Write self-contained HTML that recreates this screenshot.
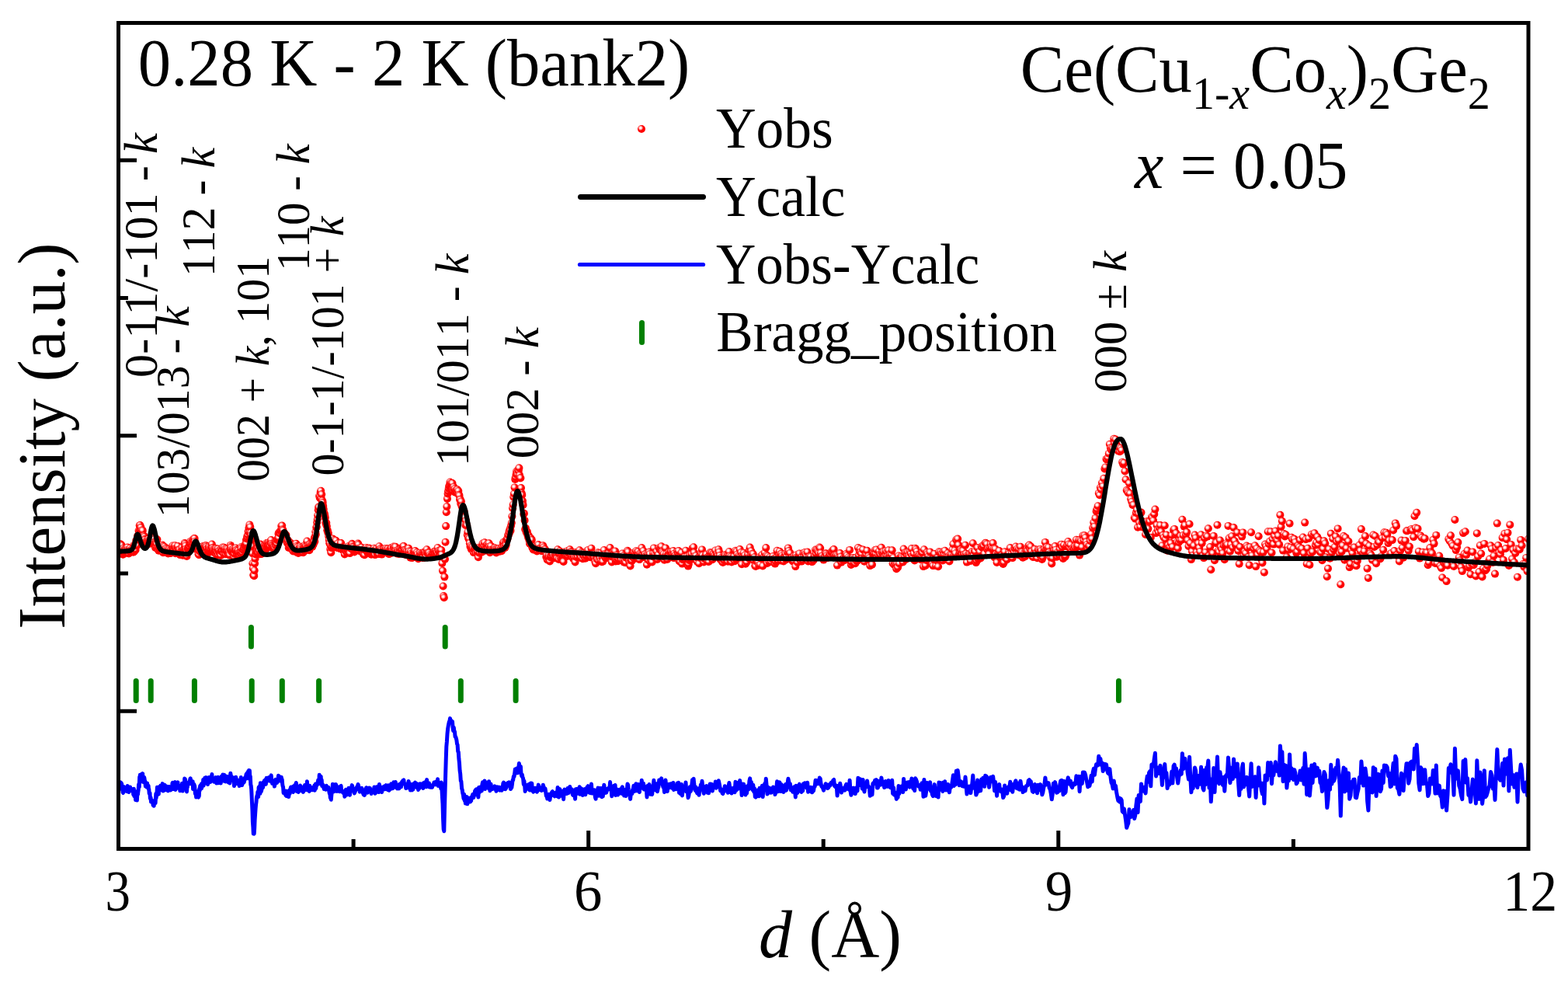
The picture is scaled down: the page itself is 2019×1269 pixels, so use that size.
<!DOCTYPE html>
<html><head><meta charset="utf-8"><title>Ce(Cu1-xCox)2Ge2 x = 0.05 diffraction</title>
<style>html,body{margin:0;padding:0;background:#fff;width:2019px;height:1269px;overflow:hidden}</style></head>
<body>
<svg width="2019" height="1269" viewBox="0 0 2019 1269" style="display:block">
<defs><radialGradient id="g" cx="0.38" cy="0.36" r="0.55"><stop offset="0" stop-color="#fff"/><stop offset="0.14" stop-color="#fff"/><stop offset="0.42" stop-color="#ff8c8c"/><stop offset="0.62" stop-color="#f00"/><stop offset="1" stop-color="#f00"/></radialGradient><clipPath id="cp"><rect x="155" y="32" width="1811" height="1058"/></clipPath></defs>
<rect width="2019" height="1269" fill="#fff"/>
<g fill="url(#g)" clip-path="url(#cp)">
<circle cx="152.5" cy="706.7" r="5"/><circle cx="152.8" cy="704.5" r="5"/><circle cx="153.2" cy="706.5" r="5"/><circle cx="153.6" cy="706.9" r="5"/><circle cx="153.9" cy="707.3" r="5"/><circle cx="154.3" cy="706.6" r="5"/><circle cx="154.6" cy="703.7" r="5"/><circle cx="155.0" cy="700.3" r="5"/><circle cx="155.3" cy="704.2" r="5"/><circle cx="155.7" cy="700.8" r="5"/><circle cx="156.0" cy="706.1" r="5"/><circle cx="156.4" cy="706.0" r="5"/><circle cx="156.7" cy="702.1" r="5"/><circle cx="157.1" cy="708.9" r="5"/><circle cx="157.4" cy="710.2" r="5"/><circle cx="157.8" cy="708.8" r="5"/><circle cx="158.1" cy="713.2" r="5"/><circle cx="158.5" cy="713.8" r="5"/><circle cx="158.8" cy="705.8" r="5"/><circle cx="159.2" cy="711.3" r="5"/><circle cx="159.5" cy="709.5" r="5"/><circle cx="159.9" cy="709.3" r="5"/><circle cx="160.2" cy="710.7" r="5"/><circle cx="160.6" cy="706.7" r="5"/><circle cx="161.0" cy="707.3" r="5"/><circle cx="161.3" cy="707.0" r="5"/><circle cx="161.7" cy="707.5" r="5"/><circle cx="162.0" cy="709.7" r="5"/><circle cx="162.4" cy="706.6" r="5"/><circle cx="162.7" cy="707.8" r="5"/><circle cx="163.1" cy="711.7" r="5"/><circle cx="163.4" cy="709.6" r="5"/><circle cx="163.8" cy="710.4" r="5"/><circle cx="164.2" cy="704.6" r="5"/><circle cx="164.5" cy="707.8" r="5"/><circle cx="164.9" cy="708.7" r="5"/><circle cx="165.2" cy="710.5" r="5"/><circle cx="165.6" cy="709.0" r="5"/><circle cx="165.9" cy="712.5" r="5"/><circle cx="166.3" cy="709.2" r="5"/><circle cx="166.7" cy="708.4" r="5"/><circle cx="167.0" cy="707.6" r="5"/><circle cx="167.4" cy="708.7" r="5"/><circle cx="167.7" cy="705.6" r="5"/><circle cx="168.1" cy="710.0" r="5"/><circle cx="168.4" cy="708.9" r="5"/><circle cx="168.8" cy="708.4" r="5"/><circle cx="169.2" cy="707.9" r="5"/><circle cx="169.5" cy="708.3" r="5"/><circle cx="169.9" cy="708.7" r="5"/><circle cx="170.2" cy="707.9" r="5"/><circle cx="170.6" cy="706.4" r="5"/><circle cx="171.0" cy="708.2" r="5"/><circle cx="171.3" cy="707.2" r="5"/><circle cx="171.7" cy="710.7" r="5"/><circle cx="172.0" cy="707.4" r="5"/><circle cx="172.4" cy="701.7" r="5"/><circle cx="172.8" cy="709.9" r="5"/><circle cx="173.1" cy="706.3" r="5"/><circle cx="173.5" cy="702.4" r="5"/><circle cx="173.8" cy="704.1" r="5"/><circle cx="174.2" cy="701.3" r="5"/><circle cx="174.6" cy="707.7" r="5"/><circle cx="174.9" cy="702.2" r="5"/><circle cx="175.3" cy="695.5" r="5"/><circle cx="175.7" cy="699.8" r="5"/><circle cx="176.0" cy="696.6" r="5"/><circle cx="176.4" cy="702.1" r="5"/><circle cx="176.8" cy="693.9" r="5"/><circle cx="177.1" cy="689.8" r="5"/><circle cx="177.5" cy="694.3" r="5"/><circle cx="177.8" cy="691.5" r="5"/><circle cx="178.2" cy="689.5" r="5"/><circle cx="178.6" cy="683.1" r="5"/><circle cx="178.9" cy="687.5" r="5"/><circle cx="179.3" cy="688.2" r="5"/><circle cx="179.7" cy="676.4" r="5"/><circle cx="180.0" cy="682.1" r="5"/><circle cx="180.4" cy="676.0" r="5"/><circle cx="180.8" cy="683.0" r="5"/><circle cx="181.1" cy="678.9" r="5"/><circle cx="181.5" cy="679.0" r="5"/><circle cx="181.9" cy="684.2" r="5"/><circle cx="182.2" cy="684.2" r="5"/><circle cx="182.6" cy="682.4" r="5"/><circle cx="183.0" cy="686.8" r="5"/><circle cx="183.3" cy="684.8" r="5"/><circle cx="183.7" cy="682.9" r="5"/><circle cx="184.1" cy="694.4" r="5"/><circle cx="184.4" cy="689.7" r="5"/><circle cx="184.8" cy="690.3" r="5"/><circle cx="185.2" cy="693.8" r="5"/><circle cx="185.5" cy="689.7" r="5"/><circle cx="185.9" cy="691.0" r="5"/><circle cx="186.3" cy="694.1" r="5"/><circle cx="186.7" cy="695.1" r="5"/><circle cx="187.0" cy="697.9" r="5"/><circle cx="187.4" cy="701.9" r="5"/><circle cx="187.8" cy="698.8" r="5"/><circle cx="188.1" cy="701.7" r="5"/><circle cx="188.5" cy="701.7" r="5"/><circle cx="188.9" cy="696.6" r="5"/><circle cx="189.2" cy="699.0" r="5"/><circle cx="189.6" cy="695.2" r="5"/><circle cx="190.0" cy="700.0" r="5"/><circle cx="190.4" cy="698.4" r="5"/><circle cx="190.7" cy="697.5" r="5"/><circle cx="191.1" cy="694.1" r="5"/><circle cx="191.5" cy="698.0" r="5"/><circle cx="191.8" cy="695.8" r="5"/><circle cx="192.2" cy="699.6" r="5"/><circle cx="192.6" cy="697.2" r="5"/><circle cx="193.0" cy="695.2" r="5"/><circle cx="193.3" cy="699.5" r="5"/><circle cx="193.7" cy="698.8" r="5"/><circle cx="194.1" cy="694.9" r="5"/><circle cx="194.5" cy="698.6" r="5"/><circle cx="194.8" cy="693.8" r="5"/><circle cx="195.2" cy="692.9" r="5"/><circle cx="195.6" cy="693.7" r="5"/><circle cx="196.0" cy="691.4" r="5"/><circle cx="196.3" cy="692.1" r="5"/><circle cx="196.7" cy="692.7" r="5"/><circle cx="197.1" cy="697.2" r="5"/><circle cx="197.5" cy="697.8" r="5"/><circle cx="197.8" cy="694.5" r="5"/><circle cx="198.2" cy="700.8" r="5"/><circle cx="198.6" cy="697.8" r="5"/><circle cx="199.0" cy="699.6" r="5"/><circle cx="199.3" cy="701.0" r="5"/><circle cx="199.7" cy="699.5" r="5"/><circle cx="200.1" cy="705.0" r="5"/><circle cx="200.5" cy="699.7" r="5"/><circle cx="200.8" cy="696.4" r="5"/><circle cx="201.2" cy="703.2" r="5"/><circle cx="201.6" cy="699.3" r="5"/><circle cx="202.0" cy="700.2" r="5"/><circle cx="202.4" cy="694.2" r="5"/><circle cx="202.7" cy="705.4" r="5"/><circle cx="203.1" cy="705.7" r="5"/><circle cx="203.5" cy="706.2" r="5"/><circle cx="203.9" cy="707.0" r="5"/><circle cx="204.3" cy="708.8" r="5"/><circle cx="204.6" cy="704.0" r="5"/><circle cx="205.0" cy="706.1" r="5"/><circle cx="205.4" cy="701.7" r="5"/><circle cx="205.8" cy="703.1" r="5"/><circle cx="206.2" cy="707.4" r="5"/><circle cx="206.5" cy="706.4" r="5"/><circle cx="206.9" cy="702.3" r="5"/><circle cx="207.3" cy="706.7" r="5"/><circle cx="207.7" cy="705.1" r="5"/><circle cx="208.1" cy="703.1" r="5"/><circle cx="208.4" cy="706.1" r="5"/><circle cx="208.8" cy="704.0" r="5"/><circle cx="209.2" cy="701.5" r="5"/><circle cx="209.6" cy="703.3" r="5"/><circle cx="210.0" cy="711.3" r="5"/><circle cx="210.4" cy="703.0" r="5"/><circle cx="210.7" cy="707.4" r="5"/><circle cx="211.1" cy="708.3" r="5"/><circle cx="211.5" cy="708.5" r="5"/><circle cx="211.9" cy="703.9" r="5"/><circle cx="212.3" cy="706.7" r="5"/><circle cx="212.7" cy="708.5" r="5"/><circle cx="213.0" cy="710.7" r="5"/><circle cx="213.4" cy="707.4" r="5"/><circle cx="213.8" cy="705.9" r="5"/><circle cx="214.2" cy="710.9" r="5"/><circle cx="214.6" cy="710.6" r="5"/><circle cx="215.0" cy="708.7" r="5"/><circle cx="215.4" cy="706.8" r="5"/><circle cx="215.7" cy="710.1" r="5"/><circle cx="216.1" cy="710.0" r="5"/><circle cx="216.5" cy="712.4" r="5"/><circle cx="216.9" cy="707.3" r="5"/><circle cx="217.3" cy="710.9" r="5"/><circle cx="217.7" cy="709.9" r="5"/><circle cx="218.1" cy="707.1" r="5"/><circle cx="218.4" cy="710.2" r="5"/><circle cx="218.8" cy="709.8" r="5"/><circle cx="219.2" cy="709.2" r="5"/><circle cx="219.6" cy="712.1" r="5"/><circle cx="220.0" cy="707.9" r="5"/><circle cx="220.4" cy="711.1" r="5"/><circle cx="220.8" cy="711.1" r="5"/><circle cx="221.2" cy="709.1" r="5"/><circle cx="221.6" cy="709.9" r="5"/><circle cx="221.9" cy="703.5" r="5"/><circle cx="222.3" cy="702.5" r="5"/><circle cx="222.7" cy="706.8" r="5"/><circle cx="223.1" cy="706.9" r="5"/><circle cx="223.5" cy="710.8" r="5"/><circle cx="223.9" cy="706.8" r="5"/><circle cx="224.3" cy="703.4" r="5"/><circle cx="224.7" cy="708.3" r="5"/><circle cx="225.1" cy="704.2" r="5"/><circle cx="225.5" cy="702.2" r="5"/><circle cx="225.9" cy="712.2" r="5"/><circle cx="226.2" cy="705.8" r="5"/><circle cx="226.6" cy="706.6" r="5"/><circle cx="227.0" cy="706.5" r="5"/><circle cx="227.4" cy="710.4" r="5"/><circle cx="227.8" cy="707.2" r="5"/><circle cx="228.2" cy="710.1" r="5"/><circle cx="228.6" cy="704.3" r="5"/><circle cx="229.0" cy="702.9" r="5"/><circle cx="229.4" cy="709.7" r="5"/><circle cx="229.8" cy="709.7" r="5"/><circle cx="230.2" cy="707.6" r="5"/><circle cx="230.6" cy="707.8" r="5"/><circle cx="231.0" cy="708.7" r="5"/><circle cx="231.4" cy="707.6" r="5"/><circle cx="231.8" cy="714.1" r="5"/><circle cx="232.2" cy="712.1" r="5"/><circle cx="232.6" cy="711.4" r="5"/><circle cx="233.0" cy="710.4" r="5"/><circle cx="233.3" cy="711.3" r="5"/><circle cx="233.7" cy="709.3" r="5"/><circle cx="234.1" cy="709.7" r="5"/><circle cx="234.5" cy="705.0" r="5"/><circle cx="234.9" cy="709.9" r="5"/><circle cx="235.3" cy="714.8" r="5"/><circle cx="235.7" cy="708.0" r="5"/><circle cx="236.1" cy="708.7" r="5"/><circle cx="236.5" cy="710.5" r="5"/><circle cx="236.9" cy="709.0" r="5"/><circle cx="237.3" cy="706.3" r="5"/><circle cx="237.7" cy="699.0" r="5"/><circle cx="238.1" cy="703.8" r="5"/><circle cx="238.5" cy="700.1" r="5"/><circle cx="238.9" cy="702.5" r="5"/><circle cx="239.3" cy="707.6" r="5"/><circle cx="239.7" cy="706.4" r="5"/><circle cx="240.1" cy="709.6" r="5"/><circle cx="240.5" cy="716.0" r="5"/><circle cx="240.9" cy="710.2" r="5"/><circle cx="241.3" cy="710.2" r="5"/><circle cx="241.7" cy="706.0" r="5"/><circle cx="242.1" cy="706.5" r="5"/><circle cx="242.5" cy="705.1" r="5"/><circle cx="242.9" cy="705.9" r="5"/><circle cx="243.3" cy="703.5" r="5"/><circle cx="243.7" cy="703.4" r="5"/><circle cx="244.1" cy="703.3" r="5"/><circle cx="244.5" cy="700.0" r="5"/><circle cx="244.9" cy="697.8" r="5"/><circle cx="245.3" cy="696.9" r="5"/><circle cx="245.7" cy="700.4" r="5"/><circle cx="246.2" cy="698.6" r="5"/><circle cx="246.6" cy="700.9" r="5"/><circle cx="247.0" cy="701.2" r="5"/><circle cx="247.4" cy="698.0" r="5"/><circle cx="247.8" cy="700.7" r="5"/><circle cx="248.2" cy="694.8" r="5"/><circle cx="248.6" cy="703.4" r="5"/><circle cx="249.0" cy="699.6" r="5"/><circle cx="249.4" cy="695.5" r="5"/><circle cx="249.8" cy="693.3" r="5"/><circle cx="250.2" cy="698.0" r="5"/><circle cx="250.6" cy="693.1" r="5"/><circle cx="251.0" cy="697.0" r="5"/><circle cx="251.4" cy="702.3" r="5"/><circle cx="251.8" cy="702.1" r="5"/><circle cx="252.2" cy="702.2" r="5"/><circle cx="252.6" cy="707.0" r="5"/><circle cx="253.1" cy="702.4" r="5"/><circle cx="253.5" cy="705.8" r="5"/><circle cx="253.9" cy="703.6" r="5"/><circle cx="254.3" cy="702.8" r="5"/><circle cx="254.7" cy="707.0" r="5"/><circle cx="255.1" cy="704.6" r="5"/><circle cx="255.5" cy="713.3" r="5"/><circle cx="255.9" cy="707.6" r="5"/><circle cx="256.3" cy="714.1" r="5"/><circle cx="256.7" cy="705.6" r="5"/><circle cx="257.1" cy="709.5" r="5"/><circle cx="257.6" cy="704.7" r="5"/><circle cx="258.0" cy="704.6" r="5"/><circle cx="258.4" cy="708.9" r="5"/><circle cx="258.8" cy="710.6" r="5"/><circle cx="259.2" cy="705.4" r="5"/><circle cx="259.6" cy="711.3" r="5"/><circle cx="260.0" cy="705.9" r="5"/><circle cx="260.4" cy="708.4" r="5"/><circle cx="260.8" cy="709.3" r="5"/><circle cx="261.3" cy="709.7" r="5"/><circle cx="261.7" cy="703.0" r="5"/><circle cx="262.1" cy="711.1" r="5"/><circle cx="262.5" cy="708.0" r="5"/><circle cx="262.9" cy="705.5" r="5"/><circle cx="263.3" cy="704.1" r="5"/><circle cx="263.7" cy="702.4" r="5"/><circle cx="264.1" cy="702.9" r="5"/><circle cx="264.6" cy="707.3" r="5"/><circle cx="265.0" cy="704.6" r="5"/><circle cx="265.4" cy="702.3" r="5"/><circle cx="265.8" cy="704.1" r="5"/><circle cx="266.2" cy="710.2" r="5"/><circle cx="266.6" cy="706.2" r="5"/><circle cx="267.1" cy="706.5" r="5"/><circle cx="267.5" cy="712.1" r="5"/><circle cx="267.9" cy="709.9" r="5"/><circle cx="268.3" cy="708.4" r="5"/><circle cx="268.7" cy="706.2" r="5"/><circle cx="269.1" cy="703.5" r="5"/><circle cx="269.6" cy="704.6" r="5"/><circle cx="270.0" cy="706.9" r="5"/><circle cx="270.4" cy="708.1" r="5"/><circle cx="270.8" cy="709.8" r="5"/><circle cx="271.2" cy="709.7" r="5"/><circle cx="271.6" cy="707.9" r="5"/><circle cx="272.1" cy="707.0" r="5"/><circle cx="272.5" cy="703.3" r="5"/><circle cx="272.9" cy="700.5" r="5"/><circle cx="273.3" cy="705.4" r="5"/><circle cx="273.7" cy="705.5" r="5"/><circle cx="274.2" cy="707.6" r="5"/><circle cx="274.6" cy="709.9" r="5"/><circle cx="275.0" cy="708.2" r="5"/><circle cx="275.4" cy="708.9" r="5"/><circle cx="275.8" cy="711.2" r="5"/><circle cx="276.3" cy="711.0" r="5"/><circle cx="276.7" cy="707.8" r="5"/><circle cx="277.1" cy="709.9" r="5"/><circle cx="277.5" cy="707.8" r="5"/><circle cx="277.9" cy="706.1" r="5"/><circle cx="278.4" cy="709.3" r="5"/><circle cx="278.8" cy="713.9" r="5"/><circle cx="279.2" cy="706.7" r="5"/><circle cx="279.6" cy="710.9" r="5"/><circle cx="280.1" cy="711.4" r="5"/><circle cx="280.5" cy="712.1" r="5"/><circle cx="280.9" cy="706.6" r="5"/><circle cx="281.3" cy="714.3" r="5"/><circle cx="281.8" cy="709.6" r="5"/><circle cx="282.2" cy="708.8" r="5"/><circle cx="282.6" cy="709.2" r="5"/><circle cx="283.0" cy="711.9" r="5"/><circle cx="283.5" cy="711.2" r="5"/><circle cx="283.9" cy="711.3" r="5"/><circle cx="284.3" cy="715.0" r="5"/><circle cx="284.7" cy="709.0" r="5"/><circle cx="285.2" cy="706.7" r="5"/><circle cx="285.6" cy="709.9" r="5"/><circle cx="286.0" cy="708.6" r="5"/><circle cx="286.4" cy="709.4" r="5"/><circle cx="286.9" cy="704.4" r="5"/><circle cx="287.3" cy="710.7" r="5"/><circle cx="287.7" cy="709.5" r="5"/><circle cx="288.2" cy="712.7" r="5"/><circle cx="288.6" cy="704.8" r="5"/><circle cx="289.0" cy="709.0" r="5"/><circle cx="289.4" cy="708.8" r="5"/><circle cx="289.9" cy="706.5" r="5"/><circle cx="290.3" cy="709.2" r="5"/><circle cx="290.7" cy="713.3" r="5"/><circle cx="291.2" cy="708.1" r="5"/><circle cx="291.6" cy="706.4" r="5"/><circle cx="292.0" cy="709.9" r="5"/><circle cx="292.4" cy="710.2" r="5"/><circle cx="292.9" cy="710.5" r="5"/><circle cx="293.3" cy="706.7" r="5"/><circle cx="293.7" cy="709.8" r="5"/><circle cx="294.2" cy="713.8" r="5"/><circle cx="294.6" cy="710.3" r="5"/><circle cx="295.0" cy="710.1" r="5"/><circle cx="295.5" cy="713.6" r="5"/><circle cx="295.9" cy="714.6" r="5"/><circle cx="296.3" cy="706.6" r="5"/><circle cx="296.8" cy="701.9" r="5"/><circle cx="297.2" cy="704.1" r="5"/><circle cx="297.6" cy="705.0" r="5"/><circle cx="298.1" cy="707.7" r="5"/><circle cx="298.5" cy="710.5" r="5"/><circle cx="298.9" cy="709.3" r="5"/><circle cx="299.4" cy="708.1" r="5"/><circle cx="299.8" cy="710.0" r="5"/><circle cx="300.2" cy="706.8" r="5"/><circle cx="300.7" cy="709.1" r="5"/><circle cx="301.1" cy="708.0" r="5"/><circle cx="301.5" cy="717.2" r="5"/><circle cx="302.0" cy="712.8" r="5"/><circle cx="302.4" cy="708.5" r="5"/><circle cx="302.8" cy="707.6" r="5"/><circle cx="303.3" cy="708.6" r="5"/><circle cx="303.7" cy="705.4" r="5"/><circle cx="304.2" cy="708.0" r="5"/><circle cx="304.6" cy="708.5" r="5"/><circle cx="305.0" cy="713.4" r="5"/><circle cx="305.5" cy="710.8" r="5"/><circle cx="305.9" cy="710.3" r="5"/><circle cx="306.4" cy="708.9" r="5"/><circle cx="306.8" cy="709.0" r="5"/><circle cx="307.2" cy="711.8" r="5"/><circle cx="307.7" cy="711.8" r="5"/><circle cx="308.1" cy="715.8" r="5"/><circle cx="308.5" cy="711.3" r="5"/><circle cx="309.0" cy="715.1" r="5"/><circle cx="309.4" cy="711.9" r="5"/><circle cx="309.9" cy="710.1" r="5"/><circle cx="310.3" cy="704.3" r="5"/><circle cx="310.7" cy="706.1" r="5"/><circle cx="311.2" cy="711.7" r="5"/><circle cx="311.6" cy="713.7" r="5"/><circle cx="312.1" cy="710.5" r="5"/><circle cx="312.5" cy="711.4" r="5"/><circle cx="313.0" cy="707.5" r="5"/><circle cx="313.4" cy="706.7" r="5"/><circle cx="313.8" cy="705.1" r="5"/><circle cx="314.3" cy="708.4" r="5"/><circle cx="314.7" cy="705.7" r="5"/><circle cx="315.2" cy="702.8" r="5"/><circle cx="315.6" cy="701.0" r="5"/><circle cx="316.1" cy="701.8" r="5"/><circle cx="316.5" cy="699.7" r="5"/><circle cx="317.0" cy="695.1" r="5"/><circle cx="317.4" cy="699.7" r="5"/><circle cx="317.8" cy="693.5" r="5"/><circle cx="318.3" cy="690.3" r="5"/><circle cx="318.7" cy="691.6" r="5"/><circle cx="319.2" cy="688.5" r="5"/><circle cx="319.6" cy="684.1" r="5"/><circle cx="320.1" cy="684.4" r="5"/><circle cx="320.5" cy="679.3" r="5"/><circle cx="321.0" cy="679.7" r="5"/><circle cx="321.4" cy="675.4" r="5"/><circle cx="321.9" cy="685.0" r="5"/><circle cx="322.3" cy="678.4" r="5"/><circle cx="322.8" cy="687.2" r="5"/><circle cx="323.2" cy="685.9" r="5"/><circle cx="323.7" cy="688.9" r="5"/><circle cx="324.1" cy="695.3" r="5"/><circle cx="324.5" cy="702.9" r="5"/><circle cx="325.0" cy="712.3" r="5"/><circle cx="325.4" cy="725.3" r="5"/><circle cx="325.9" cy="731.5" r="5"/><circle cx="326.3" cy="740.2" r="5"/><circle cx="326.8" cy="739.5" r="5"/><circle cx="327.2" cy="741.2" r="5"/><circle cx="327.7" cy="734.2" r="5"/><circle cx="328.1" cy="725.2" r="5"/><circle cx="328.6" cy="719.0" r="5"/><circle cx="329.1" cy="713.5" r="5"/><circle cx="329.5" cy="710.3" r="5"/><circle cx="330.0" cy="708.4" r="5"/><circle cx="330.4" cy="704.7" r="5"/><circle cx="330.9" cy="703.7" r="5"/><circle cx="331.3" cy="707.8" r="5"/><circle cx="331.8" cy="702.1" r="5"/><circle cx="332.2" cy="705.4" r="5"/><circle cx="332.7" cy="711.5" r="5"/><circle cx="333.1" cy="700.7" r="5"/><circle cx="333.6" cy="705.7" r="5"/><circle cx="334.0" cy="708.9" r="5"/><circle cx="334.5" cy="702.4" r="5"/><circle cx="334.9" cy="713.3" r="5"/><circle cx="335.4" cy="700.6" r="5"/><circle cx="335.9" cy="711.9" r="5"/><circle cx="336.3" cy="713.1" r="5"/><circle cx="336.8" cy="711.9" r="5"/><circle cx="337.2" cy="709.2" r="5"/><circle cx="337.7" cy="710.6" r="5"/><circle cx="338.1" cy="707.0" r="5"/><circle cx="338.6" cy="710.3" r="5"/><circle cx="339.1" cy="703.9" r="5"/><circle cx="339.5" cy="704.7" r="5"/><circle cx="340.0" cy="707.4" r="5"/><circle cx="340.4" cy="702.2" r="5"/><circle cx="340.9" cy="704.4" r="5"/><circle cx="341.3" cy="705.8" r="5"/><circle cx="341.8" cy="701.4" r="5"/><circle cx="342.3" cy="707.1" r="5"/><circle cx="342.7" cy="704.4" r="5"/><circle cx="343.2" cy="699.0" r="5"/><circle cx="343.6" cy="702.3" r="5"/><circle cx="344.1" cy="700.1" r="5"/><circle cx="344.6" cy="700.0" r="5"/><circle cx="345.0" cy="701.4" r="5"/><circle cx="345.5" cy="698.7" r="5"/><circle cx="345.9" cy="702.4" r="5"/><circle cx="346.4" cy="698.0" r="5"/><circle cx="346.9" cy="702.7" r="5"/><circle cx="347.3" cy="700.5" r="5"/><circle cx="347.8" cy="702.6" r="5"/><circle cx="348.3" cy="698.1" r="5"/><circle cx="348.7" cy="697.2" r="5"/><circle cx="349.2" cy="695.1" r="5"/><circle cx="349.6" cy="699.8" r="5"/><circle cx="350.1" cy="701.4" r="5"/><circle cx="350.6" cy="705.2" r="5"/><circle cx="351.0" cy="703.6" r="5"/><circle cx="351.5" cy="701.7" r="5"/><circle cx="352.0" cy="701.6" r="5"/><circle cx="352.4" cy="704.4" r="5"/><circle cx="352.9" cy="704.1" r="5"/><circle cx="353.4" cy="707.8" r="5"/><circle cx="353.8" cy="705.4" r="5"/><circle cx="354.3" cy="699.2" r="5"/><circle cx="354.8" cy="698.1" r="5"/><circle cx="355.2" cy="702.2" r="5"/><circle cx="355.7" cy="698.6" r="5"/><circle cx="356.2" cy="696.6" r="5"/><circle cx="356.6" cy="699.8" r="5"/><circle cx="357.1" cy="695.2" r="5"/><circle cx="357.6" cy="694.5" r="5"/><circle cx="358.0" cy="692.6" r="5"/><circle cx="358.5" cy="686.9" r="5"/><circle cx="359.0" cy="692.3" r="5"/><circle cx="359.4" cy="685.3" r="5"/><circle cx="359.9" cy="685.7" r="5"/><circle cx="360.4" cy="684.2" r="5"/><circle cx="360.9" cy="686.8" r="5"/><circle cx="361.3" cy="683.5" r="5"/><circle cx="361.8" cy="682.4" r="5"/><circle cx="362.3" cy="677.0" r="5"/><circle cx="362.7" cy="680.3" r="5"/><circle cx="363.2" cy="676.6" r="5"/><circle cx="363.7" cy="681.4" r="5"/><circle cx="364.1" cy="682.4" r="5"/><circle cx="364.6" cy="682.7" r="5"/><circle cx="365.1" cy="689.3" r="5"/><circle cx="365.6" cy="686.5" r="5"/><circle cx="366.0" cy="687.6" r="5"/><circle cx="366.5" cy="687.3" r="5"/><circle cx="367.0" cy="687.4" r="5"/><circle cx="367.5" cy="691.6" r="5"/><circle cx="367.9" cy="693.3" r="5"/><circle cx="368.4" cy="688.6" r="5"/><circle cx="368.9" cy="696.2" r="5"/><circle cx="369.4" cy="696.3" r="5"/><circle cx="369.8" cy="698.8" r="5"/><circle cx="370.3" cy="698.7" r="5"/><circle cx="370.8" cy="695.2" r="5"/><circle cx="371.3" cy="696.2" r="5"/><circle cx="371.7" cy="704.9" r="5"/><circle cx="372.2" cy="702.1" r="5"/><circle cx="372.7" cy="698.9" r="5"/><circle cx="373.2" cy="704.3" r="5"/><circle cx="373.6" cy="703.1" r="5"/><circle cx="374.1" cy="699.7" r="5"/><circle cx="374.6" cy="699.1" r="5"/><circle cx="375.1" cy="701.3" r="5"/><circle cx="375.6" cy="706.5" r="5"/><circle cx="376.0" cy="706.0" r="5"/><circle cx="376.5" cy="706.0" r="5"/><circle cx="377.0" cy="708.1" r="5"/><circle cx="377.5" cy="709.5" r="5"/><circle cx="378.0" cy="702.6" r="5"/><circle cx="378.4" cy="706.6" r="5"/><circle cx="378.9" cy="704.3" r="5"/><circle cx="379.4" cy="702.2" r="5"/><circle cx="379.9" cy="703.0" r="5"/><circle cx="380.4" cy="703.3" r="5"/><circle cx="380.8" cy="702.5" r="5"/><circle cx="381.3" cy="699.7" r="5"/><circle cx="381.8" cy="703.0" r="5"/><circle cx="382.3" cy="710.9" r="5"/><circle cx="382.8" cy="704.6" r="5"/><circle cx="383.2" cy="704.4" r="5"/><circle cx="383.7" cy="710.6" r="5"/><circle cx="384.2" cy="711.9" r="5"/><circle cx="384.7" cy="711.1" r="5"/><circle cx="385.2" cy="705.7" r="5"/><circle cx="385.7" cy="709.7" r="5"/><circle cx="386.2" cy="704.3" r="5"/><circle cx="386.6" cy="703.4" r="5"/><circle cx="387.1" cy="705.3" r="5"/><circle cx="387.6" cy="707.3" r="5"/><circle cx="388.1" cy="709.8" r="5"/><circle cx="388.6" cy="709.6" r="5"/><circle cx="389.1" cy="708.0" r="5"/><circle cx="389.6" cy="710.7" r="5"/><circle cx="390.0" cy="709.0" r="5"/><circle cx="390.5" cy="711.3" r="5"/><circle cx="391.0" cy="705.2" r="5"/><circle cx="391.5" cy="704.0" r="5"/><circle cx="392.0" cy="708.9" r="5"/><circle cx="392.5" cy="702.1" r="5"/><circle cx="393.0" cy="704.0" r="5"/><circle cx="393.5" cy="704.2" r="5"/><circle cx="393.9" cy="703.2" r="5"/><circle cx="394.4" cy="703.2" r="5"/><circle cx="394.9" cy="707.5" r="5"/><circle cx="395.4" cy="696.6" r="5"/><circle cx="395.9" cy="704.6" r="5"/><circle cx="396.4" cy="707.6" r="5"/><circle cx="396.9" cy="701.5" r="5"/><circle cx="397.4" cy="701.8" r="5"/><circle cx="397.9" cy="704.6" r="5"/><circle cx="398.4" cy="708.3" r="5"/><circle cx="398.8" cy="700.9" r="5"/><circle cx="399.3" cy="703.9" r="5"/><circle cx="399.8" cy="702.3" r="5"/><circle cx="400.3" cy="703.4" r="5"/><circle cx="400.8" cy="701.9" r="5"/><circle cx="401.3" cy="703.6" r="5"/><circle cx="401.8" cy="701.7" r="5"/><circle cx="402.3" cy="703.6" r="5"/><circle cx="402.8" cy="701.7" r="5"/><circle cx="403.3" cy="700.7" r="5"/><circle cx="403.8" cy="700.1" r="5"/><circle cx="404.3" cy="697.6" r="5"/><circle cx="404.8" cy="692.4" r="5"/><circle cx="405.3" cy="697.0" r="5"/><circle cx="405.8" cy="690.3" r="5"/><circle cx="406.3" cy="684.5" r="5"/><circle cx="406.8" cy="687.8" r="5"/><circle cx="407.3" cy="679.1" r="5"/><circle cx="407.8" cy="678.1" r="5"/><circle cx="408.2" cy="672.4" r="5"/><circle cx="408.7" cy="668.5" r="5"/><circle cx="409.2" cy="663.3" r="5"/><circle cx="409.7" cy="656.2" r="5"/><circle cx="410.2" cy="652.6" r="5"/><circle cx="410.7" cy="653.1" r="5"/><circle cx="411.2" cy="638.2" r="5"/><circle cx="411.7" cy="640.8" r="5"/><circle cx="412.2" cy="639.1" r="5"/><circle cx="412.7" cy="633.3" r="5"/><circle cx="413.2" cy="631.7" r="5"/><circle cx="413.7" cy="641.2" r="5"/><circle cx="414.2" cy="636.3" r="5"/><circle cx="414.7" cy="645.2" r="5"/><circle cx="415.2" cy="644.5" r="5"/><circle cx="415.7" cy="646.9" r="5"/><circle cx="416.2" cy="651.4" r="5"/><circle cx="416.7" cy="655.3" r="5"/><circle cx="417.3" cy="660.1" r="5"/><circle cx="417.8" cy="661.3" r="5"/><circle cx="418.3" cy="663.5" r="5"/><circle cx="418.8" cy="666.4" r="5"/><circle cx="419.3" cy="672.5" r="5"/><circle cx="419.8" cy="674.4" r="5"/><circle cx="420.3" cy="673.1" r="5"/><circle cx="420.8" cy="677.2" r="5"/><circle cx="421.3" cy="682.5" r="5"/><circle cx="421.8" cy="682.5" r="5"/><circle cx="422.3" cy="685.5" r="5"/><circle cx="422.8" cy="686.4" r="5"/><circle cx="423.3" cy="690.6" r="5"/><circle cx="423.8" cy="694.9" r="5"/><circle cx="424.3" cy="699.2" r="5"/><circle cx="424.8" cy="699.4" r="5"/><circle cx="425.3" cy="706.9" r="5"/><circle cx="425.8" cy="702.5" r="5"/><circle cx="426.3" cy="711.2" r="5"/><circle cx="426.9" cy="705.1" r="5"/><circle cx="427.4" cy="703.2" r="5"/><circle cx="427.9" cy="700.0" r="5"/><circle cx="428.4" cy="693.4" r="5"/><circle cx="428.9" cy="699.8" r="5"/><circle cx="429.4" cy="700.1" r="5"/><circle cx="429.9" cy="704.1" r="5"/><circle cx="430.4" cy="695.3" r="5"/><circle cx="430.9" cy="704.2" r="5"/><circle cx="431.4" cy="699.5" r="5"/><circle cx="432.0" cy="703.2" r="5"/><circle cx="432.5" cy="695.7" r="5"/><circle cx="433.0" cy="703.4" r="5"/><circle cx="433.5" cy="702.5" r="5"/><circle cx="434.0" cy="705.0" r="5"/><circle cx="434.5" cy="703.1" r="5"/><circle cx="435.0" cy="699.6" r="5"/><circle cx="435.5" cy="704.9" r="5"/><circle cx="436.1" cy="704.5" r="5"/><circle cx="436.6" cy="704.6" r="5"/><circle cx="437.1" cy="705.8" r="5"/><circle cx="437.6" cy="705.9" r="5"/><circle cx="438.1" cy="702.8" r="5"/><circle cx="438.6" cy="699.2" r="5"/><circle cx="439.1" cy="699.0" r="5"/><circle cx="439.7" cy="706.4" r="5"/><circle cx="440.2" cy="705.6" r="5"/><circle cx="440.7" cy="705.6" r="5"/><circle cx="441.2" cy="705.8" r="5"/><circle cx="441.7" cy="708.1" r="5"/><circle cx="442.2" cy="708.5" r="5"/><circle cx="442.8" cy="707.5" r="5"/><circle cx="443.3" cy="706.3" r="5"/><circle cx="443.8" cy="713.4" r="5"/><circle cx="444.3" cy="708.1" r="5"/><circle cx="444.8" cy="706.0" r="5"/><circle cx="445.3" cy="704.4" r="5"/><circle cx="445.9" cy="706.4" r="5"/><circle cx="446.4" cy="710.7" r="5"/><circle cx="446.9" cy="711.2" r="5"/><circle cx="447.4" cy="708.5" r="5"/><circle cx="447.9" cy="708.3" r="5"/><circle cx="448.5" cy="706.1" r="5"/><circle cx="449.0" cy="703.0" r="5"/><circle cx="449.5" cy="708.9" r="5"/><circle cx="450.0" cy="706.5" r="5"/><circle cx="450.5" cy="712.1" r="5"/><circle cx="451.1" cy="703.3" r="5"/><circle cx="451.6" cy="704.3" r="5"/><circle cx="452.1" cy="706.3" r="5"/><circle cx="452.6" cy="703.0" r="5"/><circle cx="453.2" cy="699.8" r="5"/><circle cx="453.7" cy="700.8" r="5"/><circle cx="454.2" cy="703.6" r="5"/><circle cx="454.7" cy="704.6" r="5"/><circle cx="455.3" cy="704.5" r="5"/><circle cx="455.8" cy="708.9" r="5"/><circle cx="456.3" cy="710.4" r="5"/><circle cx="456.8" cy="709.3" r="5"/><circle cx="457.4" cy="708.0" r="5"/><circle cx="457.9" cy="705.6" r="5"/><circle cx="458.4" cy="705.9" r="5"/><circle cx="458.9" cy="705.5" r="5"/><circle cx="459.5" cy="702.8" r="5"/><circle cx="460.0" cy="703.8" r="5"/><circle cx="460.5" cy="702.0" r="5"/><circle cx="461.0" cy="699.5" r="5"/><circle cx="461.6" cy="701.0" r="5"/><circle cx="462.1" cy="706.1" r="5"/><circle cx="462.6" cy="705.9" r="5"/><circle cx="463.2" cy="709.3" r="5"/><circle cx="463.7" cy="705.4" r="5"/><circle cx="464.2" cy="707.2" r="5"/><circle cx="464.8" cy="708.2" r="5"/><circle cx="465.3" cy="707.7" r="5"/><circle cx="465.8" cy="704.7" r="5"/><circle cx="466.3" cy="707.8" r="5"/><circle cx="466.9" cy="710.7" r="5"/><circle cx="467.4" cy="709.1" r="5"/><circle cx="467.9" cy="713.0" r="5"/><circle cx="468.5" cy="713.7" r="5"/><circle cx="469.0" cy="708.8" r="5"/><circle cx="469.5" cy="714.3" r="5"/><circle cx="470.1" cy="707.7" r="5"/><circle cx="470.6" cy="707.2" r="5"/><circle cx="471.1" cy="706.6" r="5"/><circle cx="471.7" cy="704.9" r="5"/><circle cx="472.2" cy="707.6" r="5"/><circle cx="472.7" cy="706.8" r="5"/><circle cx="473.3" cy="711.6" r="5"/><circle cx="473.8" cy="709.8" r="5"/><circle cx="474.3" cy="710.5" r="5"/><circle cx="474.9" cy="708.9" r="5"/><circle cx="475.4" cy="705.6" r="5"/><circle cx="476.0" cy="708.7" r="5"/><circle cx="476.5" cy="706.4" r="5"/><circle cx="477.0" cy="711.0" r="5"/><circle cx="477.6" cy="708.7" r="5"/><circle cx="478.1" cy="713.7" r="5"/><circle cx="478.6" cy="711.8" r="5"/><circle cx="479.2" cy="712.2" r="5"/><circle cx="479.7" cy="710.5" r="5"/><circle cx="480.3" cy="709.9" r="5"/><circle cx="480.8" cy="710.5" r="5"/><circle cx="481.3" cy="710.5" r="5"/><circle cx="481.9" cy="705.7" r="5"/><circle cx="482.4" cy="708.4" r="5"/><circle cx="483.0" cy="714.1" r="5"/><circle cx="483.5" cy="707.8" r="5"/><circle cx="484.0" cy="708.4" r="5"/><circle cx="484.6" cy="707.9" r="5"/><circle cx="485.1" cy="706.0" r="5"/><circle cx="485.7" cy="712.4" r="5"/><circle cx="486.2" cy="708.8" r="5"/><circle cx="486.7" cy="708.8" r="5"/><circle cx="487.3" cy="712.2" r="5"/><circle cx="487.8" cy="713.0" r="5"/><circle cx="488.4" cy="703.2" r="5"/><circle cx="488.9" cy="707.6" r="5"/><circle cx="489.5" cy="706.5" r="5"/><circle cx="490.0" cy="706.7" r="5"/><circle cx="490.6" cy="708.3" r="5"/><circle cx="491.1" cy="708.5" r="5"/><circle cx="491.6" cy="713.6" r="5"/><circle cx="492.2" cy="710.9" r="5"/><circle cx="492.7" cy="709.2" r="5"/><circle cx="493.3" cy="710.2" r="5"/><circle cx="493.8" cy="708.4" r="5"/><circle cx="494.4" cy="706.9" r="5"/><circle cx="494.9" cy="706.6" r="5"/><circle cx="495.5" cy="710.7" r="5"/><circle cx="496.0" cy="707.9" r="5"/><circle cx="496.6" cy="707.0" r="5"/><circle cx="497.1" cy="705.9" r="5"/><circle cx="497.7" cy="708.2" r="5"/><circle cx="498.2" cy="707.3" r="5"/><circle cx="498.8" cy="711.1" r="5"/><circle cx="499.3" cy="712.0" r="5"/><circle cx="499.9" cy="706.3" r="5"/><circle cx="500.4" cy="711.8" r="5"/><circle cx="501.0" cy="713.1" r="5"/><circle cx="501.5" cy="711.0" r="5"/><circle cx="502.1" cy="707.0" r="5"/><circle cx="502.6" cy="712.0" r="5"/><circle cx="503.2" cy="706.4" r="5"/><circle cx="503.7" cy="705.1" r="5"/><circle cx="504.3" cy="705.8" r="5"/><circle cx="504.8" cy="708.9" r="5"/><circle cx="505.4" cy="711.4" r="5"/><circle cx="505.9" cy="711.2" r="5"/><circle cx="506.5" cy="707.8" r="5"/><circle cx="507.0" cy="703.6" r="5"/><circle cx="507.6" cy="705.1" r="5"/><circle cx="508.2" cy="705.0" r="5"/><circle cx="508.7" cy="707.4" r="5"/><circle cx="509.3" cy="703.8" r="5"/><circle cx="509.8" cy="709.3" r="5"/><circle cx="510.4" cy="711.3" r="5"/><circle cx="510.9" cy="710.1" r="5"/><circle cx="511.5" cy="712.6" r="5"/><circle cx="512.1" cy="709.6" r="5"/><circle cx="512.6" cy="708.1" r="5"/><circle cx="513.2" cy="709.4" r="5"/><circle cx="513.7" cy="713.0" r="5"/><circle cx="514.3" cy="711.8" r="5"/><circle cx="514.8" cy="707.4" r="5"/><circle cx="515.4" cy="711.4" r="5"/><circle cx="516.0" cy="707.0" r="5"/><circle cx="516.5" cy="711.3" r="5"/><circle cx="517.1" cy="708.0" r="5"/><circle cx="517.6" cy="704.9" r="5"/><circle cx="518.2" cy="707.7" r="5"/><circle cx="518.8" cy="703.5" r="5"/><circle cx="519.3" cy="703.5" r="5"/><circle cx="519.9" cy="703.0" r="5"/><circle cx="520.4" cy="708.2" r="5"/><circle cx="521.0" cy="708.0" r="5"/><circle cx="521.6" cy="708.6" r="5"/><circle cx="522.1" cy="708.5" r="5"/><circle cx="522.7" cy="714.2" r="5"/><circle cx="523.3" cy="709.8" r="5"/><circle cx="523.8" cy="709.0" r="5"/><circle cx="524.4" cy="713.8" r="5"/><circle cx="525.0" cy="713.8" r="5"/><circle cx="525.5" cy="710.8" r="5"/><circle cx="526.1" cy="705.7" r="5"/><circle cx="526.7" cy="709.6" r="5"/><circle cx="527.2" cy="714.0" r="5"/><circle cx="527.8" cy="713.3" r="5"/><circle cx="528.4" cy="717.7" r="5"/><circle cx="528.9" cy="710.0" r="5"/><circle cx="529.5" cy="715.4" r="5"/><circle cx="530.1" cy="712.3" r="5"/><circle cx="530.6" cy="718.0" r="5"/><circle cx="531.2" cy="714.7" r="5"/><circle cx="531.8" cy="717.5" r="5"/><circle cx="532.3" cy="712.6" r="5"/><circle cx="532.9" cy="710.0" r="5"/><circle cx="533.5" cy="710.3" r="5"/><circle cx="534.0" cy="710.9" r="5"/><circle cx="534.6" cy="709.0" r="5"/><circle cx="535.2" cy="714.5" r="5"/><circle cx="535.8" cy="715.1" r="5"/><circle cx="536.3" cy="713.3" r="5"/><circle cx="536.9" cy="711.1" r="5"/><circle cx="537.5" cy="714.4" r="5"/><circle cx="538.0" cy="713.3" r="5"/><circle cx="538.6" cy="719.2" r="5"/><circle cx="539.2" cy="716.5" r="5"/><circle cx="539.8" cy="717.6" r="5"/><circle cx="540.3" cy="715.8" r="5"/><circle cx="540.9" cy="711.7" r="5"/><circle cx="541.5" cy="714.5" r="5"/><circle cx="542.1" cy="713.0" r="5"/><circle cx="542.6" cy="716.2" r="5"/><circle cx="543.2" cy="714.9" r="5"/><circle cx="543.8" cy="712.2" r="5"/><circle cx="544.4" cy="713.1" r="5"/><circle cx="544.9" cy="718.1" r="5"/><circle cx="545.5" cy="711.1" r="5"/><circle cx="546.1" cy="710.8" r="5"/><circle cx="546.7" cy="712.2" r="5"/><circle cx="547.2" cy="710.4" r="5"/><circle cx="547.8" cy="710.8" r="5"/><circle cx="548.4" cy="713.2" r="5"/><circle cx="549.0" cy="716.4" r="5"/><circle cx="549.6" cy="707.2" r="5"/><circle cx="550.1" cy="711.8" r="5"/><circle cx="550.7" cy="711.8" r="5"/><circle cx="551.3" cy="711.4" r="5"/><circle cx="551.9" cy="711.3" r="5"/><circle cx="552.5" cy="711.6" r="5"/><circle cx="553.0" cy="716.5" r="5"/><circle cx="553.6" cy="714.2" r="5"/><circle cx="554.2" cy="716.2" r="5"/><circle cx="554.8" cy="716.6" r="5"/><circle cx="555.4" cy="716.1" r="5"/><circle cx="555.9" cy="714.3" r="5"/><circle cx="556.5" cy="716.5" r="5"/><circle cx="557.1" cy="713.2" r="5"/><circle cx="557.7" cy="713.3" r="5"/><circle cx="558.3" cy="712.6" r="5"/><circle cx="558.9" cy="710.0" r="5"/><circle cx="559.4" cy="710.4" r="5"/><circle cx="560.0" cy="709.7" r="5"/><circle cx="560.6" cy="712.5" r="5"/><circle cx="561.2" cy="709.7" r="5"/><circle cx="561.8" cy="708.5" r="5"/><circle cx="562.4" cy="711.6" r="5"/><circle cx="563.0" cy="711.8" r="5"/><circle cx="563.6" cy="705.0" r="5"/><circle cx="564.1" cy="713.5" r="5"/><circle cx="564.7" cy="709.0" r="5"/><circle cx="565.3" cy="709.2" r="5"/><circle cx="565.9" cy="713.0" r="5"/><circle cx="566.5" cy="710.7" r="5"/><circle cx="567.1" cy="708.9" r="5"/><circle cx="567.7" cy="716.1" r="5"/><circle cx="568.3" cy="708.1" r="5"/><circle cx="568.8" cy="713.9" r="5"/><circle cx="569.4" cy="724.9" r="5"/><circle cx="570.0" cy="734.6" r="5"/><circle cx="570.6" cy="754.5" r="5"/><circle cx="571.2" cy="767.0" r="5"/><circle cx="571.8" cy="769.2" r="5"/><circle cx="572.4" cy="742.6" r="5"/><circle cx="573.0" cy="719.8" r="5"/><circle cx="573.6" cy="697.8" r="5"/><circle cx="574.2" cy="677.1" r="5"/><circle cx="574.8" cy="659.2" r="5"/><circle cx="575.4" cy="652.0" r="5"/><circle cx="576.0" cy="641.9" r="5"/><circle cx="576.6" cy="635.5" r="5"/><circle cx="577.1" cy="632.2" r="5"/><circle cx="577.7" cy="628.7" r="5"/><circle cx="578.3" cy="625.6" r="5"/><circle cx="578.9" cy="624.7" r="5"/><circle cx="579.5" cy="620.5" r="5"/><circle cx="580.1" cy="622.8" r="5"/><circle cx="580.7" cy="623.6" r="5"/><circle cx="581.3" cy="622.1" r="5"/><circle cx="581.9" cy="623.8" r="5"/><circle cx="582.5" cy="622.0" r="5"/><circle cx="583.1" cy="629.2" r="5"/><circle cx="583.7" cy="632.1" r="5"/><circle cx="584.3" cy="626.7" r="5"/><circle cx="584.9" cy="630.0" r="5"/><circle cx="585.5" cy="629.3" r="5"/><circle cx="586.1" cy="633.8" r="5"/><circle cx="586.7" cy="631.8" r="5"/><circle cx="587.3" cy="631.1" r="5"/><circle cx="587.9" cy="630.8" r="5"/><circle cx="588.5" cy="632.5" r="5"/><circle cx="589.1" cy="630.2" r="5"/><circle cx="589.7" cy="635.1" r="5"/><circle cx="590.3" cy="632.0" r="5"/><circle cx="590.9" cy="636.7" r="5"/><circle cx="591.5" cy="637.8" r="5"/><circle cx="592.1" cy="643.1" r="5"/><circle cx="592.7" cy="642.9" r="5"/><circle cx="593.3" cy="648.2" r="5"/><circle cx="593.9" cy="645.4" r="5"/><circle cx="594.6" cy="651.8" r="5"/><circle cx="595.2" cy="651.7" r="5"/><circle cx="595.8" cy="655.0" r="5"/><circle cx="596.4" cy="657.2" r="5"/><circle cx="597.0" cy="662.5" r="5"/><circle cx="597.6" cy="658.0" r="5"/><circle cx="598.2" cy="667.7" r="5"/><circle cx="598.8" cy="666.0" r="5"/><circle cx="599.4" cy="676.0" r="5"/><circle cx="600.0" cy="670.1" r="5"/><circle cx="600.6" cy="675.2" r="5"/><circle cx="601.2" cy="676.3" r="5"/><circle cx="601.8" cy="688.6" r="5"/><circle cx="602.4" cy="684.7" r="5"/><circle cx="603.1" cy="692.4" r="5"/><circle cx="603.7" cy="694.0" r="5"/><circle cx="604.3" cy="693.3" r="5"/><circle cx="604.9" cy="699.2" r="5"/><circle cx="605.5" cy="703.4" r="5"/><circle cx="606.1" cy="702.5" r="5"/><circle cx="606.7" cy="706.6" r="5"/><circle cx="607.3" cy="703.9" r="5"/><circle cx="607.9" cy="705.2" r="5"/><circle cx="608.6" cy="704.3" r="5"/><circle cx="609.2" cy="706.5" r="5"/><circle cx="609.8" cy="711.1" r="5"/><circle cx="610.4" cy="707.5" r="5"/><circle cx="611.0" cy="707.5" r="5"/><circle cx="611.6" cy="705.7" r="5"/><circle cx="612.2" cy="705.5" r="5"/><circle cx="612.9" cy="711.9" r="5"/><circle cx="613.5" cy="705.5" r="5"/><circle cx="614.1" cy="706.9" r="5"/><circle cx="614.7" cy="710.3" r="5"/><circle cx="615.3" cy="710.4" r="5"/><circle cx="615.9" cy="717.3" r="5"/><circle cx="616.6" cy="705.2" r="5"/><circle cx="617.2" cy="711.6" r="5"/><circle cx="617.8" cy="711.4" r="5"/><circle cx="618.4" cy="705.4" r="5"/><circle cx="619.0" cy="706.0" r="5"/><circle cx="619.7" cy="708.3" r="5"/><circle cx="620.3" cy="710.7" r="5"/><circle cx="620.9" cy="702.5" r="5"/><circle cx="621.5" cy="699.6" r="5"/><circle cx="622.1" cy="706.1" r="5"/><circle cx="622.8" cy="707.7" r="5"/><circle cx="623.4" cy="703.0" r="5"/><circle cx="624.0" cy="698.3" r="5"/><circle cx="624.6" cy="708.7" r="5"/><circle cx="625.2" cy="703.9" r="5"/><circle cx="625.9" cy="706.9" r="5"/><circle cx="626.5" cy="702.5" r="5"/><circle cx="627.1" cy="700.8" r="5"/><circle cx="627.7" cy="700.4" r="5"/><circle cx="628.4" cy="706.6" r="5"/><circle cx="629.0" cy="707.9" r="5"/><circle cx="629.6" cy="699.2" r="5"/><circle cx="630.2" cy="703.4" r="5"/><circle cx="630.9" cy="711.2" r="5"/><circle cx="631.5" cy="705.3" r="5"/><circle cx="632.1" cy="702.9" r="5"/><circle cx="632.7" cy="707.4" r="5"/><circle cx="633.4" cy="708.1" r="5"/><circle cx="634.0" cy="708.9" r="5"/><circle cx="634.6" cy="708.1" r="5"/><circle cx="635.3" cy="708.1" r="5"/><circle cx="635.9" cy="706.9" r="5"/><circle cx="636.5" cy="708.6" r="5"/><circle cx="637.1" cy="705.2" r="5"/><circle cx="637.8" cy="706.9" r="5"/><circle cx="638.4" cy="707.5" r="5"/><circle cx="639.0" cy="711.4" r="5"/><circle cx="639.7" cy="708.1" r="5"/><circle cx="640.3" cy="706.0" r="5"/><circle cx="640.9" cy="707.2" r="5"/><circle cx="641.6" cy="706.3" r="5"/><circle cx="642.2" cy="707.8" r="5"/><circle cx="642.8" cy="705.8" r="5"/><circle cx="643.5" cy="709.7" r="5"/><circle cx="644.1" cy="709.2" r="5"/><circle cx="644.7" cy="706.4" r="5"/><circle cx="645.4" cy="705.9" r="5"/><circle cx="646.0" cy="709.2" r="5"/><circle cx="646.6" cy="706.9" r="5"/><circle cx="647.3" cy="703.9" r="5"/><circle cx="647.9" cy="699.1" r="5"/><circle cx="648.5" cy="697.8" r="5"/><circle cx="649.2" cy="704.0" r="5"/><circle cx="649.8" cy="705.1" r="5"/><circle cx="650.5" cy="704.6" r="5"/><circle cx="651.1" cy="697.1" r="5"/><circle cx="651.7" cy="701.6" r="5"/><circle cx="652.4" cy="694.4" r="5"/><circle cx="653.0" cy="694.6" r="5"/><circle cx="653.6" cy="692.9" r="5"/><circle cx="654.3" cy="688.4" r="5"/><circle cx="654.9" cy="688.5" r="5"/><circle cx="655.6" cy="683.5" r="5"/><circle cx="656.2" cy="685.6" r="5"/><circle cx="656.8" cy="680.3" r="5"/><circle cx="657.5" cy="682.9" r="5"/><circle cx="658.1" cy="676.6" r="5"/><circle cx="658.8" cy="673.0" r="5"/><circle cx="659.4" cy="664.6" r="5"/><circle cx="660.1" cy="654.3" r="5"/><circle cx="660.7" cy="649.5" r="5"/><circle cx="661.3" cy="639.8" r="5"/><circle cx="662.0" cy="635.4" r="5"/><circle cx="662.6" cy="627.4" r="5"/><circle cx="663.3" cy="616.9" r="5"/><circle cx="663.9" cy="614.3" r="5"/><circle cx="664.6" cy="610.3" r="5"/><circle cx="665.2" cy="606.5" r="5"/><circle cx="665.9" cy="608.7" r="5"/><circle cx="666.5" cy="610.8" r="5"/><circle cx="667.2" cy="605.0" r="5"/><circle cx="667.8" cy="606.0" r="5"/><circle cx="668.4" cy="602.3" r="5"/><circle cx="669.1" cy="611.9" r="5"/><circle cx="669.7" cy="615.3" r="5"/><circle cx="670.4" cy="615.2" r="5"/><circle cx="671.0" cy="628.1" r="5"/><circle cx="671.7" cy="634.8" r="5"/><circle cx="672.3" cy="637.1" r="5"/><circle cx="673.0" cy="644.8" r="5"/><circle cx="673.6" cy="649.9" r="5"/><circle cx="674.3" cy="661.7" r="5"/><circle cx="674.9" cy="660.8" r="5"/><circle cx="675.6" cy="669.7" r="5"/><circle cx="676.2" cy="681.2" r="5"/><circle cx="676.9" cy="679.7" r="5"/><circle cx="677.6" cy="684.7" r="5"/><circle cx="678.2" cy="685.6" r="5"/><circle cx="678.9" cy="684.4" r="5"/><circle cx="679.5" cy="689.3" r="5"/><circle cx="680.2" cy="692.0" r="5"/><circle cx="680.8" cy="689.4" r="5"/><circle cx="681.5" cy="695.4" r="5"/><circle cx="682.1" cy="699.7" r="5"/><circle cx="682.8" cy="700.2" r="5"/><circle cx="683.4" cy="692.9" r="5"/><circle cx="684.1" cy="695.6" r="5"/><circle cx="684.8" cy="694.9" r="5"/><circle cx="685.4" cy="704.8" r="5"/><circle cx="686.1" cy="705.4" r="5"/><circle cx="686.7" cy="707.5" r="5"/><circle cx="687.4" cy="703.9" r="5"/><circle cx="688.1" cy="703.6" r="5"/><circle cx="688.7" cy="707.5" r="5"/><circle cx="689.4" cy="707.5" r="5"/><circle cx="690.0" cy="704.4" r="5"/><circle cx="690.7" cy="707.6" r="5"/><circle cx="691.4" cy="709.5" r="5"/><circle cx="692.0" cy="708.6" r="5"/><circle cx="692.7" cy="704.7" r="5"/><circle cx="693.3" cy="701.1" r="5"/><circle cx="694.0" cy="706.4" r="5"/><circle cx="694.7" cy="707.5" r="5"/><circle cx="695.3" cy="706.3" r="5"/><circle cx="696.0" cy="706.1" r="5"/><circle cx="696.7" cy="705.4" r="5"/><circle cx="697.3" cy="709.2" r="5"/><circle cx="698.0" cy="705.8" r="5"/><circle cx="698.6" cy="705.5" r="5"/><circle cx="699.3" cy="702.2" r="5"/><circle cx="700.0" cy="704.5" r="5"/><circle cx="700.6" cy="708.9" r="5"/><circle cx="701.3" cy="706.9" r="5"/><circle cx="702.0" cy="707.2" r="5"/><circle cx="702.6" cy="710.9" r="5"/><circle cx="703.3" cy="716.7" r="5"/><circle cx="704.0" cy="714.8" r="5"/><circle cx="704.7" cy="720.4" r="5"/><circle cx="705.3" cy="717.0" r="5"/><circle cx="706.0" cy="717.7" r="5"/><circle cx="706.7" cy="714.9" r="5"/><circle cx="707.3" cy="717.2" r="5"/><circle cx="708.0" cy="722.4" r="5"/><circle cx="708.7" cy="717.2" r="5"/><circle cx="709.3" cy="716.9" r="5"/><circle cx="710.0" cy="715.5" r="5"/><circle cx="710.7" cy="712.5" r="5"/><circle cx="711.4" cy="711.9" r="5"/><circle cx="712.0" cy="713.8" r="5"/><circle cx="712.7" cy="716.8" r="5"/><circle cx="713.4" cy="717.4" r="5"/><circle cx="714.1" cy="718.2" r="5"/><circle cx="714.7" cy="717.1" r="5"/><circle cx="715.4" cy="713.9" r="5"/><circle cx="716.1" cy="715.4" r="5"/><circle cx="716.8" cy="712.9" r="5"/><circle cx="717.4" cy="718.5" r="5"/><circle cx="718.1" cy="707.2" r="5"/><circle cx="718.8" cy="712.0" r="5"/><circle cx="719.5" cy="719.9" r="5"/><circle cx="720.1" cy="711.3" r="5"/><circle cx="720.8" cy="709.4" r="5"/><circle cx="721.5" cy="713.6" r="5"/><circle cx="722.2" cy="718.3" r="5"/><circle cx="722.9" cy="713.9" r="5"/><circle cx="723.5" cy="716.5" r="5"/><circle cx="724.2" cy="714.6" r="5"/><circle cx="724.9" cy="712.3" r="5"/><circle cx="725.6" cy="723.0" r="5"/><circle cx="726.3" cy="712.4" r="5"/><circle cx="726.9" cy="710.4" r="5"/><circle cx="727.6" cy="710.9" r="5"/><circle cx="728.3" cy="714.1" r="5"/><circle cx="729.0" cy="714.5" r="5"/><circle cx="729.7" cy="716.0" r="5"/><circle cx="730.3" cy="714.2" r="5"/><circle cx="731.0" cy="709.1" r="5"/><circle cx="731.7" cy="715.4" r="5"/><circle cx="732.4" cy="712.3" r="5"/><circle cx="733.1" cy="711.7" r="5"/><circle cx="733.8" cy="707.3" r="5"/><circle cx="734.5" cy="710.4" r="5"/><circle cx="735.1" cy="710.6" r="5"/><circle cx="735.8" cy="714.2" r="5"/><circle cx="736.5" cy="711.0" r="5"/><circle cx="737.2" cy="717.3" r="5"/><circle cx="737.9" cy="718.6" r="5"/><circle cx="738.6" cy="715.3" r="5"/><circle cx="739.3" cy="717.8" r="5"/><circle cx="740.0" cy="717.6" r="5"/><circle cx="740.6" cy="723.4" r="5"/><circle cx="741.3" cy="711.1" r="5"/><circle cx="742.0" cy="717.0" r="5"/><circle cx="742.7" cy="711.0" r="5"/><circle cx="743.4" cy="713.6" r="5"/><circle cx="744.1" cy="716.6" r="5"/><circle cx="744.8" cy="710.6" r="5"/><circle cx="745.5" cy="712.3" r="5"/><circle cx="746.2" cy="708.3" r="5"/><circle cx="746.9" cy="717.8" r="5"/><circle cx="747.6" cy="715.4" r="5"/><circle cx="748.3" cy="717.7" r="5"/><circle cx="748.9" cy="710.8" r="5"/><circle cx="749.6" cy="712.2" r="5"/><circle cx="750.3" cy="719.2" r="5"/><circle cx="751.0" cy="714.3" r="5"/><circle cx="751.7" cy="713.8" r="5"/><circle cx="752.4" cy="716.2" r="5"/><circle cx="753.1" cy="711.6" r="5"/><circle cx="753.8" cy="718.8" r="5"/><circle cx="754.5" cy="715.6" r="5"/><circle cx="755.2" cy="715.4" r="5"/><circle cx="755.9" cy="709.4" r="5"/><circle cx="756.6" cy="712.1" r="5"/><circle cx="757.3" cy="707.9" r="5"/><circle cx="758.0" cy="714.5" r="5"/><circle cx="758.7" cy="716.4" r="5"/><circle cx="759.4" cy="716.8" r="5"/><circle cx="760.1" cy="716.2" r="5"/><circle cx="760.8" cy="717.1" r="5"/><circle cx="761.5" cy="705.7" r="5"/><circle cx="762.2" cy="717.6" r="5"/><circle cx="762.9" cy="713.7" r="5"/><circle cx="763.6" cy="715.6" r="5"/><circle cx="764.3" cy="715.6" r="5"/><circle cx="765.0" cy="713.5" r="5"/><circle cx="765.7" cy="718.0" r="5"/><circle cx="766.4" cy="722.9" r="5"/><circle cx="767.1" cy="725.2" r="5"/><circle cx="767.8" cy="716.8" r="5"/><circle cx="768.5" cy="713.9" r="5"/><circle cx="769.3" cy="720.3" r="5"/><circle cx="770.0" cy="711.3" r="5"/><circle cx="770.7" cy="721.5" r="5"/><circle cx="771.4" cy="714.8" r="5"/><circle cx="772.1" cy="711.9" r="5"/><circle cx="772.8" cy="718.8" r="5"/><circle cx="773.5" cy="722.1" r="5"/><circle cx="774.2" cy="712.0" r="5"/><circle cx="774.9" cy="723.3" r="5"/><circle cx="775.6" cy="717.1" r="5"/><circle cx="776.3" cy="722.7" r="5"/><circle cx="777.0" cy="714.5" r="5"/><circle cx="777.8" cy="708.0" r="5"/><circle cx="778.5" cy="713.4" r="5"/><circle cx="779.2" cy="713.9" r="5"/><circle cx="779.9" cy="718.4" r="5"/><circle cx="780.6" cy="718.3" r="5"/><circle cx="781.3" cy="716.0" r="5"/><circle cx="782.0" cy="713.7" r="5"/><circle cx="782.7" cy="713.1" r="5"/><circle cx="783.5" cy="714.0" r="5"/><circle cx="784.2" cy="711.9" r="5"/><circle cx="784.9" cy="713.5" r="5"/><circle cx="785.6" cy="705.1" r="5"/><circle cx="786.3" cy="714.7" r="5"/><circle cx="787.0" cy="714.1" r="5"/><circle cx="787.8" cy="723.4" r="5"/><circle cx="788.5" cy="716.8" r="5"/><circle cx="789.2" cy="712.2" r="5"/><circle cx="789.9" cy="716.1" r="5"/><circle cx="790.6" cy="710.1" r="5"/><circle cx="791.3" cy="713.0" r="5"/><circle cx="792.1" cy="709.4" r="5"/><circle cx="792.8" cy="722.4" r="5"/><circle cx="793.5" cy="720.5" r="5"/><circle cx="794.2" cy="714.9" r="5"/><circle cx="794.9" cy="719.0" r="5"/><circle cx="795.7" cy="722.2" r="5"/><circle cx="796.4" cy="720.1" r="5"/><circle cx="797.1" cy="719.7" r="5"/><circle cx="797.8" cy="715.5" r="5"/><circle cx="798.6" cy="716.4" r="5"/><circle cx="799.3" cy="718.6" r="5"/><circle cx="800.0" cy="720.6" r="5"/><circle cx="800.7" cy="713.5" r="5"/><circle cx="801.4" cy="712.4" r="5"/><circle cx="802.2" cy="721.5" r="5"/><circle cx="802.9" cy="715.3" r="5"/><circle cx="803.6" cy="723.8" r="5"/><circle cx="804.3" cy="721.1" r="5"/><circle cx="805.1" cy="722.8" r="5"/><circle cx="805.8" cy="724.2" r="5"/><circle cx="806.5" cy="717.9" r="5"/><circle cx="807.3" cy="715.9" r="5"/><circle cx="808.0" cy="708.8" r="5"/><circle cx="808.7" cy="710.3" r="5"/><circle cx="809.4" cy="717.0" r="5"/><circle cx="810.2" cy="722.5" r="5"/><circle cx="810.9" cy="723.9" r="5"/><circle cx="811.6" cy="728.5" r="5"/><circle cx="812.4" cy="721.4" r="5"/><circle cx="813.1" cy="720.2" r="5"/><circle cx="813.8" cy="721.7" r="5"/><circle cx="814.6" cy="716.8" r="5"/><circle cx="815.3" cy="715.6" r="5"/><circle cx="816.0" cy="711.5" r="5"/><circle cx="816.8" cy="718.9" r="5"/><circle cx="817.5" cy="711.3" r="5"/><circle cx="818.2" cy="716.8" r="5"/><circle cx="819.0" cy="709.2" r="5"/><circle cx="819.7" cy="718.2" r="5"/><circle cx="820.4" cy="710.8" r="5"/><circle cx="821.2" cy="718.4" r="5"/><circle cx="821.9" cy="710.0" r="5"/><circle cx="822.6" cy="714.4" r="5"/><circle cx="823.4" cy="720.1" r="5"/><circle cx="824.1" cy="712.4" r="5"/><circle cx="824.9" cy="715.3" r="5"/><circle cx="825.6" cy="712.8" r="5"/><circle cx="826.3" cy="705.1" r="5"/><circle cx="827.1" cy="713.8" r="5"/><circle cx="827.8" cy="713.9" r="5"/><circle cx="828.5" cy="709.1" r="5"/><circle cx="829.3" cy="717.0" r="5"/><circle cx="830.0" cy="713.5" r="5"/><circle cx="830.8" cy="713.5" r="5"/><circle cx="831.5" cy="717.6" r="5"/><circle cx="832.3" cy="715.4" r="5"/><circle cx="833.0" cy="726.8" r="5"/><circle cx="833.7" cy="712.5" r="5"/><circle cx="834.5" cy="720.5" r="5"/><circle cx="835.2" cy="721.0" r="5"/><circle cx="836.0" cy="710.6" r="5"/><circle cx="836.7" cy="713.2" r="5"/><circle cx="837.5" cy="723.3" r="5"/><circle cx="838.2" cy="719.9" r="5"/><circle cx="839.0" cy="722.3" r="5"/><circle cx="839.7" cy="723.4" r="5"/><circle cx="840.4" cy="716.0" r="5"/><circle cx="841.2" cy="712.2" r="5"/><circle cx="841.9" cy="705.4" r="5"/><circle cx="842.7" cy="716.6" r="5"/><circle cx="843.4" cy="713.0" r="5"/><circle cx="844.2" cy="718.0" r="5"/><circle cx="844.9" cy="717.3" r="5"/><circle cx="845.7" cy="709.9" r="5"/><circle cx="846.4" cy="719.9" r="5"/><circle cx="847.2" cy="716.0" r="5"/><circle cx="847.9" cy="713.9" r="5"/><circle cx="848.7" cy="705.3" r="5"/><circle cx="849.4" cy="707.3" r="5"/><circle cx="850.2" cy="705.9" r="5"/><circle cx="851.0" cy="705.9" r="5"/><circle cx="851.7" cy="703.3" r="5"/><circle cx="852.5" cy="710.1" r="5"/><circle cx="853.2" cy="711.4" r="5"/><circle cx="854.0" cy="714.4" r="5"/><circle cx="854.7" cy="713.1" r="5"/><circle cx="855.5" cy="720.8" r="5"/><circle cx="856.2" cy="716.6" r="5"/><circle cx="857.0" cy="705.4" r="5"/><circle cx="857.8" cy="713.5" r="5"/><circle cx="858.5" cy="716.0" r="5"/><circle cx="859.3" cy="720.0" r="5"/><circle cx="860.0" cy="714.6" r="5"/><circle cx="860.8" cy="713.6" r="5"/><circle cx="861.5" cy="710.8" r="5"/><circle cx="862.3" cy="715.1" r="5"/><circle cx="863.1" cy="710.8" r="5"/><circle cx="863.8" cy="710.3" r="5"/><circle cx="864.6" cy="710.1" r="5"/><circle cx="865.3" cy="715.7" r="5"/><circle cx="866.1" cy="712.5" r="5"/><circle cx="866.9" cy="709.0" r="5"/><circle cx="867.6" cy="718.1" r="5"/><circle cx="868.4" cy="712.6" r="5"/><circle cx="869.2" cy="715.8" r="5"/><circle cx="869.9" cy="714.9" r="5"/><circle cx="870.7" cy="717.3" r="5"/><circle cx="871.5" cy="716.2" r="5"/><circle cx="872.2" cy="709.8" r="5"/><circle cx="873.0" cy="711.9" r="5"/><circle cx="873.8" cy="709.0" r="5"/><circle cx="874.5" cy="722.0" r="5"/><circle cx="875.3" cy="718.6" r="5"/><circle cx="876.1" cy="723.2" r="5"/><circle cx="876.8" cy="717.3" r="5"/><circle cx="877.6" cy="711.4" r="5"/><circle cx="878.4" cy="725.6" r="5"/><circle cx="879.1" cy="720.1" r="5"/><circle cx="879.9" cy="719.3" r="5"/><circle cx="880.7" cy="717.4" r="5"/><circle cx="881.4" cy="718.0" r="5"/><circle cx="882.2" cy="716.6" r="5"/><circle cx="883.0" cy="708.7" r="5"/><circle cx="883.8" cy="720.6" r="5"/><circle cx="884.5" cy="716.7" r="5"/><circle cx="885.3" cy="718.9" r="5"/><circle cx="886.1" cy="728.6" r="5"/><circle cx="886.8" cy="725.9" r="5"/><circle cx="887.6" cy="721.1" r="5"/><circle cx="888.4" cy="714.6" r="5"/><circle cx="889.2" cy="720.5" r="5"/><circle cx="889.9" cy="718.9" r="5"/><circle cx="890.7" cy="713.1" r="5"/><circle cx="891.5" cy="705.8" r="5"/><circle cx="892.3" cy="706.0" r="5"/><circle cx="893.1" cy="704.2" r="5"/><circle cx="893.8" cy="711.3" r="5"/><circle cx="894.6" cy="715.9" r="5"/><circle cx="895.4" cy="719.4" r="5"/><circle cx="896.2" cy="715.3" r="5"/><circle cx="896.9" cy="720.9" r="5"/><circle cx="897.7" cy="722.8" r="5"/><circle cx="898.5" cy="718.0" r="5"/><circle cx="899.3" cy="718.0" r="5"/><circle cx="900.1" cy="725.3" r="5"/><circle cx="900.9" cy="716.4" r="5"/><circle cx="901.6" cy="717.9" r="5"/><circle cx="902.4" cy="712.0" r="5"/><circle cx="903.2" cy="713.6" r="5"/><circle cx="904.0" cy="707.4" r="5"/><circle cx="904.8" cy="714.9" r="5"/><circle cx="905.6" cy="720.2" r="5"/><circle cx="906.3" cy="723.4" r="5"/><circle cx="907.1" cy="718.9" r="5"/><circle cx="907.9" cy="716.2" r="5"/><circle cx="908.7" cy="714.3" r="5"/><circle cx="909.5" cy="713.7" r="5"/><circle cx="910.3" cy="717.8" r="5"/><circle cx="911.1" cy="722.4" r="5"/><circle cx="911.8" cy="717.0" r="5"/><circle cx="912.6" cy="722.9" r="5"/><circle cx="913.4" cy="714.6" r="5"/><circle cx="914.2" cy="711.2" r="5"/><circle cx="915.0" cy="714.2" r="5"/><circle cx="915.8" cy="711.4" r="5"/><circle cx="916.6" cy="711.8" r="5"/><circle cx="917.4" cy="720.2" r="5"/><circle cx="918.2" cy="713.1" r="5"/><circle cx="919.0" cy="712.8" r="5"/><circle cx="919.8" cy="715.2" r="5"/><circle cx="920.5" cy="715.0" r="5"/><circle cx="921.3" cy="708.4" r="5"/><circle cx="922.1" cy="716.5" r="5"/><circle cx="922.9" cy="713.7" r="5"/><circle cx="923.7" cy="712.7" r="5"/><circle cx="924.5" cy="714.5" r="5"/><circle cx="925.3" cy="707.2" r="5"/><circle cx="926.1" cy="710.5" r="5"/><circle cx="926.9" cy="715.0" r="5"/><circle cx="927.7" cy="720.2" r="5"/><circle cx="928.5" cy="718.0" r="5"/><circle cx="929.3" cy="719.6" r="5"/><circle cx="930.1" cy="723.3" r="5"/><circle cx="930.9" cy="723.9" r="5"/><circle cx="931.7" cy="720.0" r="5"/><circle cx="932.5" cy="721.0" r="5"/><circle cx="933.3" cy="714.2" r="5"/><circle cx="934.1" cy="715.3" r="5"/><circle cx="934.9" cy="718.8" r="5"/><circle cx="935.7" cy="716.8" r="5"/><circle cx="936.5" cy="715.4" r="5"/><circle cx="937.3" cy="722.8" r="5"/><circle cx="938.1" cy="714.0" r="5"/><circle cx="938.9" cy="710.0" r="5"/><circle cx="939.7" cy="715.7" r="5"/><circle cx="940.5" cy="722.0" r="5"/><circle cx="941.3" cy="716.8" r="5"/><circle cx="942.1" cy="723.4" r="5"/><circle cx="942.9" cy="718.2" r="5"/><circle cx="943.8" cy="718.4" r="5"/><circle cx="944.6" cy="716.6" r="5"/><circle cx="945.4" cy="716.6" r="5"/><circle cx="946.2" cy="722.2" r="5"/><circle cx="947.0" cy="708.7" r="5"/><circle cx="947.8" cy="719.7" r="5"/><circle cx="948.6" cy="709.8" r="5"/><circle cx="949.4" cy="713.6" r="5"/><circle cx="950.2" cy="718.0" r="5"/><circle cx="951.0" cy="716.7" r="5"/><circle cx="951.8" cy="714.8" r="5"/><circle cx="952.7" cy="707.0" r="5"/><circle cx="953.5" cy="715.7" r="5"/><circle cx="954.3" cy="711.0" r="5"/><circle cx="955.1" cy="726.2" r="5"/><circle cx="955.9" cy="715.2" r="5"/><circle cx="956.7" cy="716.7" r="5"/><circle cx="957.5" cy="711.7" r="5"/><circle cx="958.4" cy="715.8" r="5"/><circle cx="959.2" cy="714.6" r="5"/><circle cx="960.0" cy="725.8" r="5"/><circle cx="960.8" cy="721.4" r="5"/><circle cx="961.6" cy="723.5" r="5"/><circle cx="962.4" cy="715.9" r="5"/><circle cx="963.3" cy="713.6" r="5"/><circle cx="964.1" cy="718.5" r="5"/><circle cx="964.9" cy="708.1" r="5"/><circle cx="965.7" cy="704.6" r="5"/><circle cx="966.5" cy="714.4" r="5"/><circle cx="967.4" cy="709.2" r="5"/><circle cx="968.2" cy="713.0" r="5"/><circle cx="969.0" cy="719.2" r="5"/><circle cx="969.8" cy="713.0" r="5"/><circle cx="970.6" cy="721.5" r="5"/><circle cx="971.5" cy="717.3" r="5"/><circle cx="972.3" cy="728.2" r="5"/><circle cx="973.1" cy="728.9" r="5"/><circle cx="973.9" cy="721.9" r="5"/><circle cx="974.8" cy="722.7" r="5"/><circle cx="975.6" cy="719.8" r="5"/><circle cx="976.4" cy="723.8" r="5"/><circle cx="977.2" cy="727.6" r="5"/><circle cx="978.1" cy="717.0" r="5"/><circle cx="978.9" cy="726.7" r="5"/><circle cx="979.7" cy="717.5" r="5"/><circle cx="980.5" cy="719.0" r="5"/><circle cx="981.4" cy="714.1" r="5"/><circle cx="982.2" cy="728.4" r="5"/><circle cx="983.0" cy="718.0" r="5"/><circle cx="983.9" cy="716.7" r="5"/><circle cx="984.7" cy="711.4" r="5"/><circle cx="985.5" cy="717.9" r="5"/><circle cx="986.3" cy="705.1" r="5"/><circle cx="987.2" cy="714.8" r="5"/><circle cx="988.0" cy="725.0" r="5"/><circle cx="988.8" cy="715.8" r="5"/><circle cx="989.7" cy="719.0" r="5"/><circle cx="990.5" cy="723.0" r="5"/><circle cx="991.3" cy="717.4" r="5"/><circle cx="992.2" cy="720.4" r="5"/><circle cx="993.0" cy="723.1" r="5"/><circle cx="993.9" cy="718.9" r="5"/><circle cx="994.7" cy="719.0" r="5"/><circle cx="995.5" cy="716.0" r="5"/><circle cx="996.4" cy="719.3" r="5"/><circle cx="997.2" cy="719.1" r="5"/><circle cx="998.0" cy="725.6" r="5"/><circle cx="998.9" cy="722.6" r="5"/><circle cx="999.7" cy="718.3" r="5"/><circle cx="1000.6" cy="708.8" r="5"/><circle cx="1001.4" cy="721.7" r="5"/><circle cx="1002.2" cy="721.6" r="5"/><circle cx="1003.1" cy="714.4" r="5"/><circle cx="1003.9" cy="709.8" r="5"/><circle cx="1004.8" cy="713.3" r="5"/><circle cx="1005.6" cy="721.5" r="5"/><circle cx="1006.4" cy="712.8" r="5"/><circle cx="1007.3" cy="715.2" r="5"/><circle cx="1008.1" cy="718.2" r="5"/><circle cx="1009.0" cy="722.4" r="5"/><circle cx="1009.8" cy="716.9" r="5"/><circle cx="1010.7" cy="715.7" r="5"/><circle cx="1011.5" cy="712.6" r="5"/><circle cx="1012.4" cy="720.3" r="5"/><circle cx="1013.2" cy="716.5" r="5"/><circle cx="1014.1" cy="710.7" r="5"/><circle cx="1014.9" cy="705.4" r="5"/><circle cx="1015.7" cy="709.0" r="5"/><circle cx="1016.6" cy="716.2" r="5"/><circle cx="1017.4" cy="711.9" r="5"/><circle cx="1018.3" cy="719.8" r="5"/><circle cx="1019.1" cy="718.8" r="5"/><circle cx="1020.0" cy="719.9" r="5"/><circle cx="1020.8" cy="722.5" r="5"/><circle cx="1021.7" cy="722.0" r="5"/><circle cx="1022.6" cy="715.9" r="5"/><circle cx="1023.4" cy="717.7" r="5"/><circle cx="1024.3" cy="729.1" r="5"/><circle cx="1025.1" cy="714.5" r="5"/><circle cx="1026.0" cy="717.6" r="5"/><circle cx="1026.8" cy="723.6" r="5"/><circle cx="1027.7" cy="717.8" r="5"/><circle cx="1028.5" cy="714.6" r="5"/><circle cx="1029.4" cy="712.4" r="5"/><circle cx="1030.2" cy="720.1" r="5"/><circle cx="1031.1" cy="721.5" r="5"/><circle cx="1032.0" cy="722.6" r="5"/><circle cx="1032.8" cy="716.7" r="5"/><circle cx="1033.7" cy="721.1" r="5"/><circle cx="1034.5" cy="712.1" r="5"/><circle cx="1035.4" cy="716.2" r="5"/><circle cx="1036.3" cy="711.0" r="5"/><circle cx="1037.1" cy="713.3" r="5"/><circle cx="1038.0" cy="715.2" r="5"/><circle cx="1038.8" cy="717.4" r="5"/><circle cx="1039.7" cy="710.5" r="5"/><circle cx="1040.6" cy="722.5" r="5"/><circle cx="1041.4" cy="717.3" r="5"/><circle cx="1042.3" cy="716.7" r="5"/><circle cx="1043.2" cy="721.6" r="5"/><circle cx="1044.0" cy="716.6" r="5"/><circle cx="1044.9" cy="722.8" r="5"/><circle cx="1045.8" cy="723.1" r="5"/><circle cx="1046.6" cy="719.7" r="5"/><circle cx="1047.5" cy="721.2" r="5"/><circle cx="1048.4" cy="715.8" r="5"/><circle cx="1049.2" cy="715.5" r="5"/><circle cx="1050.1" cy="707.6" r="5"/><circle cx="1051.0" cy="712.7" r="5"/><circle cx="1051.8" cy="707.9" r="5"/><circle cx="1052.7" cy="709.3" r="5"/><circle cx="1053.6" cy="710.8" r="5"/><circle cx="1054.4" cy="712.1" r="5"/><circle cx="1055.3" cy="704.5" r="5"/><circle cx="1056.2" cy="705.5" r="5"/><circle cx="1057.0" cy="711.8" r="5"/><circle cx="1057.9" cy="715.7" r="5"/><circle cx="1058.8" cy="715.6" r="5"/><circle cx="1059.7" cy="718.3" r="5"/><circle cx="1060.5" cy="720.6" r="5"/><circle cx="1061.4" cy="717.8" r="5"/><circle cx="1062.3" cy="716.3" r="5"/><circle cx="1063.2" cy="712.3" r="5"/><circle cx="1064.0" cy="712.8" r="5"/><circle cx="1064.9" cy="714.9" r="5"/><circle cx="1065.8" cy="718.0" r="5"/><circle cx="1066.7" cy="717.2" r="5"/><circle cx="1067.6" cy="715.2" r="5"/><circle cx="1068.4" cy="712.8" r="5"/><circle cx="1069.3" cy="714.1" r="5"/><circle cx="1070.2" cy="710.6" r="5"/><circle cx="1071.1" cy="710.3" r="5"/><circle cx="1072.0" cy="710.6" r="5"/><circle cx="1072.8" cy="707.8" r="5"/><circle cx="1073.7" cy="707.1" r="5"/><circle cx="1074.6" cy="715.1" r="5"/><circle cx="1075.5" cy="716.1" r="5"/><circle cx="1076.4" cy="714.5" r="5"/><circle cx="1077.2" cy="714.7" r="5"/><circle cx="1078.1" cy="727.6" r="5"/><circle cx="1079.0" cy="715.2" r="5"/><circle cx="1079.9" cy="717.8" r="5"/><circle cx="1080.8" cy="719.3" r="5"/><circle cx="1081.7" cy="712.0" r="5"/><circle cx="1082.6" cy="716.6" r="5"/><circle cx="1083.5" cy="723.7" r="5"/><circle cx="1084.3" cy="720.2" r="5"/><circle cx="1085.2" cy="719.4" r="5"/><circle cx="1086.1" cy="719.5" r="5"/><circle cx="1087.0" cy="717.4" r="5"/><circle cx="1087.9" cy="720.9" r="5"/><circle cx="1088.8" cy="715.2" r="5"/><circle cx="1089.7" cy="713.1" r="5"/><circle cx="1090.6" cy="715.0" r="5"/><circle cx="1091.5" cy="719.0" r="5"/><circle cx="1092.4" cy="717.5" r="5"/><circle cx="1093.2" cy="719.8" r="5"/><circle cx="1094.1" cy="707.9" r="5"/><circle cx="1095.0" cy="721.7" r="5"/><circle cx="1095.9" cy="727.0" r="5"/><circle cx="1096.8" cy="723.7" r="5"/><circle cx="1097.7" cy="718.3" r="5"/><circle cx="1098.6" cy="717.9" r="5"/><circle cx="1099.5" cy="724.2" r="5"/><circle cx="1100.4" cy="718.8" r="5"/><circle cx="1101.3" cy="725.3" r="5"/><circle cx="1102.2" cy="717.8" r="5"/><circle cx="1103.1" cy="722.0" r="5"/><circle cx="1104.0" cy="721.7" r="5"/><circle cx="1104.9" cy="705.0" r="5"/><circle cx="1105.8" cy="714.5" r="5"/><circle cx="1106.7" cy="709.6" r="5"/><circle cx="1107.6" cy="706.5" r="5"/><circle cx="1108.5" cy="710.5" r="5"/><circle cx="1109.4" cy="712.9" r="5"/><circle cx="1110.3" cy="718.9" r="5"/><circle cx="1111.2" cy="707.4" r="5"/><circle cx="1112.1" cy="718.9" r="5"/><circle cx="1113.0" cy="722.8" r="5"/><circle cx="1113.9" cy="716.1" r="5"/><circle cx="1114.8" cy="716.0" r="5"/><circle cx="1115.7" cy="713.8" r="5"/><circle cx="1116.6" cy="708.8" r="5"/><circle cx="1117.6" cy="716.6" r="5"/><circle cx="1118.5" cy="716.1" r="5"/><circle cx="1119.4" cy="718.3" r="5"/><circle cx="1120.3" cy="728.1" r="5"/><circle cx="1121.2" cy="721.1" r="5"/><circle cx="1122.1" cy="721.0" r="5"/><circle cx="1123.0" cy="726.7" r="5"/><circle cx="1123.9" cy="712.6" r="5"/><circle cx="1124.8" cy="711.5" r="5"/><circle cx="1125.7" cy="712.2" r="5"/><circle cx="1126.7" cy="708.1" r="5"/><circle cx="1127.6" cy="712.5" r="5"/><circle cx="1128.5" cy="707.5" r="5"/><circle cx="1129.4" cy="717.9" r="5"/><circle cx="1130.3" cy="717.9" r="5"/><circle cx="1131.2" cy="714.8" r="5"/><circle cx="1132.1" cy="709.2" r="5"/><circle cx="1133.1" cy="713.5" r="5"/><circle cx="1134.0" cy="714.0" r="5"/><circle cx="1134.9" cy="704.8" r="5"/><circle cx="1135.8" cy="711.1" r="5"/><circle cx="1136.7" cy="712.5" r="5"/><circle cx="1137.6" cy="710.1" r="5"/><circle cx="1138.6" cy="717.3" r="5"/><circle cx="1139.5" cy="717.2" r="5"/><circle cx="1140.4" cy="709.4" r="5"/><circle cx="1141.3" cy="715.1" r="5"/><circle cx="1142.2" cy="710.5" r="5"/><circle cx="1143.2" cy="716.3" r="5"/><circle cx="1144.1" cy="708.3" r="5"/><circle cx="1145.0" cy="716.4" r="5"/><circle cx="1145.9" cy="714.1" r="5"/><circle cx="1146.9" cy="717.7" r="5"/><circle cx="1147.8" cy="713.4" r="5"/><circle cx="1148.7" cy="708.3" r="5"/><circle cx="1149.6" cy="725.3" r="5"/><circle cx="1150.6" cy="717.7" r="5"/><circle cx="1151.5" cy="727.0" r="5"/><circle cx="1152.4" cy="723.9" r="5"/><circle cx="1153.3" cy="726.1" r="5"/><circle cx="1154.3" cy="732.3" r="5"/><circle cx="1155.2" cy="725.3" r="5"/><circle cx="1156.1" cy="730.3" r="5"/><circle cx="1157.1" cy="715.4" r="5"/><circle cx="1158.0" cy="725.5" r="5"/><circle cx="1158.9" cy="718.1" r="5"/><circle cx="1159.9" cy="716.7" r="5"/><circle cx="1160.8" cy="716.0" r="5"/><circle cx="1161.7" cy="717.0" r="5"/><circle cx="1162.7" cy="723.5" r="5"/><circle cx="1163.6" cy="706.5" r="5"/><circle cx="1164.5" cy="715.9" r="5"/><circle cx="1165.5" cy="711.5" r="5"/><circle cx="1166.4" cy="719.9" r="5"/><circle cx="1167.3" cy="711.1" r="5"/><circle cx="1168.3" cy="715.2" r="5"/><circle cx="1169.2" cy="710.8" r="5"/><circle cx="1170.1" cy="715.8" r="5"/><circle cx="1171.1" cy="717.0" r="5"/><circle cx="1172.0" cy="709.9" r="5"/><circle cx="1173.0" cy="712.6" r="5"/><circle cx="1173.9" cy="706.1" r="5"/><circle cx="1174.8" cy="715.5" r="5"/><circle cx="1175.8" cy="718.9" r="5"/><circle cx="1176.7" cy="712.4" r="5"/><circle cx="1177.7" cy="721.4" r="5"/><circle cx="1178.6" cy="705.7" r="5"/><circle cx="1179.5" cy="707.2" r="5"/><circle cx="1180.5" cy="709.7" r="5"/><circle cx="1181.4" cy="714.0" r="5"/><circle cx="1182.4" cy="715.8" r="5"/><circle cx="1183.3" cy="714.6" r="5"/><circle cx="1184.3" cy="714.9" r="5"/><circle cx="1185.2" cy="720.0" r="5"/><circle cx="1186.2" cy="715.1" r="5"/><circle cx="1187.1" cy="711.5" r="5"/><circle cx="1188.1" cy="711.5" r="5"/><circle cx="1189.0" cy="729.1" r="5"/><circle cx="1189.9" cy="707.2" r="5"/><circle cx="1190.9" cy="719.6" r="5"/><circle cx="1191.8" cy="727.9" r="5"/><circle cx="1192.8" cy="721.0" r="5"/><circle cx="1193.7" cy="711.3" r="5"/><circle cx="1194.7" cy="713.0" r="5"/><circle cx="1195.7" cy="716.3" r="5"/><circle cx="1196.6" cy="719.0" r="5"/><circle cx="1197.6" cy="710.4" r="5"/><circle cx="1198.5" cy="721.6" r="5"/><circle cx="1199.5" cy="720.8" r="5"/><circle cx="1200.4" cy="726.2" r="5"/><circle cx="1201.4" cy="728.1" r="5"/><circle cx="1202.3" cy="719.1" r="5"/><circle cx="1203.3" cy="713.0" r="5"/><circle cx="1204.2" cy="721.8" r="5"/><circle cx="1205.2" cy="728.0" r="5"/><circle cx="1206.2" cy="721.4" r="5"/><circle cx="1207.1" cy="718.4" r="5"/><circle cx="1208.1" cy="729.3" r="5"/><circle cx="1209.0" cy="710.3" r="5"/><circle cx="1210.0" cy="719.7" r="5"/><circle cx="1211.0" cy="710.7" r="5"/><circle cx="1211.9" cy="713.1" r="5"/><circle cx="1212.9" cy="713.0" r="5"/><circle cx="1213.9" cy="721.5" r="5"/><circle cx="1214.8" cy="710.1" r="5"/><circle cx="1215.8" cy="713.7" r="5"/><circle cx="1216.7" cy="708.7" r="5"/><circle cx="1217.7" cy="719.8" r="5"/><circle cx="1218.7" cy="714.5" r="5"/><circle cx="1219.6" cy="719.6" r="5"/><circle cx="1220.6" cy="712.2" r="5"/><circle cx="1221.6" cy="716.0" r="5"/><circle cx="1222.5" cy="722.5" r="5"/><circle cx="1223.5" cy="713.9" r="5"/><circle cx="1224.5" cy="716.1" r="5"/><circle cx="1225.4" cy="713.7" r="5"/><circle cx="1226.4" cy="707.5" r="5"/><circle cx="1227.4" cy="700.3" r="5"/><circle cx="1228.4" cy="713.8" r="5"/><circle cx="1229.3" cy="708.8" r="5"/><circle cx="1230.3" cy="712.2" r="5"/><circle cx="1231.3" cy="694.5" r="5"/><circle cx="1232.2" cy="696.0" r="5"/><circle cx="1233.2" cy="693.6" r="5"/><circle cx="1234.2" cy="701.4" r="5"/><circle cx="1235.2" cy="712.7" r="5"/><circle cx="1236.1" cy="710.5" r="5"/><circle cx="1237.1" cy="707.6" r="5"/><circle cx="1238.1" cy="709.1" r="5"/><circle cx="1239.1" cy="713.6" r="5"/><circle cx="1240.1" cy="708.9" r="5"/><circle cx="1241.0" cy="713.9" r="5"/><circle cx="1242.0" cy="713.6" r="5"/><circle cx="1243.0" cy="701.7" r="5"/><circle cx="1244.0" cy="712.8" r="5"/><circle cx="1245.0" cy="723.6" r="5"/><circle cx="1245.9" cy="714.6" r="5"/><circle cx="1246.9" cy="716.4" r="5"/><circle cx="1247.9" cy="713.6" r="5"/><circle cx="1248.9" cy="713.6" r="5"/><circle cx="1249.9" cy="721.9" r="5"/><circle cx="1250.9" cy="713.7" r="5"/><circle cx="1251.8" cy="709.9" r="5"/><circle cx="1252.8" cy="699.3" r="5"/><circle cx="1253.8" cy="715.3" r="5"/><circle cx="1254.8" cy="708.7" r="5"/><circle cx="1255.8" cy="709.9" r="5"/><circle cx="1256.8" cy="724.1" r="5"/><circle cx="1257.8" cy="721.9" r="5"/><circle cx="1258.7" cy="705.0" r="5"/><circle cx="1259.7" cy="719.6" r="5"/><circle cx="1260.7" cy="717.2" r="5"/><circle cx="1261.7" cy="710.2" r="5"/><circle cx="1262.7" cy="718.5" r="5"/><circle cx="1263.7" cy="703.7" r="5"/><circle cx="1264.7" cy="704.7" r="5"/><circle cx="1265.7" cy="702.0" r="5"/><circle cx="1266.7" cy="702.6" r="5"/><circle cx="1267.7" cy="712.8" r="5"/><circle cx="1268.7" cy="698.7" r="5"/><circle cx="1269.7" cy="699.0" r="5"/><circle cx="1270.7" cy="700.3" r="5"/><circle cx="1271.6" cy="707.8" r="5"/><circle cx="1272.6" cy="705.7" r="5"/><circle cx="1273.6" cy="713.4" r="5"/><circle cx="1274.6" cy="704.4" r="5"/><circle cx="1275.6" cy="700.5" r="5"/><circle cx="1276.6" cy="703.9" r="5"/><circle cx="1277.6" cy="705.6" r="5"/><circle cx="1278.6" cy="699.1" r="5"/><circle cx="1279.6" cy="706.6" r="5"/><circle cx="1280.6" cy="717.5" r="5"/><circle cx="1281.6" cy="706.4" r="5"/><circle cx="1282.6" cy="713.4" r="5"/><circle cx="1283.6" cy="724.0" r="5"/><circle cx="1284.7" cy="713.4" r="5"/><circle cx="1285.7" cy="711.8" r="5"/><circle cx="1286.7" cy="709.0" r="5"/><circle cx="1287.7" cy="717.0" r="5"/><circle cx="1288.7" cy="718.0" r="5"/><circle cx="1289.7" cy="715.2" r="5"/><circle cx="1290.7" cy="717.6" r="5"/><circle cx="1291.7" cy="725.9" r="5"/><circle cx="1292.7" cy="723.9" r="5"/><circle cx="1293.7" cy="710.2" r="5"/><circle cx="1294.7" cy="717.9" r="5"/><circle cx="1295.7" cy="717.6" r="5"/><circle cx="1296.7" cy="720.3" r="5"/><circle cx="1297.8" cy="714.0" r="5"/><circle cx="1298.8" cy="711.4" r="5"/><circle cx="1299.8" cy="712.8" r="5"/><circle cx="1300.8" cy="705.1" r="5"/><circle cx="1301.8" cy="715.9" r="5"/><circle cx="1302.8" cy="712.2" r="5"/><circle cx="1303.8" cy="718.1" r="5"/><circle cx="1304.8" cy="708.3" r="5"/><circle cx="1305.9" cy="710.9" r="5"/><circle cx="1306.9" cy="706.0" r="5"/><circle cx="1307.9" cy="703.5" r="5"/><circle cx="1308.9" cy="713.0" r="5"/><circle cx="1309.9" cy="706.3" r="5"/><circle cx="1310.9" cy="713.8" r="5"/><circle cx="1312.0" cy="706.5" r="5"/><circle cx="1313.0" cy="714.8" r="5"/><circle cx="1314.0" cy="703.7" r="5"/><circle cx="1315.0" cy="710.6" r="5"/><circle cx="1316.1" cy="710.7" r="5"/><circle cx="1317.1" cy="717.8" r="5"/><circle cx="1318.1" cy="715.3" r="5"/><circle cx="1319.1" cy="711.9" r="5"/><circle cx="1320.1" cy="716.1" r="5"/><circle cx="1321.2" cy="709.7" r="5"/><circle cx="1322.2" cy="709.4" r="5"/><circle cx="1323.2" cy="708.9" r="5"/><circle cx="1324.2" cy="702.8" r="5"/><circle cx="1325.3" cy="701.6" r="5"/><circle cx="1326.3" cy="706.5" r="5"/><circle cx="1327.3" cy="703.4" r="5"/><circle cx="1328.4" cy="709.9" r="5"/><circle cx="1329.4" cy="716.3" r="5"/><circle cx="1330.4" cy="717.1" r="5"/><circle cx="1331.5" cy="711.6" r="5"/><circle cx="1332.5" cy="707.0" r="5"/><circle cx="1333.5" cy="714.2" r="5"/><circle cx="1334.5" cy="712.3" r="5"/><circle cx="1335.6" cy="718.2" r="5"/><circle cx="1336.6" cy="707.5" r="5"/><circle cx="1337.6" cy="708.0" r="5"/><circle cx="1338.7" cy="713.9" r="5"/><circle cx="1339.7" cy="706.9" r="5"/><circle cx="1340.8" cy="709.0" r="5"/><circle cx="1341.8" cy="720.0" r="5"/><circle cx="1342.8" cy="717.3" r="5"/><circle cx="1343.9" cy="710.4" r="5"/><circle cx="1344.9" cy="706.7" r="5"/><circle cx="1345.9" cy="697.9" r="5"/><circle cx="1347.0" cy="706.9" r="5"/><circle cx="1348.0" cy="704.2" r="5"/><circle cx="1349.1" cy="706.6" r="5"/><circle cx="1350.1" cy="704.5" r="5"/><circle cx="1351.1" cy="710.9" r="5"/><circle cx="1352.2" cy="712.9" r="5"/><circle cx="1353.2" cy="717.9" r="5"/><circle cx="1354.3" cy="725.4" r="5"/><circle cx="1355.3" cy="718.4" r="5"/><circle cx="1356.4" cy="704.9" r="5"/><circle cx="1357.4" cy="708.0" r="5"/><circle cx="1358.5" cy="703.1" r="5"/><circle cx="1359.5" cy="707.7" r="5"/><circle cx="1360.6" cy="716.7" r="5"/><circle cx="1361.6" cy="716.3" r="5"/><circle cx="1362.6" cy="710.0" r="5"/><circle cx="1363.7" cy="714.4" r="5"/><circle cx="1364.7" cy="706.5" r="5"/><circle cx="1365.8" cy="701.1" r="5"/><circle cx="1366.9" cy="700.7" r="5"/><circle cx="1367.9" cy="704.3" r="5"/><circle cx="1369.0" cy="719.0" r="5"/><circle cx="1370.0" cy="701.5" r="5"/><circle cx="1371.1" cy="717.0" r="5"/><circle cx="1372.1" cy="715.6" r="5"/><circle cx="1373.2" cy="703.3" r="5"/><circle cx="1374.2" cy="701.8" r="5"/><circle cx="1375.3" cy="697.0" r="5"/><circle cx="1376.3" cy="700.6" r="5"/><circle cx="1377.4" cy="705.1" r="5"/><circle cx="1378.5" cy="701.2" r="5"/><circle cx="1379.5" cy="707.7" r="5"/><circle cx="1380.6" cy="709.6" r="5"/><circle cx="1381.6" cy="705.4" r="5"/><circle cx="1382.7" cy="706.1" r="5"/><circle cx="1383.8" cy="703.5" r="5"/><circle cx="1384.8" cy="705.1" r="5"/><circle cx="1385.9" cy="694.8" r="5"/><circle cx="1386.9" cy="703.9" r="5"/><circle cx="1388.0" cy="702.3" r="5"/><circle cx="1389.1" cy="695.2" r="5"/><circle cx="1390.1" cy="714.6" r="5"/><circle cx="1391.2" cy="695.2" r="5"/><circle cx="1392.3" cy="696.6" r="5"/><circle cx="1393.3" cy="704.2" r="5"/><circle cx="1394.4" cy="689.4" r="5"/><circle cx="1395.5" cy="695.3" r="5"/><circle cx="1396.5" cy="689.2" r="5"/><circle cx="1397.6" cy="692.0" r="5"/><circle cx="1398.7" cy="697.6" r="5"/><circle cx="1399.7" cy="701.0" r="5"/><circle cx="1400.8" cy="706.1" r="5"/><circle cx="1401.9" cy="702.9" r="5"/><circle cx="1403.0" cy="702.9" r="5"/><circle cx="1404.0" cy="696.3" r="5"/><circle cx="1405.1" cy="687.2" r="5"/><circle cx="1406.2" cy="693.5" r="5"/><circle cx="1407.2" cy="679.4" r="5"/><circle cx="1408.3" cy="672.5" r="5"/><circle cx="1409.4" cy="677.8" r="5"/><circle cx="1410.5" cy="666.9" r="5"/><circle cx="1411.6" cy="657.9" r="5"/><circle cx="1412.6" cy="655.4" r="5"/><circle cx="1413.7" cy="651.2" r="5"/><circle cx="1414.8" cy="634.8" r="5"/><circle cx="1415.9" cy="637.2" r="5"/><circle cx="1416.9" cy="627.6" r="5"/><circle cx="1418.0" cy="629.9" r="5"/><circle cx="1419.1" cy="621.3" r="5"/><circle cx="1420.2" cy="625.8" r="5"/><circle cx="1421.3" cy="615.8" r="5"/><circle cx="1422.4" cy="603.5" r="5"/><circle cx="1423.4" cy="601.4" r="5"/><circle cx="1424.5" cy="590.9" r="5"/><circle cx="1425.6" cy="591.6" r="5"/><circle cx="1426.7" cy="589.2" r="5"/><circle cx="1427.8" cy="583.8" r="5"/><circle cx="1428.9" cy="571.8" r="5"/><circle cx="1430.0" cy="576.6" r="5"/><circle cx="1431.0" cy="578.9" r="5"/><circle cx="1432.1" cy="576.6" r="5"/><circle cx="1433.2" cy="578.0" r="5"/><circle cx="1434.3" cy="564.7" r="5"/><circle cx="1435.4" cy="570.7" r="5"/><circle cx="1436.5" cy="565.5" r="5"/><circle cx="1437.6" cy="571.8" r="5"/><circle cx="1438.7" cy="576.2" r="5"/><circle cx="1439.8" cy="580.4" r="5"/><circle cx="1440.9" cy="576.0" r="5"/><circle cx="1442.0" cy="581.3" r="5"/><circle cx="1443.1" cy="576.9" r="5"/><circle cx="1444.2" cy="579.5" r="5"/><circle cx="1445.2" cy="594.9" r="5"/><circle cx="1446.3" cy="597.8" r="5"/><circle cx="1447.4" cy="595.9" r="5"/><circle cx="1448.5" cy="606.5" r="5"/><circle cx="1449.6" cy="617.3" r="5"/><circle cx="1450.7" cy="631.1" r="5"/><circle cx="1451.8" cy="632.5" r="5"/><circle cx="1452.9" cy="634.4" r="5"/><circle cx="1454.0" cy="622.0" r="5"/><circle cx="1455.1" cy="635.1" r="5"/><circle cx="1456.2" cy="642.2" r="5"/><circle cx="1457.3" cy="645.7" r="5"/><circle cx="1458.5" cy="650.0" r="5"/><circle cx="1459.6" cy="649.9" r="5"/><circle cx="1460.7" cy="666.3" r="5"/><circle cx="1461.8" cy="667.6" r="5"/><circle cx="1462.9" cy="659.9" r="5"/><circle cx="1464.0" cy="656.3" r="5"/><circle cx="1465.1" cy="678.8" r="5"/><circle cx="1466.2" cy="661.3" r="5"/><circle cx="1467.3" cy="672.9" r="5"/><circle cx="1468.4" cy="677.9" r="5"/><circle cx="1469.5" cy="659.6" r="5"/><circle cx="1470.6" cy="672.3" r="5"/><circle cx="1471.8" cy="671.3" r="5"/><circle cx="1472.9" cy="679.3" r="5"/><circle cx="1474.0" cy="677.3" r="5"/><circle cx="1475.1" cy="688.0" r="5"/><circle cx="1476.2" cy="676.2" r="5"/><circle cx="1477.3" cy="671.0" r="5"/><circle cx="1478.4" cy="680.6" r="5"/><circle cx="1479.6" cy="670.7" r="5"/><circle cx="1480.7" cy="670.9" r="5"/><circle cx="1481.8" cy="691.8" r="5"/><circle cx="1482.9" cy="665.6" r="5"/><circle cx="1484.0" cy="666.5" r="5"/><circle cx="1485.1" cy="670.0" r="5"/><circle cx="1486.3" cy="661.7" r="5"/><circle cx="1487.4" cy="655.6" r="5"/><circle cx="1488.5" cy="686.1" r="5"/><circle cx="1489.6" cy="675.9" r="5"/><circle cx="1490.7" cy="681.9" r="5"/><circle cx="1491.9" cy="685.1" r="5"/><circle cx="1493.0" cy="679.2" r="5"/><circle cx="1494.1" cy="676.1" r="5"/><circle cx="1495.2" cy="684.2" r="5"/><circle cx="1496.4" cy="702.3" r="5"/><circle cx="1497.5" cy="689.1" r="5"/><circle cx="1498.6" cy="691.8" r="5"/><circle cx="1499.8" cy="676.5" r="5"/><circle cx="1500.9" cy="694.0" r="5"/><circle cx="1502.0" cy="688.5" r="5"/><circle cx="1503.1" cy="708.7" r="5"/><circle cx="1504.3" cy="701.8" r="5"/><circle cx="1505.4" cy="704.9" r="5"/><circle cx="1506.5" cy="704.0" r="5"/><circle cx="1507.7" cy="699.1" r="5"/><circle cx="1508.8" cy="688.9" r="5"/><circle cx="1509.9" cy="704.0" r="5"/><circle cx="1511.1" cy="682.4" r="5"/><circle cx="1512.2" cy="680.9" r="5"/><circle cx="1513.3" cy="688.1" r="5"/><circle cx="1514.5" cy="686.3" r="5"/><circle cx="1515.6" cy="697.7" r="5"/><circle cx="1516.8" cy="705.8" r="5"/><circle cx="1517.9" cy="698.0" r="5"/><circle cx="1519.0" cy="694.8" r="5"/><circle cx="1520.2" cy="690.0" r="5"/><circle cx="1521.3" cy="695.0" r="5"/><circle cx="1522.4" cy="668.7" r="5"/><circle cx="1523.6" cy="688.9" r="5"/><circle cx="1524.7" cy="677.7" r="5"/><circle cx="1525.9" cy="676.0" r="5"/><circle cx="1527.0" cy="688.1" r="5"/><circle cx="1528.2" cy="685.0" r="5"/><circle cx="1529.3" cy="695.4" r="5"/><circle cx="1530.5" cy="703.0" r="5"/><circle cx="1531.6" cy="674.5" r="5"/><circle cx="1532.7" cy="699.1" r="5"/><circle cx="1533.9" cy="720.1" r="5"/><circle cx="1535.0" cy="709.8" r="5"/><circle cx="1536.2" cy="715.0" r="5"/><circle cx="1537.3" cy="702.4" r="5"/><circle cx="1538.5" cy="688.6" r="5"/><circle cx="1539.6" cy="692.4" r="5"/><circle cx="1540.8" cy="710.8" r="5"/><circle cx="1541.9" cy="714.2" r="5"/><circle cx="1543.1" cy="699.4" r="5"/><circle cx="1544.3" cy="705.2" r="5"/><circle cx="1545.4" cy="710.0" r="5"/><circle cx="1546.6" cy="688.2" r="5"/><circle cx="1547.7" cy="699.1" r="5"/><circle cx="1548.9" cy="715.6" r="5"/><circle cx="1550.0" cy="718.1" r="5"/><circle cx="1551.2" cy="692.5" r="5"/><circle cx="1552.3" cy="710.9" r="5"/><circle cx="1553.5" cy="689.4" r="5"/><circle cx="1554.7" cy="690.6" r="5"/><circle cx="1555.8" cy="680.3" r="5"/><circle cx="1557.0" cy="715.5" r="5"/><circle cx="1558.2" cy="704.0" r="5"/><circle cx="1559.3" cy="733.2" r="5"/><circle cx="1560.5" cy="713.8" r="5"/><circle cx="1561.6" cy="712.1" r="5"/><circle cx="1562.8" cy="689.9" r="5"/><circle cx="1564.0" cy="721.2" r="5"/><circle cx="1565.1" cy="698.9" r="5"/><circle cx="1566.3" cy="698.5" r="5"/><circle cx="1567.5" cy="675.8" r="5"/><circle cx="1568.6" cy="708.5" r="5"/><circle cx="1569.8" cy="710.4" r="5"/><circle cx="1571.0" cy="695.5" r="5"/><circle cx="1572.1" cy="704.1" r="5"/><circle cx="1573.3" cy="707.2" r="5"/><circle cx="1574.5" cy="712.1" r="5"/><circle cx="1575.7" cy="702.2" r="5"/><circle cx="1576.8" cy="720.2" r="5"/><circle cx="1578.0" cy="701.3" r="5"/><circle cx="1579.2" cy="699.3" r="5"/><circle cx="1580.3" cy="701.1" r="5"/><circle cx="1581.5" cy="676.9" r="5"/><circle cx="1582.7" cy="692.5" r="5"/><circle cx="1583.9" cy="709.7" r="5"/><circle cx="1585.1" cy="700.9" r="5"/><circle cx="1586.2" cy="690.2" r="5"/><circle cx="1587.4" cy="704.6" r="5"/><circle cx="1588.6" cy="679.1" r="5"/><circle cx="1589.8" cy="696.2" r="5"/><circle cx="1591.0" cy="701.6" r="5"/><circle cx="1592.1" cy="700.8" r="5"/><circle cx="1593.3" cy="685.4" r="5"/><circle cx="1594.5" cy="709.0" r="5"/><circle cx="1595.7" cy="725.8" r="5"/><circle cx="1596.9" cy="704.1" r="5"/><circle cx="1598.0" cy="717.7" r="5"/><circle cx="1599.2" cy="690.6" r="5"/><circle cx="1600.4" cy="685.4" r="5"/><circle cx="1601.6" cy="715.2" r="5"/><circle cx="1602.8" cy="710.0" r="5"/><circle cx="1604.0" cy="712.1" r="5"/><circle cx="1605.2" cy="702.6" r="5"/><circle cx="1606.4" cy="705.0" r="5"/><circle cx="1607.6" cy="717.2" r="5"/><circle cx="1608.7" cy="727.4" r="5"/><circle cx="1609.9" cy="704.3" r="5"/><circle cx="1611.1" cy="685.2" r="5"/><circle cx="1612.3" cy="715.1" r="5"/><circle cx="1613.5" cy="705.2" r="5"/><circle cx="1614.7" cy="706.1" r="5"/><circle cx="1615.9" cy="702.2" r="5"/><circle cx="1617.1" cy="729.1" r="5"/><circle cx="1618.3" cy="705.9" r="5"/><circle cx="1619.5" cy="713.9" r="5"/><circle cx="1620.7" cy="690.3" r="5"/><circle cx="1621.9" cy="708.6" r="5"/><circle cx="1623.1" cy="710.3" r="5"/><circle cx="1624.3" cy="719.7" r="5"/><circle cx="1625.5" cy="724.4" r="5"/><circle cx="1626.7" cy="710.7" r="5"/><circle cx="1627.9" cy="736.7" r="5"/><circle cx="1629.1" cy="700.6" r="5"/><circle cx="1630.3" cy="703.3" r="5"/><circle cx="1631.5" cy="706.6" r="5"/><circle cx="1632.7" cy="684.3" r="5"/><circle cx="1633.9" cy="700.2" r="5"/><circle cx="1635.1" cy="696.8" r="5"/><circle cx="1636.3" cy="684.3" r="5"/><circle cx="1637.5" cy="711.4" r="5"/><circle cx="1638.7" cy="693.8" r="5"/><circle cx="1639.9" cy="700.6" r="5"/><circle cx="1641.2" cy="689.9" r="5"/><circle cx="1642.4" cy="683.5" r="5"/><circle cx="1643.6" cy="695.0" r="5"/><circle cx="1644.8" cy="695.4" r="5"/><circle cx="1646.0" cy="689.7" r="5"/><circle cx="1647.2" cy="700.9" r="5"/><circle cx="1648.4" cy="662.8" r="5"/><circle cx="1649.6" cy="678.0" r="5"/><circle cx="1650.9" cy="670.7" r="5"/><circle cx="1652.1" cy="708.6" r="5"/><circle cx="1653.3" cy="687.1" r="5"/><circle cx="1654.5" cy="690.4" r="5"/><circle cx="1655.7" cy="688.3" r="5"/><circle cx="1656.9" cy="717.0" r="5"/><circle cx="1658.2" cy="703.4" r="5"/><circle cx="1659.4" cy="707.7" r="5"/><circle cx="1660.6" cy="673.8" r="5"/><circle cx="1661.8" cy="704.7" r="5"/><circle cx="1663.0" cy="691.7" r="5"/><circle cx="1664.3" cy="694.4" r="5"/><circle cx="1665.5" cy="706.4" r="5"/><circle cx="1666.7" cy="693.7" r="5"/><circle cx="1667.9" cy="697.9" r="5"/><circle cx="1669.2" cy="711.6" r="5"/><circle cx="1670.4" cy="710.2" r="5"/><circle cx="1671.6" cy="702.4" r="5"/><circle cx="1672.9" cy="704.3" r="5"/><circle cx="1674.1" cy="695.1" r="5"/><circle cx="1675.3" cy="706.8" r="5"/><circle cx="1676.5" cy="706.1" r="5"/><circle cx="1677.8" cy="691.5" r="5"/><circle cx="1679.0" cy="712.1" r="5"/><circle cx="1680.2" cy="672.6" r="5"/><circle cx="1681.5" cy="694.3" r="5"/><circle cx="1682.7" cy="725.7" r="5"/><circle cx="1683.9" cy="705.7" r="5"/><circle cx="1685.2" cy="692.9" r="5"/><circle cx="1686.4" cy="727.0" r="5"/><circle cx="1687.6" cy="712.6" r="5"/><circle cx="1688.9" cy="687.8" r="5"/><circle cx="1690.1" cy="710.3" r="5"/><circle cx="1691.4" cy="688.8" r="5"/><circle cx="1692.6" cy="686.3" r="5"/><circle cx="1693.8" cy="701.8" r="5"/><circle cx="1695.1" cy="698.2" r="5"/><circle cx="1696.3" cy="691.0" r="5"/><circle cx="1697.6" cy="701.0" r="5"/><circle cx="1698.8" cy="695.1" r="5"/><circle cx="1700.0" cy="710.4" r="5"/><circle cx="1701.3" cy="711.2" r="5"/><circle cx="1702.5" cy="721.3" r="5"/><circle cx="1703.8" cy="706.4" r="5"/><circle cx="1705.0" cy="696.3" r="5"/><circle cx="1706.3" cy="699.5" r="5"/><circle cx="1707.5" cy="717.3" r="5"/><circle cx="1708.8" cy="742.2" r="5"/><circle cx="1710.0" cy="731.8" r="5"/><circle cx="1711.3" cy="706.9" r="5"/><circle cx="1712.5" cy="718.8" r="5"/><circle cx="1713.8" cy="686.8" r="5"/><circle cx="1715.0" cy="711.3" r="5"/><circle cx="1716.3" cy="693.5" r="5"/><circle cx="1717.5" cy="707.5" r="5"/><circle cx="1718.8" cy="704.1" r="5"/><circle cx="1720.0" cy="690.6" r="5"/><circle cx="1721.3" cy="697.1" r="5"/><circle cx="1722.6" cy="680.4" r="5"/><circle cx="1723.8" cy="695.3" r="5"/><circle cx="1725.1" cy="712.5" r="5"/><circle cx="1726.3" cy="752.2" r="5"/><circle cx="1727.6" cy="709.9" r="5"/><circle cx="1728.8" cy="702.2" r="5"/><circle cx="1730.1" cy="690.0" r="5"/><circle cx="1731.4" cy="720.8" r="5"/><circle cx="1732.6" cy="691.9" r="5"/><circle cx="1733.9" cy="705.6" r="5"/><circle cx="1735.2" cy="719.4" r="5"/><circle cx="1736.4" cy="696.7" r="5"/><circle cx="1737.7" cy="730.1" r="5"/><circle cx="1739.0" cy="725.7" r="5"/><circle cx="1740.2" cy="708.1" r="5"/><circle cx="1741.5" cy="712.0" r="5"/><circle cx="1742.8" cy="704.8" r="5"/><circle cx="1744.0" cy="704.6" r="5"/><circle cx="1745.3" cy="727.6" r="5"/><circle cx="1746.6" cy="728.3" r="5"/><circle cx="1747.8" cy="722.0" r="5"/><circle cx="1749.1" cy="716.8" r="5"/><circle cx="1750.4" cy="701.6" r="5"/><circle cx="1751.7" cy="708.9" r="5"/><circle cx="1752.9" cy="681.1" r="5"/><circle cx="1754.2" cy="696.4" r="5"/><circle cx="1755.5" cy="712.2" r="5"/><circle cx="1756.8" cy="709.5" r="5"/><circle cx="1758.0" cy="690.1" r="5"/><circle cx="1759.3" cy="699.8" r="5"/><circle cx="1760.6" cy="731.7" r="5"/><circle cx="1761.9" cy="743.9" r="5"/><circle cx="1763.2" cy="702.6" r="5"/><circle cx="1764.4" cy="712.6" r="5"/><circle cx="1765.7" cy="714.7" r="5"/><circle cx="1767.0" cy="720.8" r="5"/><circle cx="1768.3" cy="688.5" r="5"/><circle cx="1769.6" cy="704.0" r="5"/><circle cx="1770.8" cy="690.0" r="5"/><circle cx="1772.1" cy="725.2" r="5"/><circle cx="1773.4" cy="701.5" r="5"/><circle cx="1774.7" cy="696.9" r="5"/><circle cx="1776.0" cy="697.8" r="5"/><circle cx="1777.3" cy="719.2" r="5"/><circle cx="1778.6" cy="716.0" r="5"/><circle cx="1779.9" cy="692.5" r="5"/><circle cx="1781.2" cy="707.8" r="5"/><circle cx="1782.4" cy="685.3" r="5"/><circle cx="1783.7" cy="691.9" r="5"/><circle cx="1785.0" cy="685.7" r="5"/><circle cx="1786.3" cy="688.0" r="5"/><circle cx="1787.6" cy="699.1" r="5"/><circle cx="1788.9" cy="695.6" r="5"/><circle cx="1790.2" cy="712.9" r="5"/><circle cx="1791.5" cy="712.1" r="5"/><circle cx="1792.8" cy="695.1" r="5"/><circle cx="1794.1" cy="682.5" r="5"/><circle cx="1795.4" cy="709.1" r="5"/><circle cx="1796.7" cy="673.4" r="5"/><circle cx="1798.0" cy="676.9" r="5"/><circle cx="1799.3" cy="714.5" r="5"/><circle cx="1800.6" cy="715.9" r="5"/><circle cx="1801.9" cy="722.5" r="5"/><circle cx="1803.2" cy="708.7" r="5"/><circle cx="1804.5" cy="695.6" r="5"/><circle cx="1805.8" cy="705.0" r="5"/><circle cx="1807.1" cy="717.8" r="5"/><circle cx="1808.4" cy="697.8" r="5"/><circle cx="1809.7" cy="695.9" r="5"/><circle cx="1811.0" cy="683.2" r="5"/><circle cx="1812.3" cy="683.3" r="5"/><circle cx="1813.7" cy="708.7" r="5"/><circle cx="1815.0" cy="703.6" r="5"/><circle cx="1816.3" cy="681.9" r="5"/><circle cx="1817.6" cy="680.9" r="5"/><circle cx="1818.9" cy="682.6" r="5"/><circle cx="1820.2" cy="691.1" r="5"/><circle cx="1821.5" cy="664.3" r="5"/><circle cx="1822.8" cy="679.6" r="5"/><circle cx="1824.2" cy="659.8" r="5"/><circle cx="1825.5" cy="680.4" r="5"/><circle cx="1826.8" cy="709.7" r="5"/><circle cx="1828.1" cy="718.6" r="5"/><circle cx="1829.4" cy="689.6" r="5"/><circle cx="1830.7" cy="692.0" r="5"/><circle cx="1832.1" cy="710.8" r="5"/><circle cx="1833.4" cy="693.7" r="5"/><circle cx="1834.7" cy="693.1" r="5"/><circle cx="1836.0" cy="711.2" r="5"/><circle cx="1837.4" cy="711.4" r="5"/><circle cx="1838.7" cy="727.2" r="5"/><circle cx="1840.0" cy="724.1" r="5"/><circle cx="1841.3" cy="705.1" r="5"/><circle cx="1842.7" cy="710.9" r="5"/><circle cx="1844.0" cy="712.1" r="5"/><circle cx="1845.3" cy="694.8" r="5"/><circle cx="1846.6" cy="699.6" r="5"/><circle cx="1848.0" cy="724.9" r="5"/><circle cx="1849.3" cy="688.9" r="5"/><circle cx="1850.6" cy="725.0" r="5"/><circle cx="1852.0" cy="717.8" r="5"/><circle cx="1853.3" cy="715.5" r="5"/><circle cx="1854.6" cy="728.6" r="5"/><circle cx="1856.0" cy="731.1" r="5"/><circle cx="1857.3" cy="743.5" r="5"/><circle cx="1858.6" cy="722.6" r="5"/><circle cx="1860.0" cy="725.1" r="5"/><circle cx="1861.3" cy="723.3" r="5"/><circle cx="1862.6" cy="748.1" r="5"/><circle cx="1864.0" cy="727.7" r="5"/><circle cx="1865.3" cy="693.8" r="5"/><circle cx="1866.7" cy="696.2" r="5"/><circle cx="1868.0" cy="689.2" r="5"/><circle cx="1869.3" cy="699.7" r="5"/><circle cx="1870.7" cy="702.5" r="5"/><circle cx="1872.0" cy="729.0" r="5"/><circle cx="1873.4" cy="669.0" r="5"/><circle cx="1874.7" cy="708.1" r="5"/><circle cx="1876.1" cy="704.3" r="5"/><circle cx="1877.4" cy="698.0" r="5"/><circle cx="1878.7" cy="717.4" r="5"/><circle cx="1880.1" cy="721.4" r="5"/><circle cx="1881.4" cy="730.0" r="5"/><circle cx="1882.8" cy="735.1" r="5"/><circle cx="1884.1" cy="686.1" r="5"/><circle cx="1885.5" cy="713.0" r="5"/><circle cx="1886.8" cy="684.2" r="5"/><circle cx="1888.2" cy="714.1" r="5"/><circle cx="1889.5" cy="708.6" r="5"/><circle cx="1890.9" cy="730.4" r="5"/><circle cx="1892.3" cy="728.4" r="5"/><circle cx="1893.6" cy="739.3" r="5"/><circle cx="1895.0" cy="725.2" r="5"/><circle cx="1896.3" cy="710.4" r="5"/><circle cx="1897.7" cy="727.2" r="5"/><circle cx="1899.0" cy="723.5" r="5"/><circle cx="1900.4" cy="741.5" r="5"/><circle cx="1901.8" cy="686.4" r="5"/><circle cx="1903.1" cy="716.2" r="5"/><circle cx="1904.5" cy="736.1" r="5"/><circle cx="1905.8" cy="702.0" r="5"/><circle cx="1907.2" cy="712.6" r="5"/><circle cx="1908.6" cy="742.4" r="5"/><circle cx="1909.9" cy="731.5" r="5"/><circle cx="1911.3" cy="699.9" r="5"/><circle cx="1912.7" cy="734.1" r="5"/><circle cx="1914.0" cy="732.5" r="5"/><circle cx="1915.4" cy="728.0" r="5"/><circle cx="1916.8" cy="722.6" r="5"/><circle cx="1918.1" cy="719.5" r="5"/><circle cx="1919.5" cy="702.3" r="5"/><circle cx="1920.9" cy="706.4" r="5"/><circle cx="1922.3" cy="723.9" r="5"/><circle cx="1923.6" cy="715.4" r="5"/><circle cx="1925.0" cy="738.6" r="5"/><circle cx="1926.4" cy="705.3" r="5"/><circle cx="1927.8" cy="673.6" r="5"/><circle cx="1929.1" cy="702.0" r="5"/><circle cx="1930.5" cy="711.3" r="5"/><circle cx="1931.9" cy="713.5" r="5"/><circle cx="1933.3" cy="708.1" r="5"/><circle cx="1934.6" cy="692.1" r="5"/><circle cx="1936.0" cy="720.8" r="5"/><circle cx="1937.4" cy="686.8" r="5"/><circle cx="1938.8" cy="706.0" r="5"/><circle cx="1940.2" cy="694.2" r="5"/><circle cx="1941.5" cy="685.7" r="5"/><circle cx="1942.9" cy="727.9" r="5"/><circle cx="1944.3" cy="675.4" r="5"/><circle cx="1945.7" cy="700.9" r="5"/><circle cx="1947.1" cy="719.4" r="5"/><circle cx="1948.5" cy="707.7" r="5"/><circle cx="1949.9" cy="723.7" r="5"/><circle cx="1951.3" cy="711.9" r="5"/><circle cx="1952.6" cy="706.5" r="5"/><circle cx="1954.0" cy="742.8" r="5"/><circle cx="1955.4" cy="706.9" r="5"/><circle cx="1956.8" cy="707.2" r="5"/><circle cx="1958.2" cy="694.9" r="5"/><circle cx="1959.6" cy="702.2" r="5"/><circle cx="1961.0" cy="726.0" r="5"/><circle cx="1962.4" cy="729.6" r="5"/><circle cx="1963.8" cy="726.2" r="5"/><circle cx="1965.2" cy="717.9" r="5"/><circle cx="1966.6" cy="735.1" r="5"/><circle cx="1968.0" cy="693.7" r="5"/>
</g>
<polyline fill="none" stroke="#000" stroke-width="6.2" stroke-linejoin="round" points="152.5,709.7 152.8,709.7 153.2,709.6 153.6,709.6 153.9,709.6 154.3,709.6 154.6,709.6 155.0,709.6 155.3,709.6 155.7,709.6 156.0,709.6 156.4,709.6 156.7,709.6 157.1,709.5 157.4,709.5 157.8,709.5 158.1,709.5 158.5,709.5 158.8,709.5 159.2,709.5 159.5,709.5 159.9,709.4 160.2,709.4 160.6,709.4 161.0,709.4 161.3,709.4 161.7,709.3 162.0,709.3 162.4,709.3 162.7,709.3 163.1,709.2 163.4,709.2 163.8,709.2 164.2,709.1 164.5,709.1 164.9,709.1 165.2,709.0 165.6,709.0 165.9,708.9 166.3,708.8 166.7,708.8 167.0,708.7 167.4,708.6 167.7,708.5 168.1,708.4 168.4,708.2 168.8,708.0 169.2,707.8 169.5,707.5 169.9,707.2 170.2,706.8 170.6,706.3 171.0,705.7 171.3,705.1 171.7,704.3 172.0,703.4 172.4,702.4 172.8,701.2 173.1,700.0 173.5,698.6 173.8,697.2 174.2,695.7 174.6,694.2 174.9,692.7 175.3,691.2 175.7,689.9 176.0,688.9 176.4,688.1 176.8,687.6 177.1,687.5 177.5,687.7 177.8,688.1 178.2,688.7 178.6,689.5 178.9,690.4 179.3,691.4 179.7,692.5 180.0,693.7 180.4,694.8 180.8,696.0 181.1,697.1 181.5,698.2 181.9,699.2 182.2,700.2 182.6,701.1 183.0,701.9 183.3,702.7 183.7,703.4 184.1,703.9 184.4,704.4 184.8,704.9 185.2,705.2 185.5,705.5 185.9,705.7 186.3,705.8 186.7,705.9 187.0,705.9 187.4,705.8 187.8,705.6 188.1,705.4 188.5,705.0 188.9,704.5 189.2,704.0 189.6,703.3 190.0,702.4 190.4,701.5 190.7,700.3 191.1,699.1 191.5,697.6 191.8,696.0 192.2,694.3 192.6,692.5 193.0,690.5 193.3,688.5 193.7,686.4 194.1,684.4 194.5,682.4 194.8,680.6 195.2,679.1 195.6,677.8 196.0,677.0 196.3,676.5 196.7,676.6 197.1,676.9 197.5,677.5 197.8,678.5 198.2,679.6 198.6,680.9 199.0,682.4 199.3,684.0 199.7,685.7 200.1,687.4 200.5,689.1 200.8,690.8 201.2,692.5 201.6,694.1 202.0,695.6 202.4,697.0 202.7,698.4 203.1,699.7 203.5,700.8 203.9,701.9 204.3,702.9 204.6,703.7 205.0,704.5 205.4,705.2 205.8,705.8 206.2,706.4 206.5,706.8 206.9,707.3 207.3,707.6 207.7,707.9 208.1,708.2 208.4,708.5 208.8,708.7 209.2,708.9 209.6,709.0 210.0,709.2 210.4,709.3 210.7,709.4 211.1,709.5 211.5,709.6 211.9,709.7 212.3,709.8 212.7,709.9 213.0,710.0 213.4,710.0 213.8,710.1 214.2,710.2 214.6,710.2 215.0,710.3 215.4,710.4 215.7,710.4 216.1,710.5 216.5,710.5 216.9,710.6 217.3,710.6 217.7,710.7 218.1,710.7 218.4,710.8 218.8,710.8 219.2,710.9 219.6,710.9 220.0,711.0 220.4,711.0 220.8,711.1 221.2,711.1 221.6,711.2 221.9,711.2 222.3,711.3 222.7,711.3 223.1,711.3 223.5,711.4 223.9,711.4 224.3,711.5 224.7,711.5 225.1,711.6 225.5,711.6 225.9,711.7 226.2,711.7 226.6,711.8 227.0,711.8 227.4,711.9 227.8,711.9 228.2,712.0 228.6,712.0 229.0,712.1 229.4,712.1 229.8,712.2 230.2,712.2 230.6,712.3 231.0,712.3 231.4,712.3 231.8,712.4 232.2,712.4 232.6,712.5 233.0,712.5 233.3,712.6 233.7,712.6 234.1,712.7 234.5,712.7 234.9,712.7 235.3,712.8 235.7,712.8 236.1,712.9 236.5,712.9 236.9,712.9 237.3,713.0 237.7,713.0 238.1,713.0 238.5,713.0 238.9,713.1 239.3,713.1 239.7,713.1 240.1,713.1 240.5,713.1 240.9,713.1 241.3,713.0 241.7,713.0 242.1,712.9 242.5,712.9 242.9,712.7 243.3,712.6 243.7,712.4 244.1,712.1 244.5,711.8 244.9,711.4 245.3,710.9 245.7,710.4 246.2,709.7 246.6,709.0 247.0,708.1 247.4,707.2 247.8,706.1 248.2,705.0 248.6,703.8 249.0,702.5 249.4,701.3 249.8,700.1 250.2,699.0 250.6,698.0 251.0,697.2 251.4,696.7 251.8,696.5 252.2,696.6 252.6,696.9 253.1,697.4 253.5,698.1 253.9,698.9 254.3,699.8 254.7,700.9 255.1,702.0 255.5,703.1 255.9,704.3 256.3,705.4 256.7,706.5 257.1,707.6 257.6,708.6 258.0,709.6 258.4,710.5 258.8,711.3 259.2,712.1 259.6,712.8 260.0,713.5 260.4,714.0 260.8,714.6 261.3,715.0 261.7,715.4 262.1,715.8 262.5,716.1 262.9,716.4 263.3,716.7 263.7,716.9 264.1,717.2 264.6,717.4 265.0,717.5 265.4,717.7 265.8,717.9 266.2,718.0 266.6,718.2 267.1,718.3 267.5,718.4 267.9,718.6 268.3,718.7 268.7,718.8 269.1,718.9 269.6,719.0 270.0,719.2 270.4,719.3 270.8,719.4 271.2,719.5 271.6,719.6 272.1,719.7 272.5,719.9 272.9,720.0 273.3,720.1 273.7,720.3 274.2,720.4 274.6,720.5 275.0,720.7 275.4,720.8 275.8,720.9 276.3,721.1 276.7,721.2 277.1,721.3 277.5,721.4 277.9,721.6 278.4,721.7 278.8,721.8 279.2,722.0 279.6,722.1 280.1,722.2 280.5,722.3 280.9,722.4 281.3,722.5 281.8,722.6 282.2,722.7 282.6,722.8 283.0,722.9 283.5,723.0 283.9,723.1 284.3,723.1 284.7,723.2 285.2,723.3 285.6,723.3 286.0,723.4 286.4,723.4 286.9,723.4 287.3,723.4 287.7,723.4 288.2,723.4 288.6,723.4 289.0,723.4 289.4,723.4 289.9,723.4 290.3,723.4 290.7,723.3 291.2,723.3 291.6,723.3 292.0,723.2 292.4,723.2 292.9,723.1 293.3,723.1 293.7,723.0 294.2,723.0 294.6,722.9 295.0,722.8 295.5,722.8 295.9,722.7 296.3,722.6 296.8,722.6 297.2,722.5 297.6,722.4 298.1,722.3 298.5,722.2 298.9,722.2 299.4,722.1 299.8,722.0 300.2,721.9 300.7,721.8 301.1,721.7 301.5,721.7 302.0,721.6 302.4,721.5 302.8,721.4 303.3,721.3 303.7,721.2 304.2,721.1 304.6,721.0 305.0,721.0 305.5,720.9 305.9,720.8 306.4,720.7 306.8,720.6 307.2,720.5 307.7,720.4 308.1,720.3 308.5,720.2 309.0,720.1 309.4,719.9 309.9,719.8 310.3,719.7 310.7,719.5 311.2,719.4 311.6,719.2 312.1,719.0 312.5,718.8 313.0,718.6 313.4,718.3 313.8,718.1 314.3,717.7 314.7,717.4 315.2,717.0 315.6,716.5 316.1,715.9 316.5,715.2 317.0,714.5 317.4,713.6 317.8,712.6 318.3,711.5 318.7,710.2 319.2,708.8 319.6,707.3 320.1,705.6 320.5,703.7 321.0,701.8 321.4,699.7 321.9,697.5 322.3,695.3 322.8,693.2 323.2,691.0 323.7,689.0 324.1,687.1 324.5,685.6 325.0,684.3 325.4,683.4 325.9,683.0 326.3,683.0 326.8,683.4 327.2,684.0 327.7,684.9 328.1,686.1 328.6,687.4 329.1,688.9 329.5,690.5 330.0,692.2 330.4,693.9 330.9,695.6 331.3,697.3 331.8,698.9 332.2,700.5 332.7,702.0 333.1,703.4 333.6,704.7 334.0,705.9 334.5,707.0 334.9,708.0 335.4,708.9 335.9,709.7 336.3,710.4 336.8,711.0 337.2,711.5 337.7,712.0 338.1,712.4 338.6,712.7 339.1,713.0 339.5,713.2 340.0,713.4 340.4,713.5 340.9,713.6 341.3,713.7 341.8,713.7 342.3,713.8 342.7,713.8 343.2,713.8 343.6,713.8 344.1,713.8 344.6,713.8 345.0,713.8 345.5,713.7 345.9,713.7 346.4,713.6 346.9,713.6 347.3,713.5 347.8,713.4 348.3,713.4 348.7,713.3 349.2,713.2 349.6,713.1 350.1,713.0 350.6,712.8 351.0,712.7 351.5,712.5 352.0,712.4 352.4,712.2 352.9,712.0 353.4,711.7 353.8,711.4 354.3,711.1 354.8,710.7 355.2,710.2 355.7,709.7 356.2,709.1 356.6,708.4 357.1,707.6 357.6,706.8 358.0,705.8 358.5,704.7 359.0,703.5 359.4,702.2 359.9,700.8 360.4,699.3 360.9,697.7 361.3,696.1 361.8,694.4 362.3,692.8 362.7,691.1 363.2,689.5 363.7,688.0 364.1,686.7 364.6,685.6 365.1,684.7 365.6,684.2 366.0,684.0 366.5,684.1 367.0,684.4 367.5,684.9 367.9,685.7 368.4,686.6 368.9,687.7 369.4,688.8 369.8,690.1 370.3,691.4 370.8,692.7 371.3,694.0 371.7,695.3 372.2,696.6 372.7,697.8 373.2,699.0 373.6,700.1 374.1,701.1 374.6,702.1 375.1,703.0 375.6,703.7 376.0,704.5 376.5,705.1 377.0,705.7 377.5,706.1 378.0,706.6 378.4,706.9 378.9,707.3 379.4,707.5 379.9,707.8 380.4,707.9 380.8,708.1 381.3,708.2 381.8,708.3 382.3,708.4 382.8,708.4 383.2,708.5 383.7,708.5 384.2,708.5 384.7,708.5 385.2,708.5 385.7,708.5 386.2,708.4 386.6,708.4 387.1,708.4 387.6,708.3 388.1,708.3 388.6,708.2 389.1,708.1 389.6,708.1 390.0,708.0 390.5,707.9 391.0,707.9 391.5,707.8 392.0,707.7 392.5,707.6 393.0,707.5 393.5,707.4 393.9,707.3 394.4,707.2 394.9,707.1 395.4,706.9 395.9,706.8 396.4,706.6 396.9,706.5 397.4,706.3 397.9,706.1 398.4,705.9 398.8,705.7 399.3,705.4 399.8,705.1 400.3,704.8 400.8,704.4 401.3,704.0 401.8,703.4 402.3,702.8 402.8,702.1 403.3,701.2 403.8,700.1 404.3,698.9 404.8,697.4 405.3,695.7 405.8,693.8 406.3,691.5 406.8,689.0 407.3,686.1 407.8,683.0 408.2,679.6 408.7,676.0 409.2,672.1 409.7,668.2 410.2,664.3 410.7,660.5 411.2,656.9 411.7,653.7 412.2,651.1 412.7,649.2 413.2,648.2 413.7,648.0 414.2,648.5 414.7,649.5 415.2,651.0 415.7,653.0 416.2,655.3 416.7,657.8 417.3,660.6 417.8,663.5 418.3,666.4 418.8,669.4 419.3,672.3 419.8,675.1 420.3,677.9 420.8,680.4 421.3,682.9 421.8,685.2 422.3,687.2 422.8,689.2 423.3,690.9 423.8,692.4 424.3,693.8 424.8,695.1 425.3,696.2 425.8,697.1 426.3,697.9 426.9,698.6 427.4,699.3 427.9,699.8 428.4,700.2 428.9,700.6 429.4,701.0 429.9,701.3 430.4,701.5 430.9,701.7 431.4,701.9 432.0,702.1 432.5,702.2 433.0,702.4 433.5,702.5 434.0,702.6 434.5,702.7 435.0,702.8 435.5,702.9 436.1,703.0 436.6,703.1 437.1,703.2 437.6,703.2 438.1,703.3 438.6,703.4 439.1,703.5 439.7,703.5 440.2,703.6 440.7,703.7 441.2,703.7 441.7,703.8 442.2,703.9 442.8,703.9 443.3,704.0 443.8,704.1 444.3,704.1 444.8,704.2 445.3,704.3 445.9,704.3 446.4,704.4 446.9,704.4 447.4,704.5 447.9,704.6 448.5,704.6 449.0,704.7 449.5,704.7 450.0,704.8 450.5,704.9 451.1,704.9 451.6,705.0 452.1,705.0 452.6,705.1 453.2,705.2 453.7,705.2 454.2,705.3 454.7,705.3 455.3,705.4 455.8,705.4 456.3,705.5 456.8,705.6 457.4,705.6 457.9,705.7 458.4,705.7 458.9,705.8 459.5,705.8 460.0,705.9 460.5,705.9 461.0,706.0 461.6,706.0 462.1,706.1 462.6,706.1 463.2,706.2 463.7,706.3 464.2,706.3 464.8,706.4 465.3,706.4 465.8,706.5 466.3,706.6 466.9,706.6 467.4,706.7 467.9,706.8 468.5,706.8 469.0,706.9 469.5,707.0 470.1,707.0 470.6,707.1 471.1,707.2 471.7,707.2 472.2,707.3 472.7,707.4 473.3,707.5 473.8,707.5 474.3,707.6 474.9,707.7 475.4,707.8 476.0,707.8 476.5,707.9 477.0,708.0 477.6,708.1 478.1,708.1 478.6,708.2 479.2,708.3 479.7,708.4 480.3,708.4 480.8,708.5 481.3,708.6 481.9,708.7 482.4,708.7 483.0,708.8 483.5,708.9 484.0,709.0 484.6,709.1 485.1,709.2 485.7,709.2 486.2,709.3 486.7,709.4 487.3,709.5 487.8,709.6 488.4,709.7 488.9,709.8 489.5,709.9 490.0,709.9 490.6,710.0 491.1,710.1 491.6,710.2 492.2,710.3 492.7,710.4 493.3,710.5 493.8,710.6 494.4,710.7 494.9,710.8 495.5,710.9 496.0,711.0 496.6,711.1 497.1,711.2 497.7,711.3 498.2,711.4 498.8,711.5 499.3,711.6 499.9,711.6 500.4,711.7 501.0,711.8 501.5,711.9 502.1,712.0 502.6,712.1 503.2,712.2 503.7,712.3 504.3,712.4 504.8,712.5 505.4,712.6 505.9,712.7 506.5,712.8 507.0,712.9 507.6,713.0 508.2,713.1 508.7,713.2 509.3,713.3 509.8,713.4 510.4,713.5 510.9,713.6 511.5,713.7 512.1,713.8 512.6,713.9 513.2,714.0 513.7,714.1 514.3,714.2 514.8,714.3 515.4,714.4 516.0,714.5 516.5,714.6 517.1,714.7 517.6,714.8 518.2,714.9 518.8,714.9 519.3,715.0 519.9,715.1 520.4,715.2 521.0,715.3 521.6,715.4 522.1,715.5 522.7,715.6 523.3,715.7 523.8,715.8 524.4,715.9 525.0,716.0 525.5,716.1 526.1,716.2 526.7,716.4 527.2,716.5 527.8,716.6 528.4,716.7 528.9,716.8 529.5,716.9 530.1,717.0 530.6,717.2 531.2,717.3 531.8,717.4 532.3,717.5 532.9,717.6 533.5,717.7 534.0,717.8 534.6,718.0 535.2,718.1 535.8,718.2 536.3,718.3 536.9,718.4 537.5,718.5 538.0,718.6 538.6,718.7 539.2,718.7 539.8,718.8 540.3,718.9 540.9,719.0 541.5,719.1 542.1,719.1 542.6,719.2 543.2,719.3 543.8,719.3 544.4,719.4 544.9,719.4 545.5,719.5 546.1,719.5 546.7,719.5 547.2,719.6 547.8,719.6 548.4,719.6 549.0,719.6 549.6,719.6 550.1,719.6 550.7,719.6 551.3,719.5 551.9,719.5 552.5,719.5 553.0,719.5 553.6,719.4 554.2,719.4 554.8,719.3 555.4,719.3 555.9,719.2 556.5,719.1 557.1,719.1 557.7,719.0 558.3,718.9 558.9,718.9 559.4,718.8 560.0,718.7 560.6,718.6 561.2,718.5 561.8,718.4 562.4,718.3 563.0,718.2 563.6,718.1 564.1,718.0 564.7,717.9 565.3,717.8 565.9,717.7 566.5,717.5 567.1,717.4 567.7,717.2 568.3,717.0 568.8,716.7 569.4,716.5 570.0,716.3 570.6,716.0 571.2,715.7 571.8,715.5 572.4,715.2 573.0,714.9 573.6,714.7 574.2,714.4 574.8,714.1 575.4,713.8 576.0,713.6 576.6,713.3 577.1,713.0 577.7,712.8 578.3,712.5 578.9,712.2 579.5,711.9 580.1,711.5 580.7,711.1 581.3,710.6 581.9,710.0 582.5,709.3 583.1,708.5 583.7,707.5 584.3,706.4 584.9,705.0 585.5,703.5 586.1,701.6 586.7,699.5 587.3,697.0 587.9,694.2 588.5,691.1 589.1,687.7 589.7,684.0 590.3,680.0 590.9,675.8 591.5,671.6 592.1,667.3 592.7,663.1 593.3,659.2 593.9,655.8 594.6,653.0 595.2,651.1 595.8,650.1 596.4,650.1 597.0,650.6 597.6,651.8 598.2,653.4 598.8,655.5 599.4,658.0 600.0,660.7 600.6,663.6 601.2,666.7 601.8,669.8 602.4,673.0 603.1,676.1 603.7,679.1 604.3,682.0 604.9,684.8 605.5,687.4 606.1,689.8 606.7,692.1 607.3,694.1 607.9,696.0 608.6,697.7 609.2,699.2 609.8,700.6 610.4,701.8 611.0,702.8 611.6,703.7 612.2,704.5 612.9,705.2 613.5,705.8 614.1,706.3 614.7,706.7 615.3,707.1 615.9,707.4 616.6,707.7 617.2,707.9 617.8,708.1 618.4,708.3 619.0,708.5 619.7,708.6 620.3,708.7 620.9,708.8 621.5,708.9 622.1,709.0 622.8,709.1 623.4,709.2 624.0,709.2 624.6,709.3 625.2,709.3 625.9,709.4 626.5,709.4 627.1,709.4 627.7,709.5 628.4,709.5 629.0,709.5 629.6,709.5 630.2,709.5 630.9,709.5 631.5,709.5 632.1,709.5 632.7,709.5 633.4,709.5 634.0,709.5 634.6,709.5 635.3,709.4 635.9,709.4 636.5,709.4 637.1,709.3 637.8,709.3 638.4,709.2 639.0,709.2 639.7,709.1 640.3,709.0 640.9,709.0 641.6,708.9 642.2,708.8 642.8,708.7 643.5,708.5 644.1,708.4 644.7,708.2 645.4,708.1 646.0,707.8 646.6,707.6 647.3,707.3 647.9,707.0 648.5,706.6 649.2,706.1 649.8,705.5 650.5,704.9 651.1,704.1 651.7,703.1 652.4,702.0 653.0,700.6 653.6,699.0 654.3,697.2 654.9,695.0 655.6,692.6 656.2,689.8 656.8,686.7 657.5,683.2 658.1,679.4 658.8,675.3 659.4,670.9 660.1,666.3 660.7,661.5 661.3,656.6 662.0,651.8 662.6,647.2 663.3,642.8 663.9,639.0 664.6,635.9 665.2,633.6 665.9,632.3 666.5,632.0 667.2,632.6 667.8,633.9 668.4,635.8 669.1,638.3 669.7,641.4 670.4,644.7 671.0,648.4 671.7,652.3 672.3,656.2 673.0,660.2 673.6,664.2 674.3,668.0 674.9,671.8 675.6,675.3 676.2,678.7 676.9,681.8 677.6,684.7 678.2,687.4 678.9,689.9 679.5,692.1 680.2,694.0 680.8,695.8 681.5,697.3 682.1,698.7 682.8,699.9 683.4,700.9 684.1,701.8 684.8,702.6 685.4,703.3 686.1,703.9 686.7,704.4 687.4,704.8 688.1,705.2 688.7,705.5 689.4,705.8 690.0,706.0 690.7,706.2 691.4,706.4 692.0,706.6 692.7,706.8 693.3,706.9 694.0,707.1 694.7,707.2 695.3,707.3 696.0,707.4 696.7,707.5 697.3,707.6 698.0,707.7 698.6,707.8 699.3,707.9 700.0,708.0 700.6,708.1 701.3,708.2 702.0,708.2 702.6,708.3 703.3,708.4 704.0,708.5 704.7,708.5 705.3,708.6 706.0,708.7 706.7,708.7 707.3,708.8 708.0,708.9 708.7,708.9 709.3,709.0 710.0,709.0 710.7,709.1 711.4,709.2 712.0,709.2 712.7,709.3 713.4,709.3 714.1,709.4 714.7,709.4 715.4,709.5 716.1,709.5 716.8,709.6 717.4,709.7 718.1,709.7 718.8,709.8 719.5,709.8 720.1,709.9 720.8,709.9 721.5,710.0 722.2,710.0 722.9,710.1 723.5,710.1 724.2,710.2 724.9,710.2 725.6,710.3 726.3,710.3 726.9,710.4 727.6,710.4 728.3,710.5 729.0,710.5 729.7,710.5 730.3,710.6 731.0,710.6 731.7,710.7 732.4,710.7 733.1,710.8 733.8,710.8 734.5,710.9 735.1,710.9 735.8,710.9 736.5,711.0 737.2,711.0 737.9,711.1 738.6,711.1 739.3,711.1 740.0,711.2 740.6,711.2 741.3,711.3 742.0,711.3 742.7,711.3 743.4,711.4 744.1,711.4 744.8,711.5 745.5,711.5 746.2,711.6 746.9,711.6 747.6,711.6 748.3,711.7 748.9,711.7 749.6,711.8 750.3,711.8 751.0,711.9 751.7,711.9 752.4,712.0 753.1,712.0 753.8,712.1 754.5,712.1 755.2,712.2 755.9,712.2 756.6,712.2 757.3,712.3 758.0,712.3 758.7,712.4 759.4,712.4 760.1,712.5 760.8,712.6 761.5,712.6 762.2,712.7 762.9,712.7 763.6,712.8 764.3,712.8 765.0,712.9 765.7,712.9 766.4,713.0 767.1,713.0 767.8,713.1 768.5,713.1 769.3,713.2 770.0,713.2 770.7,713.3 771.4,713.3 772.1,713.4 772.8,713.5 773.5,713.5 774.2,713.6 774.9,713.6 775.6,713.7 776.3,713.7 777.0,713.8 777.8,713.8 778.5,713.9 779.2,713.9 779.9,714.0 780.6,714.1 781.3,714.1 782.0,714.2 782.7,714.2 783.5,714.3 784.2,714.3 784.9,714.4 785.6,714.4 786.3,714.5 787.0,714.5 787.8,714.6 788.5,714.6 789.2,714.7 789.9,714.7 790.6,714.8 791.3,714.9 792.1,714.9 792.8,715.0 793.5,715.0 794.2,715.1 794.9,715.1 795.7,715.2 796.4,715.2 797.1,715.3 797.8,715.3 798.6,715.4 799.3,715.4 800.0,715.5 800.7,715.5 801.4,715.6 802.2,715.6 802.9,715.6 803.6,715.7 804.3,715.7 805.1,715.8 805.8,715.8 806.5,715.9 807.3,715.9 808.0,716.0 808.7,716.0 809.4,716.0 810.2,716.1 810.9,716.1 811.6,716.2 812.4,716.2 813.1,716.2 813.8,716.3 814.6,716.3 815.3,716.3 816.0,716.4 816.8,716.4 817.5,716.4 818.2,716.5 819.0,716.5 819.7,716.5 820.4,716.6 821.2,716.6 821.9,716.6 822.6,716.7 823.4,716.7 824.1,716.7 824.9,716.7 825.6,716.8 826.3,716.8 827.1,716.8 827.8,716.8 828.5,716.8 829.3,716.9 830.0,716.9 830.8,716.9 831.5,716.9 832.3,716.9 833.0,716.9 833.7,717.0 834.5,717.0 835.2,717.0 836.0,717.0 836.7,717.0 837.5,717.0 838.2,717.1 839.0,717.1 839.7,717.1 840.4,717.1 841.2,717.1 841.9,717.1 842.7,717.1 843.4,717.2 844.2,717.2 844.9,717.2 845.7,717.2 846.4,717.2 847.2,717.2 847.9,717.2 848.7,717.3 849.4,717.3 850.2,717.3 851.0,717.3 851.7,717.3 852.5,717.3 853.2,717.3 854.0,717.4 854.7,717.4 855.5,717.4 856.2,717.4 857.0,717.4 857.8,717.4 858.5,717.4 859.3,717.5 860.0,717.5 860.8,717.5 861.5,717.5 862.3,717.5 863.1,717.5 863.8,717.5 864.6,717.5 865.3,717.6 866.1,717.6 866.9,717.6 867.6,717.6 868.4,717.6 869.2,717.6 869.9,717.6 870.7,717.6 871.5,717.7 872.2,717.7 873.0,717.7 873.8,717.7 874.5,717.7 875.3,717.7 876.1,717.7 876.8,717.7 877.6,717.7 878.4,717.8 879.1,717.8 879.9,717.8 880.7,717.8 881.4,717.8 882.2,717.8 883.0,717.8 883.8,717.8 884.5,717.8 885.3,717.9 886.1,717.9 886.8,717.9 887.6,717.9 888.4,717.9 889.2,717.9 889.9,717.9 890.7,717.9 891.5,717.9 892.3,717.9 893.1,718.0 893.8,718.0 894.6,718.0 895.4,718.0 896.2,718.0 896.9,718.0 897.7,718.0 898.5,718.0 899.3,718.0 900.1,718.0 900.9,718.1 901.6,718.1 902.4,718.1 903.2,718.1 904.0,718.1 904.8,718.1 905.6,718.1 906.3,718.1 907.1,718.1 907.9,718.1 908.7,718.1 909.5,718.2 910.3,718.2 911.1,718.2 911.8,718.2 912.6,718.2 913.4,718.2 914.2,718.2 915.0,718.2 915.8,718.2 916.6,718.2 917.4,718.2 918.2,718.3 919.0,718.3 919.8,718.3 920.5,718.3 921.3,718.3 922.1,718.3 922.9,718.3 923.7,718.3 924.5,718.3 925.3,718.3 926.1,718.3 926.9,718.3 927.7,718.4 928.5,718.4 929.3,718.4 930.1,718.4 930.9,718.4 931.7,718.4 932.5,718.4 933.3,718.4 934.1,718.4 934.9,718.4 935.7,718.4 936.5,718.4 937.3,718.4 938.1,718.5 938.9,718.5 939.7,718.5 940.5,718.5 941.3,718.5 942.1,718.5 942.9,718.5 943.8,718.5 944.6,718.5 945.4,718.5 946.2,718.5 947.0,718.5 947.8,718.5 948.6,718.5 949.4,718.6 950.2,718.6 951.0,718.6 951.8,718.6 952.7,718.6 953.5,718.6 954.3,718.6 955.1,718.6 955.9,718.6 956.7,718.6 957.5,718.6 958.4,718.6 959.2,718.6 960.0,718.6 960.8,718.6 961.6,718.7 962.4,718.7 963.3,718.7 964.1,718.7 964.9,718.7 965.7,718.7 966.5,718.7 967.4,718.7 968.2,718.7 969.0,718.7 969.8,718.7 970.6,718.7 971.5,718.7 972.3,718.7 973.1,718.7 973.9,718.8 974.8,718.8 975.6,718.8 976.4,718.8 977.2,718.8 978.1,718.8 978.9,718.8 979.7,718.8 980.5,718.8 981.4,718.8 982.2,718.8 983.0,718.8 983.9,718.8 984.7,718.8 985.5,718.8 986.3,718.9 987.2,718.9 988.0,718.9 988.8,718.9 989.7,718.9 990.5,718.9 991.3,718.9 992.2,718.9 993.0,718.9 993.9,718.9 994.7,718.9 995.5,718.9 996.4,718.9 997.2,718.9 998.0,718.9 998.9,719.0 999.7,719.0 1000.6,719.0 1001.4,719.0 1002.2,719.0 1003.1,719.0 1003.9,719.0 1004.8,719.0 1005.6,719.0 1006.4,719.0 1007.3,719.0 1008.1,719.0 1009.0,719.0 1009.8,719.0 1010.7,719.1 1011.5,719.1 1012.4,719.1 1013.2,719.1 1014.1,719.1 1014.9,719.1 1015.7,719.1 1016.6,719.1 1017.4,719.1 1018.3,719.1 1019.1,719.1 1020.0,719.1 1020.8,719.1 1021.7,719.1 1022.6,719.1 1023.4,719.2 1024.3,719.2 1025.1,719.2 1026.0,719.2 1026.8,719.2 1027.7,719.2 1028.5,719.2 1029.4,719.2 1030.2,719.2 1031.1,719.2 1032.0,719.2 1032.8,719.2 1033.7,719.2 1034.5,719.2 1035.4,719.3 1036.3,719.3 1037.1,719.3 1038.0,719.3 1038.8,719.3 1039.7,719.3 1040.6,719.3 1041.4,719.3 1042.3,719.3 1043.2,719.3 1044.0,719.3 1044.9,719.3 1045.8,719.3 1046.6,719.3 1047.5,719.4 1048.4,719.4 1049.2,719.4 1050.1,719.4 1051.0,719.4 1051.8,719.4 1052.7,719.4 1053.6,719.4 1054.4,719.4 1055.3,719.4 1056.2,719.4 1057.0,719.4 1057.9,719.4 1058.8,719.4 1059.7,719.5 1060.5,719.5 1061.4,719.5 1062.3,719.5 1063.2,719.5 1064.0,719.5 1064.9,719.5 1065.8,719.5 1066.7,719.5 1067.6,719.5 1068.4,719.5 1069.3,719.5 1070.2,719.5 1071.1,719.5 1072.0,719.5 1072.8,719.6 1073.7,719.6 1074.6,719.6 1075.5,719.6 1076.4,719.6 1077.2,719.6 1078.1,719.6 1079.0,719.6 1079.9,719.6 1080.8,719.6 1081.7,719.6 1082.6,719.6 1083.5,719.6 1084.3,719.6 1085.2,719.6 1086.1,719.6 1087.0,719.7 1087.9,719.7 1088.8,719.7 1089.7,719.7 1090.6,719.7 1091.5,719.7 1092.4,719.7 1093.2,719.7 1094.1,719.7 1095.0,719.7 1095.9,719.7 1096.8,719.7 1097.7,719.7 1098.6,719.7 1099.5,719.7 1100.4,719.7 1101.3,719.7 1102.2,719.8 1103.1,719.8 1104.0,719.8 1104.9,719.8 1105.8,719.8 1106.7,719.8 1107.6,719.8 1108.5,719.8 1109.4,719.8 1110.3,719.8 1111.2,719.8 1112.1,719.8 1113.0,719.8 1113.9,719.8 1114.8,719.8 1115.7,719.8 1116.6,719.8 1117.6,719.8 1118.5,719.8 1119.4,719.8 1120.3,719.9 1121.2,719.9 1122.1,719.9 1123.0,719.9 1123.9,719.9 1124.8,719.9 1125.7,719.9 1126.7,719.9 1127.6,719.9 1128.5,719.9 1129.4,719.9 1130.3,719.9 1131.2,719.9 1132.1,719.9 1133.1,719.9 1134.0,719.9 1134.9,719.9 1135.8,719.9 1136.7,719.9 1137.6,719.9 1138.6,719.9 1139.5,719.9 1140.4,719.9 1141.3,719.9 1142.2,719.9 1143.2,719.9 1144.1,719.9 1145.0,719.9 1145.9,719.9 1146.9,720.0 1147.8,720.0 1148.7,720.0 1149.6,720.0 1150.6,720.0 1151.5,720.0 1152.4,720.0 1153.3,720.0 1154.3,720.0 1155.2,720.0 1156.1,720.0 1157.1,720.0 1158.0,720.0 1158.9,720.0 1159.9,720.0 1160.8,720.0 1161.7,720.0 1162.7,720.0 1163.6,720.0 1164.5,720.0 1165.5,720.0 1166.4,720.0 1167.3,720.0 1168.3,720.0 1169.2,720.0 1170.1,720.0 1171.1,720.0 1172.0,720.0 1173.0,720.0 1173.9,720.0 1174.8,720.0 1175.8,720.0 1176.7,720.0 1177.7,719.9 1178.6,719.9 1179.5,719.9 1180.5,719.9 1181.4,719.9 1182.4,719.9 1183.3,719.9 1184.3,719.9 1185.2,719.9 1186.2,719.8 1187.1,719.8 1188.1,719.8 1189.0,719.8 1189.9,719.8 1190.9,719.7 1191.8,719.7 1192.8,719.7 1193.7,719.7 1194.7,719.6 1195.7,719.6 1196.6,719.6 1197.6,719.6 1198.5,719.5 1199.5,719.5 1200.4,719.5 1201.4,719.5 1202.3,719.4 1203.3,719.4 1204.2,719.4 1205.2,719.3 1206.2,719.3 1207.1,719.3 1208.1,719.2 1209.0,719.2 1210.0,719.2 1211.0,719.1 1211.9,719.1 1212.9,719.1 1213.9,719.0 1214.8,719.0 1215.8,718.9 1216.7,718.9 1217.7,718.9 1218.7,718.8 1219.6,718.8 1220.6,718.7 1221.6,718.7 1222.5,718.7 1223.5,718.6 1224.5,718.6 1225.4,718.5 1226.4,718.5 1227.4,718.4 1228.4,718.4 1229.3,718.3 1230.3,718.3 1231.3,718.3 1232.2,718.2 1233.2,718.2 1234.2,718.1 1235.2,718.1 1236.1,718.0 1237.1,718.0 1238.1,717.9 1239.1,717.9 1240.1,717.8 1241.0,717.8 1242.0,717.7 1243.0,717.7 1244.0,717.6 1245.0,717.6 1245.9,717.5 1246.9,717.5 1247.9,717.4 1248.9,717.4 1249.9,717.3 1250.9,717.3 1251.8,717.2 1252.8,717.2 1253.8,717.1 1254.8,717.1 1255.8,717.0 1256.8,717.0 1257.8,716.9 1258.7,716.9 1259.7,716.8 1260.7,716.8 1261.7,716.7 1262.7,716.7 1263.7,716.6 1264.7,716.6 1265.7,716.5 1266.7,716.5 1267.7,716.4 1268.7,716.4 1269.7,716.3 1270.7,716.3 1271.6,716.2 1272.6,716.2 1273.6,716.1 1274.6,716.1 1275.6,716.0 1276.6,716.0 1277.6,715.9 1278.6,715.9 1279.6,715.8 1280.6,715.8 1281.6,715.7 1282.6,715.7 1283.6,715.7 1284.7,715.6 1285.7,715.6 1286.7,715.5 1287.7,715.5 1288.7,715.4 1289.7,715.4 1290.7,715.4 1291.7,715.3 1292.7,715.3 1293.7,715.2 1294.7,715.2 1295.7,715.1 1296.7,715.1 1297.8,715.1 1298.8,715.0 1299.8,715.0 1300.8,715.0 1301.8,714.9 1302.8,714.9 1303.8,714.8 1304.8,714.8 1305.9,714.8 1306.9,714.7 1307.9,714.7 1308.9,714.6 1309.9,714.6 1310.9,714.6 1312.0,714.5 1313.0,714.5 1314.0,714.4 1315.0,714.4 1316.1,714.3 1317.1,714.3 1318.1,714.2 1319.1,714.2 1320.1,714.1 1321.2,714.1 1322.2,714.1 1323.2,714.0 1324.2,714.0 1325.3,713.9 1326.3,713.9 1327.3,713.8 1328.4,713.8 1329.4,713.7 1330.4,713.7 1331.5,713.6 1332.5,713.6 1333.5,713.5 1334.5,713.5 1335.6,713.4 1336.6,713.4 1337.6,713.4 1338.7,713.3 1339.7,713.3 1340.8,713.2 1341.8,713.2 1342.8,713.1 1343.9,713.1 1344.9,713.0 1345.9,713.0 1347.0,712.9 1348.0,712.9 1349.1,712.9 1350.1,712.8 1351.1,712.8 1352.2,712.7 1353.2,712.7 1354.3,712.7 1355.3,712.6 1356.4,712.6 1357.4,712.6 1358.5,712.5 1359.5,712.5 1360.6,712.5 1361.6,712.4 1362.6,712.4 1363.7,712.4 1364.7,712.3 1365.8,712.3 1366.9,712.3 1367.9,712.2 1369.0,712.2 1370.0,712.2 1371.1,712.2 1372.1,712.1 1373.2,712.1 1374.2,712.1 1375.3,712.1 1376.3,712.1 1377.4,712.1 1378.5,712.0 1379.5,712.0 1380.6,712.0 1381.6,712.0 1382.7,712.0 1383.8,712.0 1384.8,712.0 1385.9,712.0 1386.9,711.9 1388.0,711.9 1389.1,711.9 1390.1,711.9 1391.2,711.8 1392.3,711.7 1393.3,711.6 1394.4,711.5 1395.5,711.3 1396.5,711.1 1397.6,710.8 1398.7,710.4 1399.7,709.9 1400.8,709.3 1401.9,708.5 1403.0,707.5 1404.0,706.4 1405.1,705.0 1406.2,703.3 1407.2,701.4 1408.3,699.1 1409.4,696.5 1410.5,693.5 1411.6,690.1 1412.6,686.3 1413.7,682.2 1414.8,677.6 1415.9,672.6 1416.9,667.2 1418.0,661.5 1419.1,655.5 1420.2,649.3 1421.3,642.8 1422.4,636.2 1423.4,629.6 1424.5,623.0 1425.6,616.5 1426.7,610.1 1427.8,604.0 1428.9,598.2 1430.0,592.7 1431.0,587.7 1432.1,583.1 1433.2,579.1 1434.3,575.6 1435.4,572.6 1436.5,570.1 1437.6,568.2 1438.7,566.8 1439.8,565.8 1440.9,565.3 1442.0,565.0 1443.1,565.0 1444.2,565.4 1445.2,566.6 1446.3,568.4 1447.4,570.9 1448.5,574.0 1449.6,577.7 1450.7,581.8 1451.8,586.3 1452.9,591.1 1454.0,596.2 1455.1,601.5 1456.2,606.9 1457.3,612.4 1458.5,617.9 1459.6,623.4 1460.7,628.8 1461.8,634.2 1462.9,639.4 1464.0,644.4 1465.1,649.3 1466.2,653.9 1467.3,658.4 1468.4,662.6 1469.5,666.6 1470.6,670.4 1471.8,673.9 1472.9,677.2 1474.0,680.3 1475.1,683.1 1476.2,685.7 1477.3,688.2 1478.4,690.4 1479.6,692.4 1480.7,694.3 1481.8,696.0 1482.9,697.5 1484.0,698.9 1485.1,700.2 1486.3,701.3 1487.4,702.4 1488.5,703.3 1489.6,704.1 1490.7,704.9 1491.9,705.6 1493.0,706.2 1494.1,706.8 1495.2,707.4 1496.4,707.8 1497.5,708.3 1498.6,708.7 1499.8,709.1 1500.9,709.5 1502.0,709.8 1503.1,710.2 1504.3,710.5 1505.4,710.8 1506.5,711.2 1507.7,711.5 1508.8,711.8 1509.9,712.1 1511.1,712.4 1512.2,712.7 1513.3,713.0 1514.5,713.3 1515.6,713.6 1516.8,713.8 1517.9,714.1 1519.0,714.4 1520.2,714.6 1521.3,714.8 1522.4,715.0 1523.6,715.2 1524.7,715.4 1525.9,715.6 1527.0,715.7 1528.2,715.9 1529.3,716.0 1530.5,716.1 1531.6,716.1 1532.7,716.2 1533.9,716.3 1535.0,716.4 1536.2,716.4 1537.3,716.5 1538.5,716.6 1539.6,716.6 1540.8,716.7 1541.9,716.7 1543.1,716.8 1544.3,716.9 1545.4,716.9 1546.6,717.0 1547.7,717.0 1548.9,717.1 1550.0,717.1 1551.2,717.2 1552.3,717.2 1553.5,717.3 1554.7,717.3 1555.8,717.3 1557.0,717.4 1558.2,717.4 1559.3,717.5 1560.5,717.5 1561.6,717.5 1562.8,717.6 1564.0,717.6 1565.1,717.6 1566.3,717.7 1567.5,717.7 1568.6,717.7 1569.8,717.8 1571.0,717.8 1572.1,717.8 1573.3,717.9 1574.5,717.9 1575.7,717.9 1576.8,717.9 1578.0,718.0 1579.2,718.0 1580.3,718.0 1581.5,718.0 1582.7,718.1 1583.9,718.1 1585.1,718.1 1586.2,718.1 1587.4,718.2 1588.6,718.2 1589.8,718.2 1591.0,718.2 1592.1,718.2 1593.3,718.3 1594.5,718.3 1595.7,718.3 1596.9,718.3 1598.0,718.3 1599.2,718.3 1600.4,718.4 1601.6,718.4 1602.8,718.4 1604.0,718.4 1605.2,718.4 1606.4,718.4 1607.6,718.5 1608.7,718.5 1609.9,718.5 1611.1,718.5 1612.3,718.5 1613.5,718.5 1614.7,718.5 1615.9,718.6 1617.1,718.6 1618.3,718.6 1619.5,718.6 1620.7,718.6 1621.9,718.6 1623.1,718.6 1624.3,718.6 1625.5,718.7 1626.7,718.7 1627.9,718.7 1629.1,718.7 1630.3,718.7 1631.5,718.7 1632.7,718.7 1633.9,718.7 1635.1,718.7 1636.3,718.7 1637.5,718.8 1638.7,718.8 1639.9,718.8 1641.2,718.8 1642.4,718.8 1643.6,718.8 1644.8,718.8 1646.0,718.8 1647.2,718.8 1648.4,718.8 1649.6,718.8 1650.9,718.8 1652.1,718.8 1653.3,718.9 1654.5,718.9 1655.7,718.9 1656.9,718.9 1658.2,718.9 1659.4,718.9 1660.6,718.9 1661.8,718.9 1663.0,718.9 1664.3,718.9 1665.5,718.9 1666.7,718.9 1667.9,718.9 1669.2,718.9 1670.4,718.9 1671.6,718.9 1672.9,718.9 1674.1,719.0 1675.3,719.0 1676.5,719.0 1677.8,719.0 1679.0,719.0 1680.2,719.0 1681.5,719.0 1682.7,719.0 1683.9,719.0 1685.2,719.0 1686.4,719.0 1687.6,718.9 1688.9,718.9 1690.1,718.9 1691.4,718.9 1692.6,718.9 1693.8,718.9 1695.1,718.9 1696.3,718.9 1697.6,718.8 1698.8,718.8 1700.0,718.8 1701.3,718.8 1702.5,718.7 1703.8,718.7 1705.0,718.7 1706.3,718.7 1707.5,718.6 1708.8,718.6 1710.0,718.6 1711.3,718.5 1712.5,718.5 1713.8,718.5 1715.0,718.4 1716.3,718.4 1717.5,718.4 1718.8,718.3 1720.0,718.3 1721.3,718.2 1722.6,718.2 1723.8,718.2 1725.1,718.1 1726.3,718.1 1727.6,718.0 1728.8,718.0 1730.1,718.0 1731.4,717.9 1732.6,717.9 1733.9,717.8 1735.2,717.8 1736.4,717.8 1737.7,717.7 1739.0,717.7 1740.2,717.6 1741.5,717.6 1742.8,717.5 1744.0,717.5 1745.3,717.4 1746.6,717.4 1747.8,717.4 1749.1,717.3 1750.4,717.3 1751.7,717.2 1752.9,717.2 1754.2,717.1 1755.5,717.1 1756.8,717.1 1758.0,717.0 1759.3,717.0 1760.6,716.9 1761.9,716.9 1763.2,716.9 1764.4,716.8 1765.7,716.8 1767.0,716.8 1768.3,716.7 1769.6,716.7 1770.8,716.6 1772.1,716.6 1773.4,716.6 1774.7,716.6 1776.0,716.5 1777.3,716.5 1778.6,716.5 1779.9,716.4 1781.2,716.4 1782.4,716.4 1783.7,716.4 1785.0,716.3 1786.3,716.3 1787.6,716.3 1788.9,716.3 1790.2,716.3 1791.5,716.3 1792.8,716.2 1794.1,716.2 1795.4,716.2 1796.7,716.2 1798.0,716.2 1799.3,716.2 1800.6,716.2 1801.9,716.2 1803.2,716.2 1804.5,716.2 1805.8,716.3 1807.1,716.3 1808.4,716.3 1809.7,716.4 1811.0,716.4 1812.3,716.5 1813.7,716.6 1815.0,716.6 1816.3,716.7 1817.6,716.8 1818.9,716.9 1820.2,717.0 1821.5,717.1 1822.8,717.2 1824.2,717.3 1825.5,717.4 1826.8,717.6 1828.1,717.7 1829.4,717.8 1830.7,717.9 1832.1,718.1 1833.4,718.2 1834.7,718.3 1836.0,718.5 1837.4,718.6 1838.7,718.8 1840.0,718.9 1841.3,719.0 1842.7,719.2 1844.0,719.3 1845.3,719.5 1846.6,719.6 1848.0,719.7 1849.3,719.9 1850.6,720.0 1852.0,720.1 1853.3,720.3 1854.6,720.4 1856.0,720.5 1857.3,720.6 1858.6,720.7 1860.0,720.9 1861.3,721.0 1862.6,721.1 1864.0,721.2 1865.3,721.3 1866.7,721.3 1868.0,721.4 1869.3,721.5 1870.7,721.6 1872.0,721.7 1873.4,721.8 1874.7,721.9 1876.1,722.0 1877.4,722.1 1878.7,722.2 1880.1,722.3 1881.4,722.3 1882.8,722.4 1884.1,722.5 1885.5,722.6 1886.8,722.7 1888.2,722.8 1889.5,722.9 1890.9,723.0 1892.3,723.0 1893.6,723.1 1895.0,723.2 1896.3,723.3 1897.7,723.4 1899.0,723.5 1900.4,723.6 1901.8,723.7 1903.1,723.7 1904.5,723.8 1905.8,723.9 1907.2,724.0 1908.6,724.1 1909.9,724.2 1911.3,724.2 1912.7,724.3 1914.0,724.4 1915.4,724.5 1916.8,724.6 1918.1,724.7 1919.5,724.7 1920.9,724.8 1922.3,724.9 1923.6,725.0 1925.0,725.1 1926.4,725.1 1927.8,725.2 1929.1,725.3 1930.5,725.4 1931.9,725.5 1933.3,725.5 1934.6,725.6 1936.0,725.7 1937.4,725.8 1938.8,725.8 1940.2,725.9 1941.5,726.0 1942.9,726.1 1944.3,726.1 1945.7,726.2 1947.1,726.3 1948.5,726.4 1949.9,726.4 1951.3,726.5 1952.6,726.6 1954.0,726.6 1955.4,726.7 1956.8,726.8 1958.2,726.8 1959.6,726.9 1961.0,727.0 1962.4,727.1 1963.8,727.1 1965.2,727.2 1966.6,727.3 1968.0,727.3"/>
<polyline fill="none" stroke="#00f" stroke-width="5" stroke-linejoin="round" clip-path="url(#cp)" points="152.5,1013.0 152.8,1010.8 153.2,1012.8 153.6,1013.3 153.9,1013.6 154.3,1013.0 154.6,1010.1 155.0,1006.7 155.3,1010.6 155.7,1007.2 156.0,1012.6 156.4,1012.5 156.7,1008.6 157.1,1015.4 157.4,1016.6 157.8,1015.3 158.1,1019.7 158.5,1020.3 158.8,1012.3 159.2,1017.8 159.5,1016.1 159.9,1015.9 160.2,1017.3 160.6,1013.3 161.0,1013.9 161.3,1013.6 161.7,1014.2 162.0,1016.4 162.4,1013.3 162.7,1014.5 163.1,1018.5 163.4,1016.4 163.8,1017.3 164.2,1011.5 164.5,1014.7 164.9,1015.7 165.2,1017.5 165.6,1016.0 165.9,1019.6 166.3,1016.3 166.7,1015.7 167.0,1014.9 167.4,1016.2 167.7,1013.1 168.1,1017.6 168.4,1016.7 168.8,1016.4 169.2,1016.1 169.5,1016.8 169.9,1017.5 170.2,1017.1 170.6,1016.1 171.0,1018.5 171.3,1018.1 171.7,1022.4 172.0,1020.0 172.4,1015.3 172.8,1024.7 173.1,1022.3 173.5,1019.8 173.8,1022.9 174.2,1021.6 174.6,1029.5 174.9,1025.5 175.3,1020.2 175.7,1025.9 176.0,1023.8 176.4,1030.1 176.8,1022.3 177.1,1018.2 177.5,1022.6 177.8,1019.4 178.2,1016.8 178.6,1009.6 178.9,1013.1 179.3,1012.8 179.7,999.9 180.0,1004.4 180.4,997.2 180.8,1003.0 181.1,997.8 181.5,996.8 181.9,1000.9 182.2,1000.0 182.6,997.3 183.0,1000.8 183.3,998.1 183.7,995.6 184.1,1006.4 184.4,1001.3 184.8,1001.5 185.2,1004.5 185.5,1000.2 185.9,1001.3 186.3,1004.2 186.7,1005.2 187.0,1008.0 187.4,1012.1 187.8,1009.2 188.1,1012.3 188.5,1012.7 188.9,1008.0 189.2,1011.0 189.6,1007.9 190.0,1013.6 190.4,1013.0 190.7,1013.1 191.1,1011.1 191.5,1016.4 191.8,1015.8 192.2,1021.3 192.6,1020.8 193.0,1020.7 193.3,1027.0 193.7,1028.3 194.1,1026.5 194.5,1032.1 194.8,1029.1 195.2,1029.9 195.6,1031.9 196.0,1030.4 196.3,1031.6 196.7,1032.2 197.1,1036.3 197.5,1036.2 197.8,1032.0 198.2,1037.2 198.6,1032.8 199.0,1033.1 199.3,1033.0 199.7,1029.8 200.1,1033.6 200.5,1026.6 200.8,1021.6 201.2,1026.8 201.6,1021.2 202.0,1020.6 202.4,1013.2 202.7,1023.0 203.1,1022.1 203.5,1021.4 203.9,1021.1 204.3,1022.0 204.6,1016.3 205.0,1017.6 205.4,1012.5 205.8,1013.2 206.2,1017.1 206.5,1015.5 206.9,1011.0 207.3,1015.1 207.7,1013.1 208.1,1010.9 208.4,1013.6 208.8,1011.3 209.2,1008.6 209.6,1010.3 210.0,1018.1 210.4,1009.6 210.7,1013.9 211.1,1014.8 211.5,1014.8 211.9,1010.2 212.3,1012.9 212.7,1014.6 213.0,1016.8 213.4,1013.3 213.8,1011.7 214.2,1016.7 214.6,1016.4 215.0,1014.4 215.4,1012.4 215.7,1015.7 216.1,1015.6 216.5,1017.9 216.9,1012.8 217.3,1016.3 217.7,1015.3 218.1,1012.4 218.4,1015.5 218.8,1015.0 219.2,1014.3 219.6,1017.1 220.0,1012.9 220.4,1016.1 220.8,1016.0 221.2,1014.0 221.6,1014.8 221.9,1008.3 222.3,1007.3 222.7,1011.5 223.1,1011.6 223.5,1015.4 223.9,1011.4 224.3,1007.9 224.7,1012.7 225.1,1008.6 225.5,1006.6 225.9,1016.5 226.2,1010.0 226.6,1010.8 227.0,1010.7 227.4,1014.5 227.8,1011.3 228.2,1014.2 228.6,1008.3 229.0,1006.8 229.4,1013.5 229.8,1013.5 230.2,1011.4 230.6,1011.5 231.0,1012.4 231.4,1011.3 231.8,1017.8 232.2,1015.7 232.6,1014.9 233.0,1013.9 233.3,1014.8 233.7,1012.7 234.1,1013.0 234.5,1008.3 234.9,1013.2 235.3,1018.0 235.7,1011.2 236.1,1011.9 236.5,1013.6 236.9,1012.1 237.3,1009.3 237.7,1002.0 238.1,1006.8 238.5,1003.1 238.9,1005.5 239.3,1010.5 239.7,1009.3 240.1,1012.5 240.5,1018.9 240.9,1013.1 241.3,1013.2 241.7,1009.0 242.1,1009.5 242.5,1008.2 242.9,1009.2 243.3,1007.0 243.7,1007.0 244.1,1007.1 244.5,1004.2 244.9,1002.4 245.3,1001.9 245.7,1006.1 246.2,1004.9 246.6,1007.9 247.0,1009.1 247.4,1006.9 247.8,1010.6 248.2,1005.8 248.6,1015.6 249.0,1013.1 249.4,1010.2 249.8,1009.2 250.2,1015.0 250.6,1011.1 251.0,1015.7 251.4,1021.5 251.8,1021.6 252.2,1021.6 252.6,1026.1 253.1,1021.0 253.5,1023.7 253.9,1020.7 254.3,1018.9 254.7,1022.1 255.1,1018.6 255.5,1026.2 255.9,1019.3 256.3,1024.7 256.7,1015.1 257.1,1017.9 257.6,1012.0 258.0,1011.0 258.4,1014.4 258.8,1015.2 259.2,1009.3 259.6,1014.5 260.0,1008.5 260.4,1010.4 260.8,1010.7 261.3,1010.7 261.7,1003.5 262.1,1011.3 262.5,1007.9 262.9,1005.1 263.3,1003.4 263.7,1001.4 264.1,1001.8 264.6,1006.0 265.0,1003.0 265.4,1000.6 265.8,1002.2 266.2,1008.2 266.6,1004.1 267.1,1004.2 267.5,1009.6 267.9,1007.3 268.3,1005.7 268.7,1003.4 269.1,1000.5 269.6,1001.5 270.0,1003.7 270.4,1004.8 270.8,1006.4 271.2,1006.2 271.6,1004.3 272.1,1003.3 272.5,999.5 272.9,996.5 273.3,1001.3 273.7,1001.2 274.2,1003.2 274.6,1005.3 275.0,1003.6 275.4,1004.1 275.8,1006.3 276.3,1005.9 276.7,1002.6 277.1,1004.5 277.5,1002.3 277.9,1000.6 278.4,1003.6 278.8,1008.1 279.2,1000.7 279.6,1004.8 280.1,1005.2 280.5,1005.8 280.9,1000.2 281.3,1007.8 281.8,1003.0 282.2,1002.1 282.6,1002.4 283.0,1005.0 283.5,1004.2 283.9,1004.2 284.3,1007.9 284.7,1001.8 285.2,999.4 285.6,1002.5 286.0,1001.2 286.4,1002.0 286.9,996.9 287.3,1003.2 287.7,1002.1 288.2,1005.2 288.6,997.3 289.0,1001.6 289.4,1001.4 289.9,999.1 290.3,1001.8 290.7,1006.0 291.2,1000.8 291.6,999.1 292.0,1002.7 292.4,1003.0 292.9,1003.4 293.3,999.7 293.7,1002.8 294.2,1006.9 294.6,1003.4 295.0,1003.3 295.5,1006.8 295.9,1007.9 296.3,999.9 296.8,995.3 297.2,997.6 297.6,998.6 298.1,1001.4 298.5,1004.2 298.9,1003.1 299.4,1002.0 299.8,1004.0 300.2,1000.8 300.7,1003.3 301.1,1002.3 301.5,1011.6 302.0,1007.3 302.4,1003.0 302.8,1002.2 303.3,1003.3 303.7,1000.2 304.2,1002.9 304.6,1003.5 305.0,1008.5 305.5,1005.9 305.9,1005.6 306.4,1004.2 306.8,1004.4 307.2,1007.3 307.7,1007.4 308.1,1011.5 308.5,1007.2 309.0,1011.1 309.4,1008.0 309.9,1006.3 310.3,1000.6 310.7,1002.6 311.2,1008.3 311.6,1010.5 312.1,1007.5 312.5,1008.6 313.0,1004.9 313.4,1004.3 313.8,1003.0 314.3,1006.7 314.7,1004.3 315.2,1001.8 315.6,1000.6 316.1,1001.9 316.5,1000.5 317.0,996.6 317.4,1002.1 317.8,996.9 318.3,994.8 318.7,997.4 319.2,995.7 319.6,992.8 320.1,994.9 320.5,991.6 321.0,994.0 321.4,991.8 321.9,1003.5 322.3,999.0 322.8,1010.0 323.2,1010.9 323.7,1015.9 324.1,1024.2 324.5,1033.3 325.0,1044.0 325.4,1057.9 325.9,1064.5 326.3,1073.1 326.8,1072.1 327.2,1073.2 327.7,1065.3 328.1,1055.1 328.6,1047.6 329.1,1040.6 329.5,1035.8 330.0,1032.2 330.4,1026.8 330.9,1024.1 331.3,1026.5 331.8,1019.2 332.2,1020.9 332.7,1025.5 333.1,1013.3 333.6,1017.0 334.0,1019.0 334.5,1011.4 334.9,1021.3 335.4,1007.7 335.9,1018.3 336.3,1018.7 336.8,1016.9 337.2,1013.6 337.7,1014.6 338.1,1010.6 338.6,1013.6 339.1,1006.9 339.5,1007.6 340.0,1010.1 340.4,1004.7 340.9,1006.8 341.3,1008.1 341.8,1003.6 342.3,1009.3 342.7,1006.5 343.2,1001.2 343.6,1004.5 344.1,1002.3 344.6,1002.3 345.0,1003.7 345.5,1001.0 345.9,1004.7 346.4,1000.4 346.9,1005.1 347.3,1003.0 347.8,1005.2 348.3,1000.8 348.7,1000.0 349.2,997.9 349.6,1002.7 350.1,1004.5 350.6,1008.3 351.0,1006.9 351.5,1005.1 352.0,1005.2 352.4,1008.2 352.9,1008.2 353.4,1012.1 353.8,1010.0 354.3,1004.2 354.8,1003.4 355.2,1008.0 355.7,1004.9 356.2,1003.5 356.6,1007.4 357.1,1003.5 357.6,1003.7 358.0,1002.8 358.5,998.2 359.0,1004.8 359.4,999.1 359.9,1000.9 360.4,1000.9 360.9,1005.1 361.3,1003.4 361.8,1004.0 362.3,1000.2 362.7,1005.3 363.2,1003.1 363.7,1009.4 364.1,1011.7 364.6,1013.1 365.1,1020.6 365.6,1018.3 366.0,1019.6 366.5,1019.2 367.0,1019.0 367.5,1022.6 367.9,1023.6 368.4,1018.0 368.9,1024.5 369.4,1023.5 369.8,1024.7 370.3,1023.3 370.8,1018.5 371.3,1018.2 371.7,1025.6 372.2,1021.4 372.7,1017.1 373.2,1021.3 373.6,1019.0 374.1,1014.6 374.6,1013.0 375.1,1014.4 375.6,1018.8 376.0,1017.5 376.5,1016.9 377.0,1018.4 377.5,1019.4 378.0,1012.0 378.4,1015.7 378.9,1013.0 379.4,1010.7 379.9,1011.2 380.4,1011.4 380.8,1010.5 381.3,1007.5 381.8,1010.7 382.3,1018.5 382.8,1012.1 383.2,1012.0 383.7,1018.2 384.2,1019.4 384.7,1018.6 385.2,1013.2 385.7,1017.3 386.2,1011.8 386.6,1011.0 387.1,1013.0 387.6,1015.0 388.1,1017.5 388.6,1017.4 389.1,1015.9 389.6,1018.6 390.0,1016.9 390.5,1019.4 391.0,1013.3 391.5,1012.2 392.0,1017.2 392.5,1010.5 393.0,1012.5 393.5,1012.8 393.9,1011.9 394.4,1012.0 394.9,1016.4 395.4,1005.7 395.9,1013.8 396.4,1017.0 396.9,1011.1 397.4,1011.5 397.9,1014.5 398.4,1018.4 398.8,1011.3 399.3,1014.5 399.8,1013.2 400.3,1014.6 400.8,1013.5 401.3,1015.6 401.8,1014.2 402.3,1016.8 402.8,1015.7 403.3,1015.5 403.8,1015.9 404.3,1014.7 404.8,1011.0 405.3,1017.3 405.8,1012.5 406.3,1009.0 406.8,1014.8 407.3,1009.0 407.8,1011.1 408.2,1008.8 408.7,1008.5 409.2,1007.2 409.7,1004.0 410.2,1004.3 410.7,1008.7 411.2,997.3 411.7,1003.2 412.2,1004.0 412.7,1000.1 413.2,999.5 413.7,1009.2 414.2,1003.7 414.7,1011.6 415.2,1009.4 415.7,1009.9 416.2,1012.2 416.7,1013.5 417.3,1015.5 417.8,1013.8 418.3,1013.1 418.8,1013.0 419.3,1016.2 419.8,1015.2 420.3,1011.2 420.8,1012.7 421.3,1015.6 421.8,1013.4 422.3,1014.3 422.8,1013.3 423.3,1015.7 423.8,1018.5 424.3,1021.4 424.8,1020.4 425.3,1026.8 425.8,1021.4 426.3,1029.2 426.9,1022.5 427.4,1020.0 427.9,1016.2 428.4,1009.2 428.9,1015.2 429.4,1015.1 429.9,1018.8 430.4,1009.8 430.9,1018.5 431.4,1013.6 432.0,1017.1 432.5,1009.5 433.0,1017.0 433.5,1016.0 434.0,1018.4 434.5,1016.4 435.0,1012.8 435.5,1018.0 436.1,1017.5 436.6,1017.5 437.1,1018.6 437.6,1018.7 438.1,1015.5 438.6,1011.8 439.1,1011.5 439.7,1018.8 440.2,1018.0 440.7,1018.0 441.2,1018.1 441.7,1020.3 442.2,1020.6 442.8,1019.6 443.3,1018.3 443.8,1025.3 444.3,1020.0 444.8,1017.8 445.3,1016.2 445.9,1018.1 446.4,1022.4 446.9,1022.8 447.4,1020.0 447.9,1019.7 448.5,1017.4 449.0,1014.3 449.5,1020.1 450.0,1017.7 450.5,1023.2 451.1,1014.4 451.6,1015.3 452.1,1017.2 452.6,1013.9 453.2,1010.6 453.7,1011.6 454.2,1014.3 454.7,1015.3 455.3,1015.1 455.8,1019.4 456.3,1020.9 456.8,1019.8 457.4,1018.4 457.9,1016.0 458.4,1016.1 458.9,1015.7 459.5,1012.9 460.0,1013.9 460.5,1012.1 461.0,1009.5 461.6,1010.9 462.1,1016.1 462.6,1015.8 463.2,1019.1 463.7,1015.1 464.2,1016.9 464.8,1017.9 465.3,1017.2 465.8,1014.2 466.3,1017.2 466.9,1020.1 467.4,1018.4 467.9,1022.3 468.5,1022.9 469.0,1017.9 469.5,1023.4 470.1,1016.6 470.6,1016.1 471.1,1015.4 471.7,1013.7 472.2,1016.3 472.7,1015.4 473.3,1020.2 473.8,1018.3 474.3,1018.9 474.9,1017.2 475.4,1013.9 476.0,1016.9 476.5,1014.5 477.0,1019.0 477.6,1016.6 478.1,1021.5 478.6,1019.6 479.2,1020.0 479.7,1018.1 480.3,1017.5 480.8,1018.0 481.3,1018.0 481.9,1013.0 482.4,1015.7 483.0,1021.3 483.5,1014.9 484.0,1015.4 484.6,1014.9 485.1,1012.8 485.7,1019.2 486.2,1015.5 486.7,1015.4 487.3,1018.7 487.8,1019.4 488.4,1009.5 488.9,1013.9 489.5,1012.7 490.0,1012.8 490.6,1014.3 491.1,1014.4 491.6,1019.4 492.2,1016.6 492.7,1014.8 493.3,1015.8 493.8,1013.8 494.4,1012.2 494.9,1011.9 495.5,1015.8 496.0,1012.9 496.6,1011.9 497.1,1010.7 497.7,1013.0 498.2,1011.9 498.8,1015.6 499.3,1016.5 499.9,1010.7 500.4,1016.1 501.0,1017.2 501.5,1015.0 502.1,1010.9 502.6,1015.8 503.2,1010.2 503.7,1008.8 504.3,1009.4 504.8,1012.3 505.4,1014.7 505.9,1014.5 506.5,1011.0 507.0,1006.7 507.6,1008.1 508.2,1007.8 508.7,1010.2 509.3,1006.5 509.8,1011.8 510.4,1013.8 510.9,1012.5 511.5,1014.9 512.1,1011.8 512.6,1010.2 513.2,1011.4 513.7,1014.9 514.3,1013.6 514.8,1009.1 515.4,1013.0 516.0,1008.5 516.5,1012.8 517.1,1009.4 517.6,1006.2 518.2,1008.8 518.8,1004.5 519.3,1004.5 519.9,1003.9 520.4,1009.0 521.0,1008.7 521.6,1009.2 522.1,1009.0 522.7,1014.6 523.3,1010.1 523.8,1009.2 524.4,1013.8 525.0,1013.8 525.5,1010.6 526.1,1005.4 526.7,1009.2 527.2,1013.5 527.8,1012.7 528.4,1017.0 528.9,1009.2 529.5,1014.5 530.1,1011.3 530.6,1016.9 531.2,1013.4 531.8,1016.1 532.3,1011.1 532.9,1008.4 533.5,1008.5 534.0,1009.0 534.6,1007.1 535.2,1012.4 535.8,1013.0 536.3,1011.1 536.9,1008.7 537.5,1011.9 538.0,1010.7 538.6,1016.5 539.2,1013.8 539.8,1014.8 540.3,1012.9 540.9,1008.7 541.5,1011.5 542.1,1009.9 542.6,1013.0 543.2,1011.6 543.8,1008.8 544.4,1009.7 544.9,1014.6 545.5,1007.7 546.1,1007.3 546.7,1008.6 547.2,1006.9 547.8,1007.2 548.4,1009.6 549.0,1012.8 549.6,1003.6 550.1,1008.2 550.7,1008.3 551.3,1007.9 551.9,1007.8 552.5,1008.1 553.0,1013.0 553.6,1010.8 554.2,1012.8 554.8,1013.3 555.4,1012.9 555.9,1011.1 556.5,1013.3 557.1,1010.2 557.7,1010.3 558.3,1009.6 558.9,1007.1 559.4,1007.7 560.0,1007.0 560.6,1009.9 561.2,1007.2 561.8,1006.1 562.4,1009.3 563.0,1009.6 563.6,1002.8 564.1,1011.4 564.7,1007.1 565.3,1007.4 565.9,1011.3 566.5,1009.2 567.1,1007.6 567.7,1014.9 568.3,1007.1 568.8,1013.2 569.4,1024.4 570.0,1034.3 570.6,1054.5 571.2,1067.3 571.8,1069.7 572.4,1043.4 573.0,1020.9 573.6,999.1 574.2,978.8 574.8,961.1 575.4,954.2 576.0,944.4 576.6,938.2 577.1,935.2 577.7,932.0 578.3,929.1 578.9,928.5 579.5,924.6 580.1,927.3 580.7,928.6 581.3,927.6 581.9,929.8 582.5,928.7 583.1,936.7 583.7,940.6 584.3,936.3 584.9,941.0 585.5,941.8 586.1,948.2 586.7,948.4 587.3,950.1 587.9,952.5 588.5,957.3 589.1,958.5 589.7,967.1 590.3,968.0 590.9,976.8 591.5,982.3 592.1,991.9 592.7,995.8 593.3,1005.0 593.9,1005.6 594.6,1014.7 595.2,1016.6 595.8,1020.9 596.4,1023.1 597.0,1027.8 597.6,1022.2 598.2,1030.2 598.8,1026.5 599.4,1034.0 600.0,1025.4 600.6,1027.6 601.2,1025.6 601.8,1034.8 602.4,1027.8 603.1,1032.3 603.7,1031.0 604.3,1027.3 604.9,1030.4 605.5,1032.0 606.1,1028.7 606.7,1030.6 607.3,1025.7 607.9,1025.2 608.6,1022.6 609.2,1023.3 609.8,1026.5 610.4,1021.7 611.0,1020.7 611.6,1018.0 612.2,1017.0 612.9,1022.7 613.5,1015.7 614.1,1016.6 614.7,1019.5 615.3,1019.3 615.9,1025.9 616.6,1013.5 617.2,1019.7 617.8,1019.3 618.4,1013.1 619.0,1013.6 619.7,1015.7 620.3,1017.9 620.9,1009.6 621.5,1006.7 622.1,1013.1 622.8,1014.6 623.4,1009.8 624.0,1005.1 624.6,1015.5 625.2,1010.6 625.9,1013.5 626.5,1009.2 627.1,1007.3 627.7,1007.0 628.4,1013.1 629.0,1014.4 629.6,1005.7 630.2,1009.9 630.9,1017.7 631.5,1011.8 632.1,1009.3 632.7,1013.9 633.4,1014.6 634.0,1015.5 634.6,1014.6 635.3,1014.7 635.9,1013.5 636.5,1015.2 637.1,1011.9 637.8,1013.6 638.4,1014.3 639.0,1018.3 639.7,1015.0 640.3,1012.9 640.9,1014.2 641.6,1013.5 642.2,1015.0 642.8,1013.2 643.5,1017.1 644.1,1016.8 644.7,1014.1 645.4,1013.9 646.0,1017.3 646.6,1015.3 647.3,1012.5 647.9,1008.1 648.5,1007.2 649.2,1013.9 649.8,1015.5 650.5,1015.7 651.1,1009.1 651.7,1014.5 652.4,1008.4 653.0,1010.0 653.6,1009.9 654.3,1007.2 654.9,1009.4 655.6,1006.9 656.2,1011.7 656.8,1009.6 657.5,1015.6 658.1,1013.1 658.8,1013.7 659.4,1009.6 660.1,1004.0 660.7,1004.0 661.3,999.2 662.0,999.6 662.6,996.2 663.3,990.0 663.9,991.2 664.6,990.4 665.2,989.0 665.9,992.4 666.5,994.8 667.2,988.4 667.8,988.1 668.4,982.5 669.1,989.5 669.7,989.9 670.4,986.5 671.0,995.7 671.7,998.6 672.3,996.9 673.0,1000.6 673.6,1001.7 674.3,1009.6 674.9,1005.1 675.6,1010.4 676.2,1018.5 676.9,1013.8 677.6,1015.9 678.2,1014.2 678.9,1010.5 679.5,1013.2 680.2,1014.0 680.8,1009.6 681.5,1014.0 682.1,1017.0 682.8,1016.3 683.4,1007.9 684.1,1009.7 684.8,1008.2 685.4,1017.5 686.1,1017.5 686.7,1019.1 687.4,1015.1 688.1,1014.5 688.7,1018.0 689.4,1017.7 690.0,1014.4 690.7,1017.4 691.4,1019.1 692.0,1017.9 692.7,1013.9 693.3,1010.1 694.0,1015.3 694.7,1016.3 695.3,1015.0 696.0,1014.7 696.7,1013.8 697.3,1017.6 698.0,1014.1 698.6,1013.7 699.3,1010.3 700.0,1012.5 700.6,1016.8 701.3,1014.7 702.0,1014.9 702.6,1018.5 703.3,1024.3 704.0,1022.4 704.7,1027.9 705.3,1024.4 706.0,1025.0 706.7,1022.2 707.3,1024.4 708.0,1029.5 708.7,1024.3 709.3,1023.9 710.0,1022.4 710.7,1019.4 711.4,1018.7 712.0,1020.5 712.7,1023.6 713.4,1024.1 714.1,1024.8 714.7,1023.7 715.4,1020.4 716.1,1021.8 716.8,1019.3 717.4,1024.8 718.1,1013.5 718.8,1018.3 719.5,1026.1 720.1,1017.4 720.8,1015.5 721.5,1019.7 722.2,1024.3 722.9,1019.8 723.5,1022.4 724.2,1020.4 724.9,1018.1 725.6,1028.7 726.3,1018.1 726.9,1016.1 727.6,1016.5 728.3,1019.7 729.0,1020.0 729.7,1021.5 730.3,1019.6 731.0,1014.4 731.7,1020.8 732.4,1017.5 733.1,1017.0 733.8,1012.5 734.5,1015.5 735.1,1015.7 735.8,1019.2 736.5,1016.0 737.2,1022.3 737.9,1023.5 738.6,1020.2 739.3,1022.7 740.0,1022.4 740.6,1028.2 741.3,1015.8 742.0,1021.7 742.7,1015.6 743.4,1018.2 744.1,1021.2 744.8,1015.1 745.5,1016.7 746.2,1012.8 746.9,1022.2 747.6,1019.7 748.3,1022.0 748.9,1015.1 749.6,1016.4 750.3,1023.4 751.0,1018.4 751.7,1017.9 752.4,1020.3 753.1,1015.6 753.8,1022.8 754.5,1019.5 755.2,1019.3 755.9,1013.2 756.6,1015.9 757.3,1011.6 758.0,1018.2 758.7,1020.0 759.4,1020.4 760.1,1019.7 760.8,1020.5 761.5,1009.1 762.2,1021.0 762.9,1017.0 763.6,1018.8 764.3,1018.8 765.0,1016.7 765.7,1021.1 766.4,1025.9 767.1,1028.2 767.8,1019.7 768.5,1016.7 769.3,1023.2 770.0,1014.1 770.7,1024.2 771.4,1017.4 772.1,1014.5 772.8,1021.4 773.5,1024.5 774.2,1014.5 774.9,1025.7 775.6,1019.5 776.3,1025.0 777.0,1016.7 777.8,1010.2 778.5,1015.5 779.2,1016.0 779.9,1020.4 780.6,1020.2 781.3,1017.9 782.0,1015.5 782.7,1014.9 783.5,1015.7 784.2,1013.5 784.9,1015.1 785.6,1006.6 786.3,1016.2 787.0,1015.5 787.8,1024.8 788.5,1018.2 789.2,1013.5 789.9,1017.3 790.6,1011.3 791.3,1014.2 792.1,1010.5 792.8,1023.5 793.5,1021.5 794.2,1015.8 794.9,1019.8 795.7,1023.0 796.4,1020.9 797.1,1020.4 797.8,1016.2 798.6,1017.1 799.3,1019.2 800.0,1021.2 800.7,1014.0 801.4,1012.9 802.2,1021.9 802.9,1015.7 803.6,1024.1 804.3,1021.4 805.1,1023.0 805.8,1024.4 806.5,1018.0 807.3,1016.0 808.0,1008.9 808.7,1010.3 809.4,1017.0 810.2,1022.4 810.9,1023.8 811.6,1028.4 812.4,1021.2 813.1,1020.0 813.8,1021.5 814.6,1016.4 815.3,1015.2 816.0,1011.2 816.8,1018.5 817.5,1010.8 818.2,1016.3 819.0,1008.7 819.7,1017.7 820.4,1010.2 821.2,1017.8 821.9,1009.4 822.6,1013.7 823.4,1019.4 824.1,1011.7 824.9,1014.6 825.6,1012.0 826.3,1004.3 827.1,1013.0 827.8,1013.1 828.5,1008.2 829.3,1016.1 830.0,1012.6 830.8,1012.6 831.5,1016.7 832.3,1014.5 833.0,1025.9 833.7,1011.6 834.5,1019.5 835.2,1020.0 836.0,1009.6 836.7,1012.1 837.5,1022.3 838.2,1018.9 839.0,1021.2 839.7,1022.3 840.4,1014.9 841.2,1011.1 841.9,1004.3 842.7,1015.5 843.4,1011.9 844.2,1016.9 844.9,1016.1 845.7,1008.7 846.4,1018.7 847.2,1014.8 847.9,1012.7 848.7,1004.0 849.4,1006.0 850.2,1004.6 851.0,1004.6 851.7,1001.9 852.5,1008.8 853.2,1010.0 854.0,1013.0 854.7,1011.8 855.5,1019.4 856.2,1015.2 857.0,1004.0 857.8,1012.0 858.5,1014.6 859.3,1018.5 860.0,1013.2 860.8,1012.1 861.5,1009.3 862.3,1013.6 863.1,1009.2 863.8,1008.8 864.6,1008.6 865.3,1014.2 866.1,1011.0 866.9,1007.5 867.6,1016.5 868.4,1011.0 869.2,1014.2 869.9,1013.3 870.7,1015.7 871.5,1014.5 872.2,1008.1 873.0,1010.2 873.8,1007.3 874.5,1020.3 875.3,1016.9 876.1,1021.5 876.8,1015.6 877.6,1009.6 878.4,1023.9 879.1,1018.3 879.9,1017.5 880.7,1015.6 881.4,1016.2 882.2,1014.8 883.0,1006.9 883.8,1018.8 884.5,1014.9 885.3,1017.1 886.1,1026.7 886.8,1024.1 887.6,1019.2 888.4,1012.7 889.2,1018.6 889.9,1017.0 890.7,1011.2 891.5,1003.8 892.3,1004.1 893.1,1002.3 893.8,1009.3 894.6,1013.9 895.4,1017.4 896.2,1013.3 896.9,1018.9 897.7,1020.8 898.5,1016.0 899.3,1016.0 900.1,1023.2 900.9,1014.3 901.6,1015.8 902.4,1009.9 903.2,1011.6 904.0,1005.3 904.8,1012.8 905.6,1018.1 906.3,1021.2 907.1,1016.7 907.9,1014.1 908.7,1012.2 909.5,1011.6 910.3,1015.7 911.1,1020.2 911.8,1014.8 912.6,1020.7 913.4,1012.4 914.2,1009.0 915.0,1011.9 915.8,1009.2 916.6,1009.6 917.4,1018.0 918.2,1010.8 919.0,1010.6 919.8,1012.9 920.5,1012.8 921.3,1006.1 922.1,1014.2 922.9,1011.4 923.7,1010.4 924.5,1012.2 925.3,1004.8 926.1,1008.2 926.9,1012.7 927.7,1017.8 928.5,1015.7 929.3,1017.2 930.1,1020.9 930.9,1021.5 931.7,1017.6 932.5,1018.6 933.3,1011.8 934.1,1012.9 934.9,1016.4 935.7,1014.4 936.5,1013.0 937.3,1020.3 938.1,1011.5 938.9,1007.5 939.7,1013.2 940.5,1019.6 941.3,1014.3 942.1,1021.0 942.9,1015.7 943.8,1015.9 944.6,1014.0 945.4,1014.1 946.2,1019.7 947.0,1006.2 947.8,1017.2 948.6,1007.2 949.4,1011.0 950.2,1015.4 951.0,1014.1 951.8,1012.2 952.7,1004.4 953.5,1013.1 954.3,1008.4 955.1,1023.6 955.9,1012.5 956.7,1014.1 957.5,1009.1 958.4,1013.1 959.2,1012.0 960.0,1023.1 960.8,1018.7 961.6,1020.9 962.4,1013.2 963.3,1011.0 964.1,1015.8 964.9,1005.4 965.7,1001.9 966.5,1011.7 967.4,1006.5 968.2,1010.3 969.0,1016.5 969.8,1010.3 970.6,1018.8 971.5,1014.6 972.3,1025.5 973.1,1026.1 973.9,1019.2 974.8,1020.0 975.6,1017.1 976.4,1021.1 977.2,1024.8 978.1,1014.2 978.9,1023.9 979.7,1014.7 980.5,1016.2 981.4,1011.3 982.2,1025.6 983.0,1015.1 983.9,1013.9 984.7,1008.6 985.5,1015.1 986.3,1002.2 987.2,1011.9 988.0,1022.1 988.8,1012.9 989.7,1016.1 990.5,1020.1 991.3,1014.5 992.2,1017.5 993.0,1020.2 993.9,1016.0 994.7,1016.1 995.5,1013.0 996.4,1016.4 997.2,1016.2 998.0,1022.6 998.9,1019.6 999.7,1015.3 1000.6,1005.8 1001.4,1018.7 1002.2,1018.6 1003.1,1011.4 1003.9,1006.9 1004.8,1010.3 1005.6,1018.5 1006.4,1009.8 1007.3,1012.2 1008.1,1015.2 1009.0,1019.4 1009.8,1013.8 1010.7,1012.6 1011.5,1009.6 1012.4,1017.2 1013.2,1013.4 1014.1,1007.7 1014.9,1002.3 1015.7,1005.9 1016.6,1013.1 1017.4,1008.8 1018.3,1016.7 1019.1,1015.6 1020.0,1016.7 1020.8,1019.3 1021.7,1018.9 1022.6,1012.7 1023.4,1014.6 1024.3,1025.9 1025.1,1011.3 1026.0,1014.4 1026.8,1020.4 1027.7,1014.6 1028.5,1011.4 1029.4,1009.2 1030.2,1016.8 1031.1,1018.3 1032.0,1019.4 1032.8,1013.5 1033.7,1017.9 1034.5,1008.8 1035.4,1012.9 1036.3,1007.8 1037.1,1010.0 1038.0,1012.0 1038.8,1014.1 1039.7,1007.2 1040.6,1019.2 1041.4,1014.0 1042.3,1013.4 1043.2,1018.3 1044.0,1013.3 1044.9,1019.5 1045.8,1019.8 1046.6,1016.3 1047.5,1017.8 1048.4,1012.5 1049.2,1012.1 1050.1,1004.3 1051.0,1009.3 1051.8,1004.6 1052.7,1005.9 1053.6,1007.4 1054.4,1008.7 1055.3,1001.1 1056.2,1002.1 1057.0,1008.3 1057.9,1012.3 1058.8,1012.2 1059.7,1014.8 1060.5,1017.1 1061.4,1014.4 1062.3,1012.8 1063.2,1008.8 1064.0,1009.3 1064.9,1011.4 1065.8,1014.5 1066.7,1013.7 1067.6,1011.7 1068.4,1009.2 1069.3,1010.6 1070.2,1007.1 1071.1,1006.8 1072.0,1007.1 1072.8,1004.3 1073.7,1003.5 1074.6,1011.6 1075.5,1012.5 1076.4,1010.9 1077.2,1011.1 1078.1,1024.0 1079.0,1011.6 1079.9,1014.2 1080.8,1015.7 1081.7,1008.3 1082.6,1013.0 1083.5,1020.1 1084.3,1016.6 1085.2,1015.7 1086.1,1015.8 1087.0,1013.8 1087.9,1017.2 1088.8,1011.5 1089.7,1009.4 1090.6,1011.3 1091.5,1015.3 1092.4,1013.8 1093.2,1016.1 1094.1,1004.2 1095.0,1018.0 1095.9,1023.2 1096.8,1020.0 1097.7,1014.6 1098.6,1014.2 1099.5,1020.5 1100.4,1015.0 1101.3,1021.6 1102.2,1014.0 1103.1,1018.3 1104.0,1017.9 1104.9,1001.2 1105.8,1010.7 1106.7,1005.8 1107.6,1002.7 1108.5,1006.7 1109.4,1009.1 1110.3,1015.1 1111.2,1003.6 1112.1,1015.1 1113.0,1019.0 1113.9,1012.3 1114.8,1012.2 1115.7,1010.0 1116.6,1005.0 1117.6,1012.8 1118.5,1012.2 1119.4,1014.5 1120.3,1024.2 1121.2,1017.3 1122.1,1017.1 1123.0,1022.9 1123.9,1008.7 1124.8,1007.6 1125.7,1008.3 1126.7,1004.2 1127.6,1008.7 1128.5,1003.6 1129.4,1014.0 1130.3,1014.0 1131.2,1010.9 1132.1,1005.3 1133.1,1009.6 1134.0,1010.1 1134.9,1000.9 1135.8,1007.2 1136.7,1008.5 1137.6,1006.2 1138.6,1013.4 1139.5,1013.3 1140.4,1005.5 1141.3,1011.2 1142.2,1006.6 1143.2,1012.4 1144.1,1004.4 1145.0,1012.5 1145.9,1010.2 1146.9,1013.8 1147.8,1009.5 1148.7,1004.3 1149.6,1021.4 1150.6,1013.8 1151.5,1023.0 1152.4,1019.9 1153.3,1022.1 1154.3,1028.4 1155.2,1021.4 1156.1,1026.4 1157.1,1011.5 1158.0,1021.5 1158.9,1014.2 1159.9,1012.7 1160.8,1012.0 1161.7,1013.1 1162.7,1019.6 1163.6,1002.5 1164.5,1011.9 1165.5,1007.5 1166.4,1015.9 1167.3,1007.2 1168.3,1011.2 1169.2,1006.8 1170.1,1011.8 1171.1,1013.0 1172.0,1005.9 1173.0,1008.7 1173.9,1002.1 1174.8,1011.5 1175.8,1014.9 1176.7,1008.4 1177.7,1017.5 1178.6,1001.8 1179.5,1003.2 1180.5,1005.8 1181.4,1010.1 1182.4,1011.9 1183.3,1010.7 1184.3,1011.0 1185.2,1016.2 1186.2,1011.2 1187.1,1007.7 1188.1,1007.7 1189.0,1025.3 1189.9,1003.5 1190.9,1015.9 1191.8,1024.2 1192.8,1017.3 1193.7,1007.6 1194.7,1009.3 1195.7,1012.7 1196.6,1015.4 1197.6,1006.8 1198.5,1018.1 1199.5,1017.3 1200.4,1022.7 1201.4,1024.6 1202.3,1015.7 1203.3,1009.6 1204.2,1018.4 1205.2,1024.6 1206.2,1018.1 1207.1,1015.1 1208.1,1026.1 1209.0,1007.1 1210.0,1016.5 1211.0,1007.6 1211.9,1010.0 1212.9,1010.0 1213.9,1018.5 1214.8,1007.1 1215.8,1010.8 1216.7,1005.8 1217.7,1016.9 1218.7,1011.7 1219.6,1016.9 1220.6,1009.4 1221.6,1013.3 1222.5,1019.8 1223.5,1011.3 1224.5,1013.5 1225.4,1011.1 1226.4,1005.0 1227.4,997.8 1228.4,1011.4 1229.3,1006.5 1230.3,1009.9 1231.3,992.3 1232.2,993.8 1233.2,991.5 1234.2,999.3 1235.2,1010.7 1236.1,1008.5 1237.1,1005.6 1238.1,1007.2 1239.1,1011.7 1240.1,1007.1 1241.0,1012.2 1242.0,1011.9 1243.0,1000.0 1244.0,1011.2 1245.0,1022.0 1245.9,1013.1 1246.9,1014.9 1247.9,1012.1 1248.9,1012.2 1249.9,1020.6 1250.9,1012.5 1251.8,1008.7 1252.8,998.1 1253.8,1014.2 1254.8,1007.6 1255.8,1008.9 1256.8,1023.1 1257.8,1020.9 1258.7,1004.1 1259.7,1018.8 1260.7,1016.4 1261.7,1009.4 1262.7,1017.8 1263.7,1003.1 1264.7,1004.1 1265.7,1001.4 1266.7,1002.1 1267.7,1012.3 1268.7,998.3 1269.7,998.7 1270.7,1000.0 1271.6,1007.6 1272.6,1005.5 1273.6,1013.3 1274.6,1004.3 1275.6,1000.4 1276.6,1003.9 1277.6,1005.7 1278.6,999.2 1279.6,1006.8 1280.6,1017.7 1281.6,1006.6 1282.6,1013.7 1283.6,1024.3 1284.7,1013.8 1285.7,1012.2 1286.7,1009.5 1287.7,1017.5 1288.7,1018.5 1289.7,1015.8 1290.7,1018.2 1291.7,1026.6 1292.7,1024.6 1293.7,1011.0 1294.7,1018.7 1295.7,1018.4 1296.7,1021.2 1297.8,1015.0 1298.8,1012.4 1299.8,1013.8 1300.8,1006.2 1301.8,1017.0 1302.8,1013.3 1303.8,1019.3 1304.8,1009.5 1305.9,1012.2 1306.9,1007.3 1307.9,1004.8 1308.9,1014.3 1309.9,1007.7 1310.9,1015.3 1312.0,1007.9 1313.0,1016.3 1314.0,1005.2 1315.0,1012.3 1316.1,1012.4 1317.1,1019.6 1318.1,1017.1 1319.1,1013.8 1320.1,1017.9 1321.2,1011.6 1322.2,1011.3 1323.2,1010.9 1324.2,1004.8 1325.3,1003.6 1326.3,1008.6 1327.3,1005.6 1328.4,1012.1 1329.4,1018.5 1330.4,1019.4 1331.5,1013.9 1332.5,1009.5 1333.5,1016.7 1334.5,1014.9 1335.6,1020.7 1336.6,1010.2 1337.6,1010.6 1338.7,1016.6 1339.7,1009.6 1340.8,1011.8 1341.8,1022.8 1342.8,1020.2 1343.9,1013.3 1344.9,1009.6 1345.9,1000.9 1347.0,1010.0 1348.0,1007.3 1349.1,1009.8 1350.1,1007.7 1351.1,1014.1 1352.2,1016.1 1353.2,1021.2 1354.3,1028.8 1355.3,1021.8 1356.4,1008.3 1357.4,1011.4 1358.5,1006.6 1359.5,1011.3 1360.6,1020.2 1361.6,1019.9 1362.6,1013.6 1363.7,1018.1 1364.7,1010.2 1365.8,1004.8 1366.9,1004.4 1367.9,1008.0 1369.0,1022.7 1370.0,1005.3 1371.1,1020.8 1372.1,1019.4 1373.2,1007.2 1374.2,1005.7 1375.3,1000.9 1376.3,1004.5 1377.4,1009.1 1378.5,1005.1 1379.5,1011.7 1380.6,1013.6 1381.6,1009.4 1382.7,1010.1 1383.8,1007.5 1384.8,1009.1 1385.9,998.8 1386.9,1007.9 1388.0,1006.3 1389.1,999.3 1390.1,1018.7 1391.2,999.4 1392.3,1000.8 1393.3,1008.6 1394.4,993.9 1395.5,1000.0 1396.5,994.1 1397.6,997.2 1398.7,1003.2 1399.7,1007.2 1400.8,1012.8 1401.9,1010.4 1403.0,1011.3 1404.0,1006.0 1405.1,998.2 1406.2,1006.1 1407.2,994.0 1408.3,989.4 1409.4,997.3 1410.5,989.4 1411.6,983.7 1412.6,985.1 1413.7,985.0 1414.8,973.2 1415.9,980.6 1416.9,976.4 1418.0,984.4 1419.1,981.8 1420.2,992.5 1421.3,989.0 1422.4,983.3 1423.4,987.8 1424.5,983.9 1425.6,991.2 1426.7,995.1 1427.8,995.9 1428.9,989.6 1430.0,999.9 1431.0,1007.2 1432.1,1009.5 1433.2,1014.9 1434.3,1005.1 1435.4,1014.1 1436.5,1011.4 1437.6,1019.5 1438.7,1025.4 1439.8,1030.6 1440.9,1026.8 1442.0,1032.3 1443.1,1027.9 1444.2,1030.0 1445.2,1044.3 1446.3,1045.4 1447.4,1041.0 1448.5,1048.5 1449.6,1055.6 1450.7,1065.3 1451.8,1062.2 1452.9,1059.3 1454.0,1041.8 1455.1,1049.6 1456.2,1051.3 1457.3,1049.3 1458.5,1048.1 1459.6,1042.5 1460.7,1053.5 1461.8,1049.4 1462.9,1036.5 1464.0,1027.9 1465.1,1045.6 1466.2,1023.4 1467.3,1030.5 1468.4,1031.3 1469.5,1008.9 1470.6,1017.9 1471.8,1013.4 1472.9,1018.1 1474.0,1013.0 1475.1,1020.9 1476.2,1006.4 1477.3,998.9 1478.4,1006.2 1479.6,994.3 1480.7,992.7 1481.8,1011.8 1482.9,984.0 1484.0,983.6 1485.1,985.9 1486.3,976.4 1487.4,969.3 1488.5,998.9 1489.6,987.7 1490.7,993.0 1491.9,995.5 1493.0,989.0 1494.1,985.3 1495.2,992.9 1496.4,1010.4 1497.5,996.8 1498.6,999.1 1499.8,983.4 1500.9,1000.5 1502.0,994.7 1503.1,1014.6 1504.3,1007.3 1505.4,1010.1 1506.5,1008.8 1507.7,1003.6 1508.8,993.1 1509.9,1007.9 1511.1,985.9 1512.2,984.2 1513.3,991.1 1514.5,989.0 1515.6,1000.1 1516.8,1008.0 1517.9,999.8 1519.0,996.4 1520.2,991.4 1521.3,996.2 1522.4,969.7 1523.6,989.7 1524.7,978.3 1525.9,976.4 1527.0,988.4 1528.2,985.1 1529.3,995.4 1530.5,1003.0 1531.6,974.3 1532.7,998.8 1533.9,1019.8 1535.0,1009.5 1536.2,1014.5 1537.3,1001.9 1538.5,988.0 1539.6,991.8 1540.8,1010.1 1541.9,1013.5 1543.1,998.6 1544.3,1004.3 1545.4,1009.1 1546.6,987.2 1547.7,998.1 1548.9,1014.5 1550.0,1017.0 1551.2,991.3 1552.3,1009.7 1553.5,988.1 1554.7,989.3 1555.8,979.0 1557.0,1014.1 1558.2,1002.6 1559.3,1031.8 1560.5,1012.3 1561.6,1010.6 1562.8,988.4 1564.0,1019.6 1565.1,997.3 1566.3,996.8 1567.5,974.1 1568.6,1006.7 1569.8,1008.6 1571.0,993.7 1572.1,1002.3 1573.3,1005.4 1574.5,1010.3 1575.7,1000.3 1576.8,1018.2 1578.0,999.4 1579.2,997.3 1580.3,999.0 1581.5,974.9 1582.7,990.5 1583.9,1007.6 1585.1,998.8 1586.2,988.0 1587.4,1002.4 1588.6,976.9 1589.8,994.0 1591.0,999.3 1592.1,998.6 1593.3,983.1 1594.5,1006.7 1595.7,1023.5 1596.9,1001.8 1598.0,1015.4 1599.2,988.3 1600.4,983.1 1601.6,1012.8 1602.8,1007.6 1604.0,1009.7 1605.2,1000.2 1606.4,1002.6 1607.6,1014.7 1608.7,1024.9 1609.9,1001.8 1611.1,982.7 1612.3,1012.5 1613.5,1002.6 1614.7,1003.6 1615.9,999.7 1617.1,1026.5 1618.3,1003.3 1619.5,1011.3 1620.7,987.7 1621.9,1005.9 1623.1,1007.7 1624.3,1017.0 1625.5,1021.8 1626.7,1008.0 1627.9,1034.1 1629.1,997.9 1630.3,1000.6 1631.5,1003.9 1632.7,981.5 1633.9,997.5 1635.1,994.0 1636.3,981.6 1637.5,1008.7 1638.7,991.0 1639.9,997.8 1641.2,987.1 1642.4,980.7 1643.6,992.2 1644.8,992.6 1646.0,986.9 1647.2,998.1 1648.4,959.9 1649.6,975.2 1650.9,967.8 1652.1,1005.7 1653.3,984.2 1654.5,987.6 1655.7,985.4 1656.9,1014.1 1658.2,1000.5 1659.4,1004.8 1660.6,970.9 1661.8,1001.8 1663.0,988.8 1664.3,991.5 1665.5,1003.5 1666.7,990.8 1667.9,994.9 1669.2,1008.7 1670.4,1007.2 1671.6,999.4 1672.9,1001.3 1674.1,992.1 1675.3,1003.9 1676.5,1003.2 1677.8,988.5 1679.0,1009.2 1680.2,969.6 1681.5,991.4 1682.7,1022.7 1683.9,1002.7 1685.2,990.0 1686.4,1024.1 1687.6,1009.7 1688.9,984.9 1690.1,1007.4 1691.4,985.9 1692.6,983.4 1693.8,998.9 1695.1,995.3 1696.3,988.1 1697.6,998.2 1698.8,992.3 1700.0,1007.6 1701.3,1008.4 1702.5,1018.6 1703.8,1003.7 1705.0,993.6 1706.3,996.8 1707.5,1014.7 1708.8,1039.6 1710.0,1029.2 1711.3,1004.4 1712.5,1016.2 1713.8,984.3 1715.0,1008.9 1716.3,991.1 1717.5,1005.2 1718.8,1001.8 1720.0,988.3 1721.3,994.8 1722.6,978.2 1723.8,993.1 1725.1,1010.3 1726.3,1050.1 1727.6,1007.9 1728.8,1000.1 1730.1,988.1 1731.4,1018.9 1732.6,990.0 1733.9,1003.8 1735.2,1017.6 1736.4,995.0 1737.7,1028.3 1739.0,1024.0 1740.2,1006.4 1741.5,1010.4 1742.8,1003.3 1744.0,1003.1 1745.3,1026.2 1746.6,1026.9 1747.8,1020.6 1749.1,1015.5 1750.4,1000.4 1751.7,1007.6 1752.9,979.9 1754.2,995.2 1755.5,1011.1 1756.8,1008.5 1758.0,989.0 1759.3,998.8 1760.6,1030.7 1761.9,1043.0 1763.2,1001.8 1764.4,1011.8 1765.7,1013.9 1767.0,1020.0 1768.3,987.7 1769.6,1003.3 1770.8,989.4 1772.1,1024.6 1773.4,1000.9 1774.7,996.4 1776.0,997.3 1777.3,1018.7 1778.6,1015.5 1779.9,992.0 1781.2,1007.4 1782.4,984.9 1783.7,991.6 1785.0,985.4 1786.3,987.7 1787.6,998.8 1788.9,995.4 1790.2,1012.6 1791.5,1011.9 1792.8,994.9 1794.1,982.3 1795.4,1008.9 1796.7,973.2 1798.0,976.7 1799.3,1014.3 1800.6,1015.7 1801.9,1022.3 1803.2,1008.4 1804.5,995.3 1805.8,1004.7 1807.1,1017.5 1808.4,997.4 1809.7,995.5 1811.0,982.8 1812.3,982.8 1813.7,1008.2 1815.0,1003.0 1816.3,981.2 1817.6,980.1 1818.9,981.7 1820.2,990.1 1821.5,963.2 1822.8,978.4 1824.2,958.5 1825.5,979.0 1826.8,1008.1 1828.1,1016.9 1829.4,987.8 1830.7,990.0 1832.1,1008.7 1833.4,991.5 1834.7,990.8 1836.0,1008.8 1837.4,1008.7 1838.7,1024.5 1840.0,1021.2 1841.3,1002.1 1842.7,1007.8 1844.0,1008.8 1845.3,991.4 1846.6,996.0 1848.0,1021.2 1849.3,985.0 1850.6,1021.0 1852.0,1013.6 1853.3,1011.2 1854.6,1024.2 1856.0,1026.6 1857.3,1038.9 1858.6,1017.8 1860.0,1020.2 1861.3,1018.3 1862.6,1043.0 1864.0,1022.6 1865.3,988.5 1866.7,990.8 1868.0,983.8 1869.3,994.2 1870.7,996.8 1872.0,1023.3 1873.4,963.2 1874.7,1002.2 1876.1,998.3 1877.4,991.9 1878.7,1011.2 1880.1,1015.1 1881.4,1023.6 1882.8,1028.7 1884.1,979.6 1885.5,1006.4 1886.8,977.5 1888.2,1007.4 1889.5,1001.7 1890.9,1023.4 1892.3,1021.4 1893.6,1032.1 1895.0,1018.0 1896.3,1003.1 1897.7,1019.8 1899.0,1016.0 1900.4,1034.0 1901.8,978.8 1903.1,1008.4 1904.5,1028.3 1905.8,994.1 1907.2,1004.6 1908.6,1034.4 1909.9,1023.4 1911.3,991.7 1912.7,1025.8 1914.0,1024.1 1915.4,1019.5 1916.8,1014.0 1918.1,1010.9 1919.5,993.6 1920.9,997.5 1922.3,1015.0 1923.6,1006.4 1925.0,1029.5 1926.4,996.1 1927.8,964.4 1929.1,992.7 1930.5,1001.9 1931.9,1004.1 1933.3,998.5 1934.6,982.4 1936.0,1011.1 1937.4,977.0 1938.8,996.2 1940.2,984.3 1941.5,975.7 1942.9,1017.9 1944.3,965.3 1945.7,990.7 1947.1,1009.1 1948.5,997.4 1949.9,1013.3 1951.3,1001.4 1952.6,996.0 1954.0,1032.2 1955.4,996.1 1956.8,996.4 1958.2,984.0 1959.6,991.3 1961.0,1015.0 1962.4,1018.6 1963.8,1015.0 1965.2,1006.7 1966.6,1023.8 1968.0,982.4"/>
<g stroke="#008000" stroke-width="7" stroke-linecap="round">
<line x1="323.4" y1="807.5" x2="323.4" y2="832"/>
<line x1="573.2" y1="807.5" x2="573.2" y2="832"/>
<line x1="175.2" y1="876.5" x2="175.2" y2="901.5"/>
<line x1="194.2" y1="876.5" x2="194.2" y2="901.5"/>
<line x1="250.4" y1="876.5" x2="250.4" y2="901.5"/>
<line x1="324.2" y1="876.5" x2="324.2" y2="901.5"/>
<line x1="363.3" y1="876.5" x2="363.3" y2="901.5"/>
<line x1="410.6" y1="876.5" x2="410.6" y2="901.5"/>
<line x1="593.3" y1="876.5" x2="593.3" y2="901.5"/>
<line x1="664.1" y1="876.5" x2="664.1" y2="901.5"/>
<line x1="1440.5" y1="876.5" x2="1440.5" y2="901.5"/>
<line x1="826.5" y1="415.5" x2="826.5" y2="440.5"/>
</g>
<line x1="747.5" y1="253.4" x2="905.5" y2="253.4" stroke="#000" stroke-width="7" stroke-linecap="round"/>
<line x1="746.5" y1="340.5" x2="905.5" y2="340.5" stroke="#00f" stroke-width="5.2" stroke-linecap="round"/>
<circle cx="826" cy="166" r="5" fill="url(#g)"/>
<g stroke="#000" stroke-width="5" fill="none">
<rect x="152.5" y="29.5" width="1815.5" height="1063"/>
<path d="M455.1 1090V1080M1060.2 1090V1080M1665.4 1090V1080M757.7 1090V1069M1362.8 1090V1069M155 206.25H176M155 560.75H176M155 915.25H176M155 383.5H165M155 738H165"/>
</g>
<g font-family="Liberation Serif, 'Times New Roman', serif" fill="#000" style="font-kerning:none">
<text font-size="86" transform="translate(177.84 110.00) scale(0.9850 1)">0.28 K - 2 K (bank2)</text>
<text font-size="86" transform="translate(1461.08 241.80) scale(0.9791 1)"><tspan font-style="italic">x</tspan> = 0.05</text>
<text font-size="86" transform="translate(977.00 1232.30) scale(1.0000 1)"><tspan font-style="italic">d</tspan> (Å)</text>
<text font-size="85.7" transform="translate(82.80 809.87) rotate(-90) scale(0.9909 1)">Intensity (a.u.)</text>
<text font-size="73" transform="translate(921.92 190.10) scale(0.9788 1)">Yobs</text>
<text font-size="73" transform="translate(921.92 277.80) scale(0.9790 1)">Ycalc</text>
<text font-size="73" transform="translate(921.93 364.90) scale(0.9737 1)">Yobs-Ycalc</text>
<text font-size="73" transform="translate(922.15 452.00) scale(0.9752 1)">Bragg_position</text>
<text font-size="74.5" transform="translate(135.39 1172.20) scale(0.8710 1)">3</text>
<text font-size="74.5" transform="translate(739.07 1172.20) scale(0.9781 1)">6</text>
<text font-size="74.5" transform="translate(1345.79 1172.20) scale(0.9531 1)">9</text>
<text font-size="74.5" transform="translate(1935.28 1172.20) scale(0.9375 1)">12</text>
<text font-size="61" transform="translate(201.80 485.98) rotate(-90) scale(0.9883 1)">0-11/-101 - <tspan font-style="italic">k</tspan></text>
<text font-size="61" transform="translate(242.50 666.20) rotate(-90) scale(0.9792 1)">103/013 - <tspan font-style="italic">k</tspan></text>
<text font-size="61" transform="translate(276.40 356.31) rotate(-90) scale(0.9818 1)">112 - <tspan font-style="italic">k</tspan></text>
<text font-size="61" transform="translate(346.30 619.90) rotate(-90) scale(0.9500 1)">002 + <tspan font-style="italic">k</tspan>, 101</text>
<text font-size="61" transform="translate(398.00 348.82) rotate(-90) scale(0.9648 1)">110 - <tspan font-style="italic">k</tspan></text>
<text font-size="61" transform="translate(441.90 612.59) rotate(-90) scale(0.9469 1)">0-1-1/-101 + <tspan font-style="italic">k</tspan></text>
<text font-size="61" transform="translate(603.10 599.92) rotate(-90) scale(0.9836 1)">101/011 - <tspan font-style="italic">k</tspan></text>
<text font-size="61" transform="translate(692.70 590.30) rotate(-90) scale(0.9976 1)">002 - <tspan font-style="italic">k</tspan></text>
<text font-size="61" transform="translate(1449.80 504.89) rotate(-90) scale(0.9967 1)">000 ± <tspan font-style="italic">k</tspan></text>
<text font-size="86" transform="translate(1313.8 118.3) scale(0.985 1)">Ce(Cu<tspan font-size="59" dy="22">1-<tspan font-style="italic">x</tspan></tspan><tspan dy="-22">Co</tspan><tspan font-size="59" font-style="italic" dy="22">x</tspan><tspan dy="-22">)</tspan><tspan font-size="59" dy="22">2</tspan><tspan dy="-22">Ge</tspan><tspan font-size="59" dy="22">2</tspan></text>
</g>
</svg>
</body></html>
